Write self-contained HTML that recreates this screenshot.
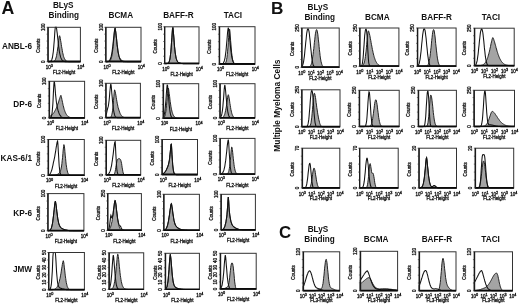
<!DOCTYPE html>
<html><head><meta charset="utf-8"><style>
html,body{margin:0;padding:0;background:#fff;}
body{width:520px;height:305px;overflow:hidden;}
svg{display:block;filter:grayscale(1) blur(0.3px);}
.s{stroke:#111;stroke-width:0.28px;}
svg{font-family:"Liberation Sans",sans-serif;}
</style></head><body>
<svg width="520" height="305" viewBox="0 0 520 305" fill="#111">
<rect width="520" height="305" fill="#fff"/>
<path d="M47.9 61.7 L47.9 61.7 L48.2 61.7 L48.6 61.7 L48.9 61.7 L49.2 61.7 L49.6 61.7 L49.9 61.7 L50.2 61.7 L50.6 61.7 L50.9 61.7 L51.3 61.7 L51.6 61.7 L51.9 61.7 L52.3 61.6 L52.6 61.6 L52.9 61.6 L53.3 61.5 L53.6 61.4 L53.9 61.3 L54.3 61.0 L54.6 60.8 L54.9 60.4 L55.3 59.8 L55.6 59.1 L55.9 58.1 L56.3 56.9 L56.6 55.4 L56.9 53.6 L57.3 51.4 L57.6 49.0 L58.0 46.3 L58.3 43.4 L58.6 40.6 L59.0 38.0 L59.3 36.1 L59.6 35.7 L60.0 36.8 L60.3 38.4 L60.6 40.3 L61.0 42.4 L61.3 44.6 L61.6 46.7 L62.0 48.7 L62.3 50.6 L62.6 52.4 L63.0 53.9 L63.3 55.3 L63.6 56.5 L64.0 57.5 L64.3 58.3 L64.7 59.0 L65.0 59.6 L65.3 60.1 L65.7 60.4 L66.0 60.7 L66.3 61.0 L66.7 61.1 L67.0 61.3 L67.3 61.4 L67.7 61.5 L68.0 61.5 L68.3 61.6 L68.7 61.6 L69.0 61.6 L69.3 61.7 L69.7 61.7 L70.0 61.7 L70.3 61.7 L70.7 61.7 L71.0 61.7 L71.4 61.7 L71.7 61.7 L72.0 61.7 L72.4 61.7 L72.7 61.7 L73.0 61.7 L73.4 61.7 L73.7 61.7 L74.0 61.7 L74.4 61.7 L74.7 61.7 L75.0 61.7 L75.4 61.7 L75.7 61.7 L76.0 61.7 L76.4 61.7 L76.7 61.7 L77.0 61.7 L77.4 61.7 L77.7 61.7 L78.1 61.7 L78.4 61.7 L78.7 61.7 L79.1 61.7 L79.4 61.7 L79.7 61.7 L80.1 61.7 L80.4 61.7 L80.4 61.7 Z" fill="#a4a4a4" stroke="#1a1a1a" stroke-width="0.95"/>
<path d="M47.9 61.7 L47.9 61.7 L48.2 61.7 L48.6 61.7 L48.9 61.7 L49.2 61.6 L49.6 61.6 L49.9 61.5 L50.2 61.4 L50.6 61.2 L50.9 61.0 L51.3 60.6 L51.6 60.0 L51.9 59.2 L52.3 58.0 L52.6 56.5 L52.9 54.4 L53.3 51.8 L53.6 48.6 L53.9 44.7 L54.3 40.3 L54.6 35.6 L54.9 30.9 L55.3 27.3 L55.6 27.3 L55.9 27.3 L56.3 27.3 L56.6 28.5 L56.9 31.1 L57.3 33.9 L57.6 37.0 L58.0 40.3 L58.3 43.4 L58.6 46.3 L59.0 48.8 L59.3 51.1 L59.6 53.0 L60.0 54.6 L60.3 56.0 L60.6 57.2 L61.0 58.1 L61.3 58.8 L61.6 59.5 L62.0 59.9 L62.3 60.3 L62.6 60.6 L63.0 60.9 L63.3 61.1 L63.6 61.2 L64.0 61.3 L64.3 61.4 L64.7 61.5 L65.0 61.6 L65.3 61.6 L65.7 61.6 L66.0 61.6 L66.3 61.7 L66.7 61.7 L67.0 61.7 L67.3 61.7 L67.7 61.7 L68.0 61.7 L68.3 61.7 L68.7 61.7 L69.0 61.7 L69.3 61.7 L69.7 61.7 L70.0 61.7 L70.3 61.7 L70.7 61.7 L71.0 61.7 L71.4 61.7 L71.7 61.7 L72.0 61.7 L72.4 61.7 L72.7 61.7 L73.0 61.7 L73.4 61.7 L73.7 61.7 L74.0 61.7 L74.4 61.7 L74.7 61.7 L75.0 61.7 L75.4 61.7 L75.7 61.7 L76.0 61.7 L76.4 61.7 L76.7 61.7 L77.0 61.7 L77.4 61.7 L77.7 61.7 L78.1 61.7 L78.4 61.7 L78.7 61.7 L79.1 61.7 L79.4 61.7 L79.7 61.7 L80.1 61.7 L80.4 61.7" fill="none" stroke="#111" stroke-width="1.05"/>
<rect x="47.90" y="27.30" width="32.50" height="34.40" fill="none" stroke="#333" stroke-width="1.0"/>
<line x1="47.90" y1="61.40" x2="80.40" y2="61.40" stroke="#0a0a0a" stroke-width="1.6"/>
<line x1="48.10" y1="27.30" x2="48.10" y2="61.70" stroke="#1a1a1a" stroke-width="1.4"/>
<line x1="46.50" y1="61.70" x2="47.90" y2="61.70" stroke="#333" stroke-width="0.6"/>
<line x1="46.50" y1="54.82" x2="47.90" y2="54.82" stroke="#333" stroke-width="0.6"/>
<line x1="46.50" y1="47.94" x2="47.90" y2="47.94" stroke="#333" stroke-width="0.6"/>
<line x1="46.50" y1="41.06" x2="47.90" y2="41.06" stroke="#333" stroke-width="0.6"/>
<line x1="46.50" y1="34.18" x2="47.90" y2="34.18" stroke="#333" stroke-width="0.6"/>
<line x1="46.50" y1="27.30" x2="47.90" y2="27.30" stroke="#333" stroke-width="0.6"/>
<text class="s" transform="translate(44.90 27.30) rotate(-90)" text-anchor="middle" font-size="4.5">100</text>
<text class="s" transform="translate(44.90 61.70) rotate(-90)" text-anchor="middle" font-size="4.5">0</text>
<text class="s" transform="translate(39.90 45.70) rotate(-90)" text-anchor="middle" font-size="4.5">Counts</text>
<text class="s" x="49.20" y="68.70" text-anchor="middle" font-size="4.5">10<tspan font-size="3.8" dy="-1.9">0</tspan></text>
<text class="s" x="80.70" y="68.70" text-anchor="middle" font-size="4.5">10<tspan font-size="3.8" dy="-1.9">4</tspan></text>
<text class="s" x="64.15" y="73.90" text-anchor="middle" font-size="4.5">FL2-Height</text>
<path d="M105.7 61.7 L105.7 61.7 L106.0 61.7 L106.4 61.7 L106.7 61.7 L107.0 61.7 L107.4 61.7 L107.7 61.6 L108.1 61.6 L108.4 61.6 L108.7 61.5 L109.1 61.4 L109.4 61.2 L109.7 61.0 L110.1 60.7 L110.4 60.2 L110.7 59.6 L111.1 58.7 L111.4 57.6 L111.8 56.2 L112.1 54.4 L112.4 52.2 L112.8 49.6 L113.1 46.6 L113.4 43.2 L113.8 39.5 L114.1 35.9 L114.4 32.4 L114.8 29.6 L115.1 28.1 L115.4 29.5 L115.8 32.0 L116.1 35.2 L116.5 38.5 L116.8 41.8 L117.1 44.9 L117.5 47.8 L117.8 50.2 L118.1 52.3 L118.5 54.1 L118.8 55.4 L119.1 56.5 L119.5 57.4 L119.8 58.0 L120.2 58.6 L120.5 59.1 L120.8 59.5 L121.2 59.8 L121.5 60.1 L121.8 60.4 L122.2 60.6 L122.5 60.8 L122.8 60.9 L123.2 61.1 L123.5 61.2 L123.9 61.3 L124.2 61.4 L124.5 61.4 L124.9 61.5 L125.2 61.5 L125.5 61.6 L125.9 61.6 L126.2 61.6 L126.5 61.6 L126.9 61.7 L127.2 61.7 L127.6 61.7 L127.9 61.7 L128.2 61.7 L128.6 61.7 L128.9 61.7 L129.2 61.7 L129.6 61.7 L129.9 61.7 L130.2 61.7 L130.6 61.7 L130.9 61.7 L131.3 61.7 L131.6 61.7 L131.9 61.7 L132.3 61.7 L132.6 61.7 L132.9 61.7 L133.3 61.7 L133.6 61.7 L133.9 61.7 L134.3 61.7 L134.6 61.7 L134.9 61.7 L135.3 61.7 L135.6 61.7 L136.0 61.7 L136.3 61.7 L136.6 61.7 L137.0 61.7 L137.3 61.7 L137.6 61.7 L138.0 61.7 L138.3 61.7 L138.6 61.7 L139.0 61.7 L139.3 61.7 L139.7 61.7 L140.0 61.7 L140.3 61.7 L140.7 61.7 L141.0 61.7 L141.0 61.7 Z" fill="#a4a4a4" stroke="#1a1a1a" stroke-width="0.95"/>
<path d="M105.7 61.7 L105.7 61.7 L106.0 61.7 L106.4 61.7 L106.7 61.6 L107.0 61.6 L107.4 61.6 L107.7 61.5 L108.1 61.4 L108.4 61.3 L108.7 61.1 L109.1 60.9 L109.4 60.6 L109.7 60.1 L110.1 59.6 L110.4 58.8 L110.7 57.9 L111.1 56.7 L111.4 55.3 L111.8 53.5 L112.1 51.5 L112.4 49.1 L112.8 46.4 L113.1 43.4 L113.4 40.2 L113.8 36.9 L114.1 33.8 L114.4 31.0 L114.8 29.0 L115.1 28.5 L115.4 30.1 L115.8 32.5 L116.1 35.3 L116.5 38.3 L116.8 41.4 L117.1 44.4 L117.5 47.1 L117.8 49.6 L118.1 51.8 L118.5 53.7 L118.8 55.4 L119.1 56.7 L119.5 57.8 L119.8 58.7 L120.2 59.4 L120.5 60.0 L120.8 60.4 L121.2 60.8 L121.5 61.0 L121.8 61.2 L122.2 61.4 L122.5 61.5 L122.8 61.5 L123.2 61.6 L123.5 61.6 L123.9 61.6 L124.2 61.7 L124.5 61.7 L124.9 61.7 L125.2 61.7 L125.5 61.7 L125.9 61.7 L126.2 61.7 L126.5 61.7 L126.9 61.7 L127.2 61.7 L127.6 61.7 L127.9 61.7 L128.2 61.7 L128.6 61.7 L128.9 61.7 L129.2 61.7 L129.6 61.7 L129.9 61.7 L130.2 61.7 L130.6 61.7 L130.9 61.7 L131.3 61.7 L131.6 61.7 L131.9 61.7 L132.3 61.7 L132.6 61.7 L132.9 61.7 L133.3 61.7 L133.6 61.7 L133.9 61.7 L134.3 61.7 L134.6 61.7 L134.9 61.7 L135.3 61.7 L135.6 61.7 L136.0 61.7 L136.3 61.7 L136.6 61.7 L137.0 61.7 L137.3 61.7 L137.6 61.7 L138.0 61.7 L138.3 61.7 L138.6 61.7 L139.0 61.7 L139.3 61.7 L139.7 61.7 L140.0 61.7 L140.3 61.7 L140.7 61.7 L141.0 61.7" fill="none" stroke="#111" stroke-width="1.05"/>
<rect x="105.70" y="27.30" width="35.30" height="34.40" fill="none" stroke="#333" stroke-width="1.0"/>
<line x1="105.70" y1="61.40" x2="141.00" y2="61.40" stroke="#0a0a0a" stroke-width="1.6"/>
<line x1="105.90" y1="27.30" x2="105.90" y2="61.70" stroke="#1a1a1a" stroke-width="1.4"/>
<line x1="104.30" y1="61.70" x2="105.70" y2="61.70" stroke="#333" stroke-width="0.6"/>
<line x1="104.30" y1="54.82" x2="105.70" y2="54.82" stroke="#333" stroke-width="0.6"/>
<line x1="104.30" y1="47.94" x2="105.70" y2="47.94" stroke="#333" stroke-width="0.6"/>
<line x1="104.30" y1="41.06" x2="105.70" y2="41.06" stroke="#333" stroke-width="0.6"/>
<line x1="104.30" y1="34.18" x2="105.70" y2="34.18" stroke="#333" stroke-width="0.6"/>
<line x1="104.30" y1="27.30" x2="105.70" y2="27.30" stroke="#333" stroke-width="0.6"/>
<text class="s" transform="translate(102.70 27.30) rotate(-90)" text-anchor="middle" font-size="4.5">100</text>
<text class="s" transform="translate(102.70 61.70) rotate(-90)" text-anchor="middle" font-size="4.5">0</text>
<text class="s" transform="translate(97.70 45.70) rotate(-90)" text-anchor="middle" font-size="4.5">Counts</text>
<text class="s" x="107.00" y="68.70" text-anchor="middle" font-size="4.5">10<tspan font-size="3.8" dy="-1.9">0</tspan></text>
<text class="s" x="141.30" y="68.70" text-anchor="middle" font-size="4.5">10<tspan font-size="3.8" dy="-1.9">4</tspan></text>
<text class="s" x="123.35" y="73.90" text-anchor="middle" font-size="4.5">FL2-Height</text>
<path d="M164.5 63.6 L164.5 63.6 L164.8 63.6 L165.2 63.6 L165.5 63.6 L165.8 63.6 L166.2 63.6 L166.5 63.6 L166.8 63.5 L167.2 63.5 L167.5 63.4 L167.8 63.3 L168.2 63.1 L168.5 62.8 L168.9 62.3 L169.2 61.6 L169.5 60.6 L169.9 59.1 L170.2 57.1 L170.5 54.5 L170.9 51.2 L171.2 47.2 L171.5 42.6 L171.9 37.6 L172.2 32.8 L172.5 28.9 L172.9 27.4 L173.2 29.8 L173.5 33.6 L173.9 37.9 L174.2 42.2 L174.5 46.3 L174.9 49.8 L175.2 52.7 L175.6 55.1 L175.9 56.9 L176.2 58.4 L176.6 59.6 L176.9 60.4 L177.2 61.1 L177.6 61.6 L177.9 62.0 L178.2 62.3 L178.6 62.6 L178.9 62.8 L179.2 62.9 L179.6 63.0 L179.9 63.2 L180.2 63.2 L180.6 63.3 L180.9 63.4 L181.2 63.4 L181.6 63.5 L181.9 63.5 L182.3 63.5 L182.6 63.5 L182.9 63.6 L183.3 63.6 L183.6 63.6 L183.9 63.6 L184.3 63.6 L184.6 63.6 L184.9 63.6 L185.3 63.6 L185.6 63.6 L185.9 63.6 L186.3 63.6 L186.6 63.6 L186.9 63.6 L187.3 63.6 L187.6 63.6 L187.9 63.6 L188.3 63.6 L188.6 63.6 L189.0 63.6 L189.3 63.6 L189.6 63.6 L190.0 63.6 L190.3 63.6 L190.6 63.6 L191.0 63.6 L191.3 63.6 L191.6 63.6 L192.0 63.6 L192.3 63.6 L192.6 63.6 L193.0 63.6 L193.3 63.6 L193.6 63.6 L194.0 63.6 L194.3 63.6 L194.6 63.6 L195.0 63.6 L195.3 63.6 L195.7 63.6 L196.0 63.6 L196.3 63.6 L196.7 63.6 L197.0 63.6 L197.3 63.6 L197.7 63.6 L198.0 63.6 L198.3 63.6 L198.7 63.6 L199.0 63.6 L199.0 63.6 Z" fill="#a4a4a4" stroke="#1a1a1a" stroke-width="0.95"/>
<path d="M164.5 63.6 L164.5 63.6 L164.8 63.6 L165.2 63.6 L165.5 63.6 L165.8 63.6 L166.2 63.6 L166.5 63.6 L166.8 63.5 L167.2 63.5 L167.5 63.4 L167.8 63.3 L168.2 63.1 L168.5 62.8 L168.9 62.3 L169.2 61.6 L169.5 60.6 L169.9 59.1 L170.2 57.1 L170.5 54.5 L170.9 51.2 L171.2 47.2 L171.5 42.6 L171.9 37.6 L172.2 32.8 L172.5 28.9 L172.9 27.4 L173.2 29.8 L173.5 33.6 L173.9 37.9 L174.2 42.2 L174.5 46.3 L174.9 49.8 L175.2 52.7 L175.6 55.1 L175.9 56.9 L176.2 58.4 L176.6 59.6 L176.9 60.4 L177.2 61.1 L177.6 61.6 L177.9 62.0 L178.2 62.3 L178.6 62.6 L178.9 62.8 L179.2 62.9 L179.6 63.0 L179.9 63.2 L180.2 63.2 L180.6 63.3 L180.9 63.4 L181.2 63.4 L181.6 63.5 L181.9 63.5 L182.3 63.5 L182.6 63.5 L182.9 63.6 L183.3 63.6 L183.6 63.6 L183.9 63.6 L184.3 63.6 L184.6 63.6 L184.9 63.6 L185.3 63.6 L185.6 63.6 L185.9 63.6 L186.3 63.6 L186.6 63.6 L186.9 63.6 L187.3 63.6 L187.6 63.6 L187.9 63.6 L188.3 63.6 L188.6 63.6 L189.0 63.6 L189.3 63.6 L189.6 63.6 L190.0 63.6 L190.3 63.6 L190.6 63.6 L191.0 63.6 L191.3 63.6 L191.6 63.6 L192.0 63.6 L192.3 63.6 L192.6 63.6 L193.0 63.6 L193.3 63.6 L193.6 63.6 L194.0 63.6 L194.3 63.6 L194.6 63.6 L195.0 63.6 L195.3 63.6 L195.7 63.6 L196.0 63.6 L196.3 63.6 L196.7 63.6 L197.0 63.6 L197.3 63.6 L197.7 63.6 L198.0 63.6 L198.3 63.6 L198.7 63.6 L199.0 63.6" fill="none" stroke="#111" stroke-width="1.05"/>
<rect x="164.50" y="26.80" width="34.50" height="36.80" fill="none" stroke="#333" stroke-width="1.0"/>
<line x1="164.50" y1="63.30" x2="199.00" y2="63.30" stroke="#0a0a0a" stroke-width="1.6"/>
<line x1="164.70" y1="26.80" x2="164.70" y2="63.60" stroke="#1a1a1a" stroke-width="1.4"/>
<line x1="163.10" y1="63.60" x2="164.50" y2="63.60" stroke="#333" stroke-width="0.6"/>
<line x1="163.10" y1="56.24" x2="164.50" y2="56.24" stroke="#333" stroke-width="0.6"/>
<line x1="163.10" y1="48.88" x2="164.50" y2="48.88" stroke="#333" stroke-width="0.6"/>
<line x1="163.10" y1="41.52" x2="164.50" y2="41.52" stroke="#333" stroke-width="0.6"/>
<line x1="163.10" y1="34.16" x2="164.50" y2="34.16" stroke="#333" stroke-width="0.6"/>
<line x1="163.10" y1="26.80" x2="164.50" y2="26.80" stroke="#333" stroke-width="0.6"/>
<text class="s" transform="translate(161.50 26.80) rotate(-90)" text-anchor="middle" font-size="4.5">100</text>
<text class="s" transform="translate(161.50 63.60) rotate(-90)" text-anchor="middle" font-size="4.5">0</text>
<text class="s" transform="translate(156.50 46.40) rotate(-90)" text-anchor="middle" font-size="4.5">Counts</text>
<text class="s" x="165.80" y="70.60" text-anchor="middle" font-size="4.5">10<tspan font-size="3.8" dy="-1.9">0</tspan></text>
<text class="s" x="199.30" y="70.60" text-anchor="middle" font-size="4.5">10<tspan font-size="3.8" dy="-1.9">4</tspan></text>
<text class="s" x="181.75" y="75.80" text-anchor="middle" font-size="4.5">FL2-Height</text>
<path d="M219.3 64.2 L219.3 64.2 L219.6 64.2 L220.0 64.2 L220.3 64.2 L220.6 64.2 L221.0 64.2 L221.3 64.2 L221.6 64.2 L222.0 64.2 L222.3 64.2 L222.6 64.2 L223.0 64.2 L223.3 64.2 L223.6 64.1 L224.0 64.1 L224.3 64.0 L224.6 63.9 L225.0 63.7 L225.3 63.3 L225.6 62.8 L226.0 62.0 L226.3 60.9 L226.6 59.4 L227.0 57.3 L227.3 54.6 L227.6 51.2 L228.0 47.1 L228.3 42.5 L228.6 37.6 L229.0 33.0 L229.3 29.5 L229.6 29.1 L230.0 32.0 L230.3 36.0 L230.6 40.5 L231.0 44.9 L231.3 49.0 L231.6 52.5 L232.0 55.4 L232.3 57.8 L232.6 59.6 L233.0 61.0 L233.3 62.0 L233.6 62.7 L234.0 63.2 L234.3 63.6 L234.6 63.8 L235.0 64.0 L235.3 64.1 L235.6 64.1 L236.0 64.1 L236.3 64.2 L236.6 64.2 L237.0 64.2 L237.3 64.2 L237.7 64.2 L238.0 64.2 L238.3 64.2 L238.7 64.2 L239.0 64.2 L239.3 64.2 L239.7 64.2 L240.0 64.2 L240.3 64.2 L240.7 64.2 L241.0 64.2 L241.3 64.2 L241.7 64.2 L242.0 64.2 L242.3 64.2 L242.7 64.2 L243.0 64.2 L243.3 64.2 L243.7 64.2 L244.0 64.2 L244.3 64.2 L244.7 64.2 L245.0 64.2 L245.3 64.2 L245.7 64.2 L246.0 64.2 L246.3 64.2 L246.7 64.2 L247.0 64.2 L247.3 64.2 L247.7 64.2 L248.0 64.2 L248.3 64.2 L248.7 64.2 L249.0 64.2 L249.3 64.2 L249.7 64.2 L250.0 64.2 L250.3 64.2 L250.7 64.2 L251.0 64.2 L251.3 64.2 L251.7 64.2 L252.0 64.2 L252.3 64.2 L252.7 64.2 L253.0 64.2 L253.3 64.2 L253.7 64.2 L254.0 64.2 L254.3 64.2 L254.7 64.2 L255.0 64.2 L255.0 64.2 Z" fill="#a4a4a4" stroke="#1a1a1a" stroke-width="0.95"/>
<path d="M219.3 64.2 L219.3 64.2 L219.6 64.2 L220.0 64.2 L220.3 64.2 L220.6 64.2 L221.0 64.1 L221.3 64.1 L221.6 64.0 L222.0 64.0 L222.3 63.8 L222.6 63.6 L223.0 63.4 L223.3 63.0 L223.6 62.5 L224.0 61.8 L224.3 60.9 L224.6 59.6 L225.0 58.1 L225.3 56.1 L225.6 53.7 L226.0 50.8 L226.3 47.5 L226.6 43.8 L227.0 39.8 L227.3 35.8 L227.6 32.1 L228.0 29.0 L228.3 27.5 L228.6 28.8 L229.0 31.4 L229.3 34.6 L229.6 38.1 L230.0 41.7 L230.3 45.1 L230.6 48.3 L231.0 51.1 L231.3 53.7 L231.6 55.8 L232.0 57.6 L232.3 59.1 L232.6 60.3 L233.0 61.3 L233.3 62.0 L233.6 62.6 L234.0 63.0 L234.3 63.4 L234.6 63.6 L235.0 63.8 L235.3 63.9 L235.6 64.0 L236.0 64.1 L236.3 64.1 L236.6 64.1 L237.0 64.2 L237.3 64.2 L237.7 64.2 L238.0 64.2 L238.3 64.2 L238.7 64.2 L239.0 64.2 L239.3 64.2 L239.7 64.2 L240.0 64.2 L240.3 64.2 L240.7 64.2 L241.0 64.2 L241.3 64.2 L241.7 64.2 L242.0 64.2 L242.3 64.2 L242.7 64.2 L243.0 64.2 L243.3 64.2 L243.7 64.2 L244.0 64.2 L244.3 64.2 L244.7 64.2 L245.0 64.2 L245.3 64.2 L245.7 64.2 L246.0 64.2 L246.3 64.2 L246.7 64.2 L247.0 64.2 L247.3 64.2 L247.7 64.2 L248.0 64.2 L248.3 64.2 L248.7 64.2 L249.0 64.2 L249.3 64.2 L249.7 64.2 L250.0 64.2 L250.3 64.2 L250.7 64.2 L251.0 64.2 L251.3 64.2 L251.7 64.2 L252.0 64.2 L252.3 64.2 L252.7 64.2 L253.0 64.2 L253.3 64.2 L253.7 64.2 L254.0 64.2 L254.3 64.2 L254.7 64.2 L255.0 64.2" fill="none" stroke="#111" stroke-width="1.05"/>
<rect x="219.30" y="26.70" width="35.70" height="37.50" fill="none" stroke="#333" stroke-width="1.0"/>
<line x1="219.30" y1="63.90" x2="255.00" y2="63.90" stroke="#0a0a0a" stroke-width="1.6"/>
<line x1="219.50" y1="26.70" x2="219.50" y2="64.20" stroke="#1a1a1a" stroke-width="1.4"/>
<line x1="217.90" y1="64.20" x2="219.30" y2="64.20" stroke="#333" stroke-width="0.6"/>
<line x1="217.90" y1="56.70" x2="219.30" y2="56.70" stroke="#333" stroke-width="0.6"/>
<line x1="217.90" y1="49.20" x2="219.30" y2="49.20" stroke="#333" stroke-width="0.6"/>
<line x1="217.90" y1="41.70" x2="219.30" y2="41.70" stroke="#333" stroke-width="0.6"/>
<line x1="217.90" y1="34.20" x2="219.30" y2="34.20" stroke="#333" stroke-width="0.6"/>
<line x1="217.90" y1="26.70" x2="219.30" y2="26.70" stroke="#333" stroke-width="0.6"/>
<text class="s" transform="translate(216.30 26.70) rotate(-90)" text-anchor="middle" font-size="4.5">100</text>
<text class="s" transform="translate(216.30 64.20) rotate(-90)" text-anchor="middle" font-size="4.5">0</text>
<text class="s" transform="translate(211.30 46.65) rotate(-90)" text-anchor="middle" font-size="4.5">Counts</text>
<text class="s" x="220.60" y="71.20" text-anchor="middle" font-size="4.5">10<tspan font-size="3.8" dy="-1.9">0</tspan></text>
<text class="s" x="255.30" y="71.20" text-anchor="middle" font-size="4.5">10<tspan font-size="3.8" dy="-1.9">4</tspan></text>
<text class="s" x="237.15" y="76.40" text-anchor="middle" font-size="4.5">FL2-Height</text>
<path d="M49.2 118.0 L49.2 116.6 L49.5 116.5 L49.9 116.3 L50.2 116.1 L50.5 115.9 L50.9 115.7 L51.2 115.5 L51.5 115.2 L51.9 114.9 L52.2 114.6 L52.5 114.3 L52.9 113.9 L53.2 113.5 L53.5 113.1 L53.9 112.7 L54.2 112.2 L54.5 111.6 L54.9 111.0 L55.2 110.4 L55.5 109.8 L55.9 109.1 L56.2 108.3 L56.5 107.5 L56.9 106.7 L57.2 105.8 L57.5 104.9 L57.9 104.0 L58.2 103.0 L58.6 101.9 L58.9 100.9 L59.2 99.8 L59.6 98.8 L59.9 97.8 L60.2 96.8 L60.6 95.9 L60.9 95.3 L61.2 96.3 L61.6 97.8 L61.9 99.4 L62.2 101.0 L62.6 102.6 L62.9 104.2 L63.2 105.6 L63.6 107.0 L63.9 108.2 L64.2 109.4 L64.6 110.4 L64.9 111.3 L65.2 112.2 L65.6 112.9 L65.9 113.6 L66.2 114.2 L66.6 114.7 L66.9 115.2 L67.2 115.6 L67.6 115.9 L67.9 116.2 L68.2 116.5 L68.6 116.7 L68.9 116.9 L69.2 117.1 L69.6 117.2 L69.9 117.3 L70.2 117.4 L70.6 117.5 L70.9 117.6 L71.2 117.7 L71.6 117.7 L71.9 117.8 L72.2 117.8 L72.6 117.8 L72.9 117.9 L73.2 117.9 L73.6 117.9 L73.9 117.9 L74.2 117.9 L74.6 117.9 L74.9 118.0 L75.2 118.0 L75.6 118.0 L75.9 118.0 L76.3 118.0 L76.6 118.0 L76.9 118.0 L77.3 118.0 L77.6 118.0 L77.9 118.0 L78.3 118.0 L78.6 118.0 L78.9 118.0 L79.3 118.0 L79.6 118.0 L79.9 118.0 L80.3 118.0 L80.6 118.0 L80.9 118.0 L81.3 118.0 L81.6 118.0 L81.9 118.0 L82.3 118.0 L82.6 118.0 L82.9 118.0 L83.3 118.0 L83.6 118.0 L83.9 118.0 L84.3 118.0 L84.6 118.0 L84.6 118.0 Z" fill="#a4a4a4" stroke="#1a1a1a" stroke-width="0.95"/>
<path d="M49.2 118.0 L49.2 118.0 L49.5 118.0 L49.9 117.9 L50.2 117.8 L50.5 117.6 L50.9 117.3 L51.2 116.7 L51.5 115.8 L51.9 114.2 L52.2 111.7 L52.5 108.2 L52.9 103.4 L53.2 97.4 L53.5 90.6 L53.9 84.3 L54.2 81.3 L54.5 82.3 L54.9 85.8 L55.2 89.9 L55.5 93.9 L55.9 97.5 L56.2 100.5 L56.5 102.9 L56.9 104.9 L57.2 106.8 L57.5 108.4 L57.9 109.8 L58.2 111.0 L58.6 112.0 L58.9 112.9 L59.2 113.7 L59.6 114.3 L59.9 114.9 L60.2 115.4 L60.6 115.9 L60.9 116.3 L61.2 116.6 L61.6 116.9 L61.9 117.1 L62.2 117.3 L62.6 117.4 L62.9 117.6 L63.2 117.7 L63.6 117.7 L63.9 117.8 L64.2 117.9 L64.6 117.9 L64.9 117.9 L65.2 117.9 L65.6 118.0 L65.9 118.0 L66.2 118.0 L66.6 118.0 L66.9 118.0 L67.2 118.0 L67.6 118.0 L67.9 118.0 L68.2 118.0 L68.6 118.0 L68.9 118.0 L69.2 118.0 L69.6 118.0 L69.9 118.0 L70.2 118.0 L70.6 118.0 L70.9 118.0 L71.2 118.0 L71.6 118.0 L71.9 118.0 L72.2 118.0 L72.6 118.0 L72.9 118.0 L73.2 118.0 L73.6 118.0 L73.9 118.0 L74.2 118.0 L74.6 118.0 L74.9 118.0 L75.2 118.0 L75.6 118.0 L75.9 118.0 L76.3 118.0 L76.6 118.0 L76.9 118.0 L77.3 118.0 L77.6 118.0 L77.9 118.0 L78.3 118.0 L78.6 118.0 L78.9 118.0 L79.3 118.0 L79.6 118.0 L79.9 118.0 L80.3 118.0 L80.6 118.0 L80.9 118.0 L81.3 118.0 L81.6 118.0 L81.9 118.0 L82.3 118.0 L82.6 118.0 L82.9 118.0 L83.3 118.0 L83.6 118.0 L83.9 118.0 L84.3 118.0 L84.6 118.0" fill="none" stroke="#111" stroke-width="1.05"/>
<rect x="49.20" y="81.30" width="35.40" height="36.70" fill="none" stroke="#333" stroke-width="1.0"/>
<line x1="49.20" y1="117.70" x2="84.60" y2="117.70" stroke="#0a0a0a" stroke-width="1.6"/>
<line x1="49.40" y1="81.30" x2="49.40" y2="118.00" stroke="#1a1a1a" stroke-width="1.4"/>
<line x1="47.80" y1="118.00" x2="49.20" y2="118.00" stroke="#333" stroke-width="0.6"/>
<line x1="47.80" y1="110.66" x2="49.20" y2="110.66" stroke="#333" stroke-width="0.6"/>
<line x1="47.80" y1="103.32" x2="49.20" y2="103.32" stroke="#333" stroke-width="0.6"/>
<line x1="47.80" y1="95.98" x2="49.20" y2="95.98" stroke="#333" stroke-width="0.6"/>
<line x1="47.80" y1="88.64" x2="49.20" y2="88.64" stroke="#333" stroke-width="0.6"/>
<line x1="47.80" y1="81.30" x2="49.20" y2="81.30" stroke="#333" stroke-width="0.6"/>
<text class="s" transform="translate(46.20 81.30) rotate(-90)" text-anchor="middle" font-size="4.5">100</text>
<text class="s" transform="translate(46.20 118.00) rotate(-90)" text-anchor="middle" font-size="4.5">0</text>
<text class="s" transform="translate(41.20 100.85) rotate(-90)" text-anchor="middle" font-size="4.5">Counts</text>
<text class="s" x="50.50" y="125.00" text-anchor="middle" font-size="4.5">10<tspan font-size="3.8" dy="-1.9">0</tspan></text>
<text class="s" x="84.90" y="125.00" text-anchor="middle" font-size="4.5">10<tspan font-size="3.8" dy="-1.9">4</tspan></text>
<text class="s" x="66.90" y="130.20" text-anchor="middle" font-size="4.5">FL2-Height</text>
<path d="M105.8 117.8 L105.8 117.8 L106.1 117.8 L106.5 117.8 L106.8 117.8 L107.1 117.8 L107.5 117.8 L107.8 117.8 L108.2 117.8 L108.5 117.8 L108.8 117.8 L109.2 117.8 L109.5 117.7 L109.8 117.6 L110.2 117.5 L110.5 117.3 L110.8 117.0 L111.2 116.5 L111.5 115.7 L111.8 114.6 L112.2 113.0 L112.5 110.8 L112.9 108.0 L113.2 104.5 L113.5 100.5 L113.9 96.3 L114.2 92.5 L114.5 89.9 L114.9 90.2 L115.2 91.5 L115.5 93.2 L115.9 95.2 L116.2 97.3 L116.5 99.3 L116.9 101.3 L117.2 103.2 L117.6 104.9 L117.9 106.4 L118.2 107.8 L118.6 109.0 L118.9 110.0 L119.2 111.0 L119.6 112.0 L119.9 112.9 L120.2 113.6 L120.6 114.3 L120.9 114.9 L121.3 115.4 L121.6 115.8 L121.9 116.2 L122.3 116.5 L122.6 116.8 L122.9 117.0 L123.3 117.1 L123.6 117.3 L123.9 117.4 L124.3 117.5 L124.6 117.6 L124.9 117.6 L125.3 117.7 L125.6 117.7 L126.0 117.7 L126.3 117.7 L126.6 117.8 L127.0 117.8 L127.3 117.8 L127.6 117.8 L128.0 117.8 L128.3 117.8 L128.6 117.8 L129.0 117.8 L129.3 117.8 L129.7 117.8 L130.0 117.8 L130.3 117.8 L130.7 117.8 L131.0 117.8 L131.3 117.8 L131.7 117.8 L132.0 117.8 L132.3 117.8 L132.7 117.8 L133.0 117.8 L133.3 117.8 L133.7 117.8 L134.0 117.8 L134.4 117.8 L134.7 117.8 L135.0 117.8 L135.4 117.8 L135.7 117.8 L136.0 117.8 L136.4 117.8 L136.7 117.8 L137.0 117.8 L137.4 117.8 L137.7 117.8 L138.0 117.8 L138.4 117.8 L138.7 117.8 L139.1 117.8 L139.4 117.8 L139.7 117.8 L140.1 117.8 L140.4 117.8 L140.4 117.8 Z" fill="#a4a4a4" stroke="#1a1a1a" stroke-width="0.95"/>
<path d="M105.8 117.8 L105.8 115.7 L106.1 114.8 L106.5 113.6 L106.8 112.2 L107.1 110.6 L107.5 109.0 L107.8 107.9 L108.2 106.7 L108.5 105.0 L108.8 102.7 L109.2 99.8 L109.5 96.2 L109.8 92.3 L110.2 88.5 L110.5 85.3 L110.8 83.9 L111.2 85.9 L111.5 89.2 L111.8 93.1 L112.2 97.1 L112.5 100.9 L112.9 104.4 L113.2 107.4 L113.5 109.9 L113.9 111.9 L114.2 113.5 L114.5 114.7 L114.9 115.7 L115.2 116.3 L115.5 116.8 L115.9 117.1 L116.2 117.4 L116.5 117.5 L116.9 117.6 L117.2 117.7 L117.6 117.7 L117.9 117.8 L118.2 117.8 L118.6 117.8 L118.9 117.8 L119.2 117.8 L119.6 117.8 L119.9 117.8 L120.2 117.8 L120.6 117.8 L120.9 117.8 L121.3 117.8 L121.6 117.8 L121.9 117.8 L122.3 117.8 L122.6 117.8 L122.9 117.8 L123.3 117.8 L123.6 117.8 L123.9 117.8 L124.3 117.8 L124.6 117.8 L124.9 117.8 L125.3 117.8 L125.6 117.8 L126.0 117.8 L126.3 117.8 L126.6 117.8 L127.0 117.8 L127.3 117.8 L127.6 117.8 L128.0 117.8 L128.3 117.8 L128.6 117.8 L129.0 117.8 L129.3 117.8 L129.7 117.8 L130.0 117.8 L130.3 117.8 L130.7 117.8 L131.0 117.8 L131.3 117.8 L131.7 117.8 L132.0 117.8 L132.3 117.8 L132.7 117.8 L133.0 117.8 L133.3 117.8 L133.7 117.8 L134.0 117.8 L134.4 117.8 L134.7 117.8 L135.0 117.8 L135.4 117.8 L135.7 117.8 L136.0 117.8 L136.4 117.8 L136.7 117.8 L137.0 117.8 L137.4 117.8 L137.7 117.8 L138.0 117.8 L138.4 117.8 L138.7 117.8 L139.1 117.8 L139.4 117.8 L139.7 117.8 L140.1 117.8 L140.4 117.8" fill="none" stroke="#111" stroke-width="1.05"/>
<rect x="105.80" y="83.30" width="34.60" height="34.50" fill="none" stroke="#333" stroke-width="1.0"/>
<line x1="105.80" y1="117.50" x2="140.40" y2="117.50" stroke="#0a0a0a" stroke-width="1.6"/>
<line x1="106.00" y1="83.30" x2="106.00" y2="117.80" stroke="#1a1a1a" stroke-width="1.4"/>
<line x1="104.40" y1="117.80" x2="105.80" y2="117.80" stroke="#333" stroke-width="0.6"/>
<line x1="104.40" y1="110.90" x2="105.80" y2="110.90" stroke="#333" stroke-width="0.6"/>
<line x1="104.40" y1="104.00" x2="105.80" y2="104.00" stroke="#333" stroke-width="0.6"/>
<line x1="104.40" y1="97.10" x2="105.80" y2="97.10" stroke="#333" stroke-width="0.6"/>
<line x1="104.40" y1="90.20" x2="105.80" y2="90.20" stroke="#333" stroke-width="0.6"/>
<line x1="104.40" y1="83.30" x2="105.80" y2="83.30" stroke="#333" stroke-width="0.6"/>
<text class="s" transform="translate(102.80 83.30) rotate(-90)" text-anchor="middle" font-size="4.5">100</text>
<text class="s" transform="translate(102.80 117.80) rotate(-90)" text-anchor="middle" font-size="4.5">0</text>
<text class="s" transform="translate(97.80 101.75) rotate(-90)" text-anchor="middle" font-size="4.5">Counts</text>
<text class="s" x="107.10" y="124.80" text-anchor="middle" font-size="4.5">10<tspan font-size="3.8" dy="-1.9">0</tspan></text>
<text class="s" x="140.70" y="124.80" text-anchor="middle" font-size="4.5">10<tspan font-size="3.8" dy="-1.9">4</tspan></text>
<text class="s" x="123.10" y="130.00" text-anchor="middle" font-size="4.5">FL2-Height</text>
<path d="M163.2 118.4 L163.2 118.2 L163.5 118.0 L163.9 117.8 L164.2 117.4 L164.5 116.8 L164.9 116.0 L165.2 114.9 L165.5 113.3 L165.9 111.2 L166.2 108.5 L166.5 105.3 L166.9 101.5 L167.2 97.4 L167.6 93.3 L167.9 89.8 L168.2 88.1 L168.6 89.1 L168.9 91.2 L169.2 93.6 L169.6 96.3 L169.9 99.1 L170.2 101.7 L170.6 104.1 L170.9 106.2 L171.2 108.1 L171.6 109.7 L171.9 111.1 L172.2 112.3 L172.6 113.4 L172.9 114.3 L173.2 115.0 L173.6 115.7 L173.9 116.2 L174.3 116.6 L174.6 117.0 L174.9 117.2 L175.3 117.5 L175.6 117.7 L175.9 117.8 L176.3 117.9 L176.6 118.0 L176.9 118.1 L177.3 118.2 L177.6 118.2 L177.9 118.3 L178.3 118.3 L178.6 118.3 L178.9 118.3 L179.3 118.4 L179.6 118.4 L179.9 118.4 L180.3 118.4 L180.6 118.4 L180.9 118.4 L181.3 118.4 L181.6 118.4 L182.0 118.4 L182.3 118.4 L182.6 118.4 L183.0 118.4 L183.3 118.4 L183.6 118.4 L184.0 118.4 L184.3 118.4 L184.6 118.4 L185.0 118.4 L185.3 118.4 L185.6 118.4 L186.0 118.4 L186.3 118.4 L186.6 118.4 L187.0 118.4 L187.3 118.4 L187.6 118.4 L188.0 118.4 L188.3 118.4 L188.7 118.4 L189.0 118.4 L189.3 118.4 L189.7 118.4 L190.0 118.4 L190.3 118.4 L190.7 118.4 L191.0 118.4 L191.3 118.4 L191.7 118.4 L192.0 118.4 L192.3 118.4 L192.7 118.4 L193.0 118.4 L193.3 118.4 L193.7 118.4 L194.0 118.4 L194.3 118.4 L194.7 118.4 L195.0 118.4 L195.4 118.4 L195.7 118.4 L196.0 118.4 L196.4 118.4 L196.7 118.4 L197.0 118.4 L197.4 118.4 L197.7 118.4 L198.0 118.4 L198.4 118.4 L198.7 118.4 L198.7 118.4 Z" fill="#a4a4a4" stroke="#1a1a1a" stroke-width="0.95"/>
<path d="M163.2 118.4 L163.2 117.4 L163.5 116.9 L163.9 116.1 L164.2 114.9 L164.5 113.3 L164.9 111.1 L165.2 108.3 L165.5 104.8 L165.9 100.7 L166.2 96.2 L166.5 91.5 L166.9 87.4 L167.2 84.6 L167.6 85.6 L167.9 88.9 L168.2 92.9 L168.6 97.2 L168.9 101.4 L169.2 105.1 L169.6 108.3 L169.9 110.9 L170.2 113.0 L170.6 114.6 L170.9 115.8 L171.2 116.6 L171.6 117.2 L171.9 117.6 L172.2 117.9 L172.6 118.1 L172.9 118.2 L173.2 118.3 L173.6 118.3 L173.9 118.4 L174.3 118.4 L174.6 118.4 L174.9 118.4 L175.3 118.4 L175.6 118.4 L175.9 118.4 L176.3 118.4 L176.6 118.4 L176.9 118.4 L177.3 118.4 L177.6 118.4 L177.9 118.4 L178.3 118.4 L178.6 118.4 L178.9 118.4 L179.3 118.4 L179.6 118.4 L179.9 118.4 L180.3 118.4 L180.6 118.4 L180.9 118.4 L181.3 118.4 L181.6 118.4 L182.0 118.4 L182.3 118.4 L182.6 118.4 L183.0 118.4 L183.3 118.4 L183.6 118.4 L184.0 118.4 L184.3 118.4 L184.6 118.4 L185.0 118.4 L185.3 118.4 L185.6 118.4 L186.0 118.4 L186.3 118.4 L186.6 118.4 L187.0 118.4 L187.3 118.4 L187.6 118.4 L188.0 118.4 L188.3 118.4 L188.7 118.4 L189.0 118.4 L189.3 118.4 L189.7 118.4 L190.0 118.4 L190.3 118.4 L190.7 118.4 L191.0 118.4 L191.3 118.4 L191.7 118.4 L192.0 118.4 L192.3 118.4 L192.7 118.4 L193.0 118.4 L193.3 118.4 L193.7 118.4 L194.0 118.4 L194.3 118.4 L194.7 118.4 L195.0 118.4 L195.4 118.4 L195.7 118.4 L196.0 118.4 L196.4 118.4 L196.7 118.4 L197.0 118.4 L197.4 118.4 L197.7 118.4 L198.0 118.4 L198.4 118.4 L198.7 118.4" fill="none" stroke="#111" stroke-width="1.05"/>
<rect x="163.20" y="83.70" width="35.50" height="34.70" fill="none" stroke="#333" stroke-width="1.0"/>
<line x1="163.20" y1="118.10" x2="198.70" y2="118.10" stroke="#0a0a0a" stroke-width="1.6"/>
<line x1="163.40" y1="83.70" x2="163.40" y2="118.40" stroke="#1a1a1a" stroke-width="1.4"/>
<line x1="161.80" y1="118.40" x2="163.20" y2="118.40" stroke="#333" stroke-width="0.6"/>
<line x1="161.80" y1="111.46" x2="163.20" y2="111.46" stroke="#333" stroke-width="0.6"/>
<line x1="161.80" y1="104.52" x2="163.20" y2="104.52" stroke="#333" stroke-width="0.6"/>
<line x1="161.80" y1="97.58" x2="163.20" y2="97.58" stroke="#333" stroke-width="0.6"/>
<line x1="161.80" y1="90.64" x2="163.20" y2="90.64" stroke="#333" stroke-width="0.6"/>
<line x1="161.80" y1="83.70" x2="163.20" y2="83.70" stroke="#333" stroke-width="0.6"/>
<text class="s" transform="translate(160.20 83.70) rotate(-90)" text-anchor="middle" font-size="4.5">100</text>
<text class="s" transform="translate(160.20 118.40) rotate(-90)" text-anchor="middle" font-size="4.5">0</text>
<text class="s" transform="translate(155.20 102.25) rotate(-90)" text-anchor="middle" font-size="4.5">Counts</text>
<text class="s" x="164.50" y="125.40" text-anchor="middle" font-size="4.5">10<tspan font-size="3.8" dy="-1.9">0</tspan></text>
<text class="s" x="199.00" y="125.40" text-anchor="middle" font-size="4.5">10<tspan font-size="3.8" dy="-1.9">4</tspan></text>
<text class="s" x="180.95" y="130.60" text-anchor="middle" font-size="4.5">FL2-Height</text>
<path d="M219.9 118.0 L219.9 118.0 L220.2 118.0 L220.6 118.0 L220.9 117.9 L221.2 117.9 L221.6 117.8 L221.9 117.8 L222.2 117.7 L222.6 117.5 L222.9 117.3 L223.2 117.0 L223.6 116.6 L223.9 116.1 L224.2 115.4 L224.6 114.6 L224.9 113.6 L225.2 112.3 L225.6 110.7 L225.9 108.9 L226.3 106.9 L226.6 104.7 L226.9 102.3 L227.3 99.9 L227.6 97.7 L227.9 95.8 L228.3 94.7 L228.6 95.4 L228.9 96.9 L229.3 98.9 L229.6 101.1 L229.9 103.4 L230.3 105.6 L230.6 107.6 L230.9 109.5 L231.3 111.1 L231.6 112.5 L231.9 113.7 L232.3 114.7 L232.6 115.4 L232.9 116.1 L233.3 116.6 L233.6 116.9 L233.9 117.2 L234.3 117.4 L234.6 117.6 L234.9 117.7 L235.3 117.8 L235.6 117.9 L235.9 117.9 L236.3 117.9 L236.6 118.0 L236.9 118.0 L237.3 118.0 L237.6 118.0 L238.0 118.0 L238.3 118.0 L238.6 118.0 L239.0 118.0 L239.3 118.0 L239.6 118.0 L240.0 118.0 L240.3 118.0 L240.6 118.0 L241.0 118.0 L241.3 118.0 L241.6 118.0 L242.0 118.0 L242.3 118.0 L242.6 118.0 L243.0 118.0 L243.3 118.0 L243.6 118.0 L244.0 118.0 L244.3 118.0 L244.6 118.0 L245.0 118.0 L245.3 118.0 L245.6 118.0 L246.0 118.0 L246.3 118.0 L246.6 118.0 L247.0 118.0 L247.3 118.0 L247.6 118.0 L248.0 118.0 L248.3 118.0 L248.6 118.0 L249.0 118.0 L249.3 118.0 L249.7 118.0 L250.0 118.0 L250.3 118.0 L250.7 118.0 L251.0 118.0 L251.3 118.0 L251.7 118.0 L252.0 118.0 L252.3 118.0 L252.7 118.0 L253.0 118.0 L253.3 118.0 L253.7 118.0 L254.0 118.0 L254.3 118.0 L254.7 118.0 L255.0 118.0 L255.0 118.0 Z" fill="#a4a4a4" stroke="#1a1a1a" stroke-width="0.95"/>
<path d="M219.9 118.0 L219.9 117.7 L220.2 117.5 L220.6 117.2 L220.9 116.8 L221.2 116.1 L221.6 115.1 L221.9 113.7 L222.2 111.8 L222.6 109.3 L222.9 106.2 L223.2 102.4 L223.6 98.1 L223.9 93.6 L224.2 89.2 L224.6 85.8 L224.9 85.0 L225.2 87.3 L225.6 90.7 L225.9 94.5 L226.3 98.4 L226.6 102.1 L226.9 105.4 L227.3 108.3 L227.6 110.6 L227.9 112.5 L228.3 114.0 L228.6 115.2 L228.9 116.0 L229.3 116.6 L229.6 117.1 L229.9 117.4 L230.3 117.6 L230.6 117.7 L230.9 117.8 L231.3 117.9 L231.6 117.9 L231.9 118.0 L232.3 118.0 L232.6 118.0 L232.9 118.0 L233.3 118.0 L233.6 118.0 L233.9 118.0 L234.3 118.0 L234.6 118.0 L234.9 118.0 L235.3 118.0 L235.6 118.0 L235.9 118.0 L236.3 118.0 L236.6 118.0 L236.9 118.0 L237.3 118.0 L237.6 118.0 L238.0 118.0 L238.3 118.0 L238.6 118.0 L239.0 118.0 L239.3 118.0 L239.6 118.0 L240.0 118.0 L240.3 118.0 L240.6 118.0 L241.0 118.0 L241.3 118.0 L241.6 118.0 L242.0 118.0 L242.3 118.0 L242.6 118.0 L243.0 118.0 L243.3 118.0 L243.6 118.0 L244.0 118.0 L244.3 118.0 L244.6 118.0 L245.0 118.0 L245.3 118.0 L245.6 118.0 L246.0 118.0 L246.3 118.0 L246.6 118.0 L247.0 118.0 L247.3 118.0 L247.6 118.0 L248.0 118.0 L248.3 118.0 L248.6 118.0 L249.0 118.0 L249.3 118.0 L249.7 118.0 L250.0 118.0 L250.3 118.0 L250.7 118.0 L251.0 118.0 L251.3 118.0 L251.7 118.0 L252.0 118.0 L252.3 118.0 L252.7 118.0 L253.0 118.0 L253.3 118.0 L253.7 118.0 L254.0 118.0 L254.3 118.0 L254.7 118.0 L255.0 118.0" fill="none" stroke="#111" stroke-width="1.05"/>
<rect x="219.90" y="83.70" width="35.10" height="34.30" fill="none" stroke="#333" stroke-width="1.0"/>
<line x1="219.90" y1="117.70" x2="255.00" y2="117.70" stroke="#0a0a0a" stroke-width="1.6"/>
<line x1="220.10" y1="83.70" x2="220.10" y2="118.00" stroke="#1a1a1a" stroke-width="1.4"/>
<line x1="218.50" y1="118.00" x2="219.90" y2="118.00" stroke="#333" stroke-width="0.6"/>
<line x1="218.50" y1="111.14" x2="219.90" y2="111.14" stroke="#333" stroke-width="0.6"/>
<line x1="218.50" y1="104.28" x2="219.90" y2="104.28" stroke="#333" stroke-width="0.6"/>
<line x1="218.50" y1="97.42" x2="219.90" y2="97.42" stroke="#333" stroke-width="0.6"/>
<line x1="218.50" y1="90.56" x2="219.90" y2="90.56" stroke="#333" stroke-width="0.6"/>
<line x1="218.50" y1="83.70" x2="219.90" y2="83.70" stroke="#333" stroke-width="0.6"/>
<text class="s" transform="translate(216.90 83.70) rotate(-90)" text-anchor="middle" font-size="4.5">100</text>
<text class="s" transform="translate(216.90 118.00) rotate(-90)" text-anchor="middle" font-size="4.5">0</text>
<text class="s" transform="translate(211.90 102.05) rotate(-90)" text-anchor="middle" font-size="4.5">Counts</text>
<text class="s" x="221.20" y="125.00" text-anchor="middle" font-size="4.5">10<tspan font-size="3.8" dy="-1.9">0</tspan></text>
<text class="s" x="255.30" y="125.00" text-anchor="middle" font-size="4.5">10<tspan font-size="3.8" dy="-1.9">4</tspan></text>
<text class="s" x="237.45" y="130.20" text-anchor="middle" font-size="4.5">FL2-Height</text>
<path d="M48.2 175.4 L48.2 175.4 L48.5 175.4 L48.9 175.4 L49.2 175.4 L49.5 175.4 L49.9 175.4 L50.2 175.4 L50.5 175.4 L50.9 175.4 L51.2 175.4 L51.5 175.4 L51.9 175.4 L52.2 175.4 L52.5 175.4 L52.9 175.4 L53.2 175.3 L53.5 175.3 L53.9 175.3 L54.2 175.3 L54.6 175.2 L54.9 175.2 L55.2 175.1 L55.6 175.0 L55.9 175.0 L56.2 174.9 L56.6 174.7 L56.9 174.6 L57.2 174.4 L57.6 174.3 L57.9 174.1 L58.2 173.8 L58.6 173.6 L58.9 173.3 L59.2 172.9 L59.6 172.5 L59.9 171.9 L60.2 171.3 L60.6 170.5 L60.9 169.4 L61.2 168.0 L61.6 166.0 L61.9 163.6 L62.2 160.7 L62.6 157.3 L62.9 153.6 L63.2 150.0 L63.6 146.7 L63.9 144.6 L64.2 145.4 L64.6 148.1 L64.9 151.4 L65.2 155.1 L65.6 158.6 L65.9 161.9 L66.2 164.8 L66.6 167.3 L66.9 169.3 L67.3 170.9 L67.6 172.2 L67.9 173.1 L68.3 173.8 L68.6 174.3 L68.9 174.7 L69.3 174.9 L69.6 175.1 L69.9 175.2 L70.3 175.3 L70.6 175.3 L70.9 175.4 L71.3 175.4 L71.6 175.4 L71.9 175.4 L72.3 175.4 L72.6 175.4 L72.9 175.4 L73.3 175.4 L73.6 175.4 L73.9 175.4 L74.3 175.4 L74.6 175.4 L74.9 175.4 L75.3 175.4 L75.6 175.4 L75.9 175.4 L76.3 175.4 L76.6 175.4 L76.9 175.4 L77.3 175.4 L77.6 175.4 L77.9 175.4 L78.3 175.4 L78.6 175.4 L79.0 175.4 L79.3 175.4 L79.6 175.4 L80.0 175.4 L80.3 175.4 L80.6 175.4 L81.0 175.4 L81.3 175.4 L81.6 175.4 L82.0 175.4 L82.3 175.4 L82.6 175.4 L83.0 175.4 L83.3 175.4 L83.6 175.4 L84.0 175.4 L84.3 175.4 L84.3 175.4 Z" fill="#a4a4a4" stroke="#1a1a1a" stroke-width="0.95"/>
<path d="M48.2 175.4 L48.2 175.1 L48.5 175.0 L48.9 174.8 L49.2 174.6 L49.5 174.4 L49.9 174.0 L50.2 173.6 L50.5 173.1 L50.9 172.4 L51.2 171.6 L51.5 170.7 L51.9 169.6 L52.2 168.3 L52.5 166.9 L52.9 165.3 L53.2 163.7 L53.5 162.1 L53.9 160.6 L54.2 159.1 L54.6 157.5 L54.9 155.7 L55.2 153.7 L55.6 151.7 L55.9 149.5 L56.2 147.3 L56.6 145.2 L56.9 143.3 L57.2 141.8 L57.6 141.0 L57.9 143.8 L58.2 149.5 L58.6 155.7 L58.9 161.4 L59.2 166.0 L59.6 169.4 L59.9 171.8 L60.2 173.3 L60.6 174.2 L60.9 174.8 L61.2 175.1 L61.6 175.2 L61.9 175.3 L62.2 175.4 L62.6 175.4 L62.9 175.4 L63.2 175.4 L63.6 175.4 L63.9 175.4 L64.2 175.4 L64.6 175.4 L64.9 175.4 L65.2 175.4 L65.6 175.4 L65.9 175.4 L66.2 175.4 L66.6 175.4 L66.9 175.4 L67.3 175.4 L67.6 175.4 L67.9 175.4 L68.3 175.4 L68.6 175.4 L68.9 175.4 L69.3 175.4 L69.6 175.4 L69.9 175.4 L70.3 175.4 L70.6 175.4 L70.9 175.4 L71.3 175.4 L71.6 175.4 L71.9 175.4 L72.3 175.4 L72.6 175.4 L72.9 175.4 L73.3 175.4 L73.6 175.4 L73.9 175.4 L74.3 175.4 L74.6 175.4 L74.9 175.4 L75.3 175.4 L75.6 175.4 L75.9 175.4 L76.3 175.4 L76.6 175.4 L76.9 175.4 L77.3 175.4 L77.6 175.4 L77.9 175.4 L78.3 175.4 L78.6 175.4 L79.0 175.4 L79.3 175.4 L79.6 175.4 L80.0 175.4 L80.3 175.4 L80.6 175.4 L81.0 175.4 L81.3 175.4 L81.6 175.4 L82.0 175.4 L82.3 175.4 L82.6 175.4 L83.0 175.4 L83.3 175.4 L83.6 175.4 L84.0 175.4 L84.3 175.4" fill="none" stroke="#111" stroke-width="1.05"/>
<rect x="48.20" y="139.50" width="36.10" height="35.90" fill="none" stroke="#333" stroke-width="1.0"/>
<line x1="48.20" y1="175.10" x2="84.30" y2="175.10" stroke="#0a0a0a" stroke-width="1.6"/>
<line x1="48.40" y1="139.50" x2="48.40" y2="175.40" stroke="#1a1a1a" stroke-width="1.4"/>
<line x1="46.80" y1="175.40" x2="48.20" y2="175.40" stroke="#333" stroke-width="0.6"/>
<line x1="46.80" y1="168.22" x2="48.20" y2="168.22" stroke="#333" stroke-width="0.6"/>
<line x1="46.80" y1="161.04" x2="48.20" y2="161.04" stroke="#333" stroke-width="0.6"/>
<line x1="46.80" y1="153.86" x2="48.20" y2="153.86" stroke="#333" stroke-width="0.6"/>
<line x1="46.80" y1="146.68" x2="48.20" y2="146.68" stroke="#333" stroke-width="0.6"/>
<line x1="46.80" y1="139.50" x2="48.20" y2="139.50" stroke="#333" stroke-width="0.6"/>
<text class="s" transform="translate(45.20 139.50) rotate(-90)" text-anchor="middle" font-size="4.5">100</text>
<text class="s" transform="translate(45.20 175.40) rotate(-90)" text-anchor="middle" font-size="4.5">0</text>
<text class="s" transform="translate(40.20 158.65) rotate(-90)" text-anchor="middle" font-size="4.5">Counts</text>
<text class="s" x="49.50" y="182.40" text-anchor="middle" font-size="4.5">10<tspan font-size="3.8" dy="-1.9">0</tspan></text>
<text class="s" x="84.60" y="182.40" text-anchor="middle" font-size="4.5">10<tspan font-size="3.8" dy="-1.9">4</tspan></text>
<text class="s" x="66.25" y="187.60" text-anchor="middle" font-size="4.5">FL2-Height</text>
<path d="M106.1 175.0 L106.1 175.0 L106.4 175.0 L106.8 175.0 L107.1 175.0 L107.4 175.0 L107.8 175.0 L108.1 175.0 L108.5 175.0 L108.8 175.0 L109.1 175.0 L109.5 175.0 L109.8 175.0 L110.1 175.0 L110.5 175.0 L110.8 175.0 L111.1 175.0 L111.5 175.0 L111.8 175.0 L112.1 175.0 L112.5 175.0 L112.8 175.0 L113.2 175.0 L113.5 174.9 L113.8 174.8 L114.2 174.5 L114.5 173.8 L114.8 172.8 L115.2 171.3 L115.5 169.5 L115.8 167.4 L116.2 165.2 L116.5 163.3 L116.8 161.6 L117.2 160.4 L117.5 159.5 L117.9 159.0 L118.2 158.8 L118.5 158.7 L118.9 158.7 L119.2 158.7 L119.5 158.7 L119.9 158.8 L120.2 159.1 L120.5 159.7 L120.9 160.6 L121.2 161.9 L121.6 163.6 L121.9 165.7 L122.2 167.8 L122.6 169.9 L122.9 171.7 L123.2 173.0 L123.6 174.0 L123.9 174.5 L124.2 174.8 L124.6 174.9 L124.9 175.0 L125.2 175.0 L125.6 175.0 L125.9 175.0 L126.3 175.0 L126.6 175.0 L126.9 175.0 L127.3 175.0 L127.6 175.0 L127.9 175.0 L128.3 175.0 L128.6 175.0 L128.9 175.0 L129.3 175.0 L129.6 175.0 L130.0 175.0 L130.3 175.0 L130.6 175.0 L131.0 175.0 L131.3 175.0 L131.6 175.0 L132.0 175.0 L132.3 175.0 L132.6 175.0 L133.0 175.0 L133.3 175.0 L133.6 175.0 L134.0 175.0 L134.3 175.0 L134.7 175.0 L135.0 175.0 L135.3 175.0 L135.7 175.0 L136.0 175.0 L136.3 175.0 L136.7 175.0 L137.0 175.0 L137.3 175.0 L137.7 175.0 L138.0 175.0 L138.3 175.0 L138.7 175.0 L139.0 175.0 L139.4 175.0 L139.7 175.0 L140.0 175.0 L140.4 175.0 L140.7 175.0 L140.7 175.0 Z" fill="#a4a4a4" stroke="#1a1a1a" stroke-width="0.95"/>
<path d="M106.1 175.0 L106.1 174.9 L106.4 174.8 L106.8 174.7 L107.1 174.7 L107.4 174.5 L107.8 174.4 L108.1 174.2 L108.5 173.9 L108.8 173.6 L109.1 173.1 L109.5 172.6 L109.8 171.9 L110.1 171.1 L110.5 170.1 L110.8 168.8 L111.1 167.4 L111.5 165.8 L111.8 163.9 L112.1 161.8 L112.5 159.4 L112.8 156.8 L113.2 154.1 L113.5 151.4 L113.8 148.6 L114.2 146.0 L114.5 143.7 L114.8 142.0 L115.2 141.7 L115.5 146.6 L115.8 153.4 L116.2 160.0 L116.5 165.3 L116.8 169.1 L117.2 171.7 L117.5 173.2 L117.9 174.1 L118.2 174.6 L118.5 174.8 L118.9 174.9 L119.2 175.0 L119.5 175.0 L119.9 175.0 L120.2 175.0 L120.5 175.0 L120.9 175.0 L121.2 175.0 L121.6 175.0 L121.9 175.0 L122.2 175.0 L122.6 175.0 L122.9 175.0 L123.2 175.0 L123.6 175.0 L123.9 175.0 L124.2 175.0 L124.6 175.0 L124.9 175.0 L125.2 175.0 L125.6 175.0 L125.9 175.0 L126.3 175.0 L126.6 175.0 L126.9 175.0 L127.3 175.0 L127.6 175.0 L127.9 175.0 L128.3 175.0 L128.6 175.0 L128.9 175.0 L129.3 175.0 L129.6 175.0 L130.0 175.0 L130.3 175.0 L130.6 175.0 L131.0 175.0 L131.3 175.0 L131.6 175.0 L132.0 175.0 L132.3 175.0 L132.6 175.0 L133.0 175.0 L133.3 175.0 L133.6 175.0 L134.0 175.0 L134.3 175.0 L134.7 175.0 L135.0 175.0 L135.3 175.0 L135.7 175.0 L136.0 175.0 L136.3 175.0 L136.7 175.0 L137.0 175.0 L137.3 175.0 L137.7 175.0 L138.0 175.0 L138.3 175.0 L138.7 175.0 L139.0 175.0 L139.4 175.0 L139.7 175.0 L140.0 175.0 L140.4 175.0 L140.7 175.0" fill="none" stroke="#111" stroke-width="1.05"/>
<rect x="106.10" y="140.30" width="34.60" height="34.70" fill="none" stroke="#333" stroke-width="1.0"/>
<line x1="106.10" y1="174.70" x2="140.70" y2="174.70" stroke="#0a0a0a" stroke-width="1.6"/>
<line x1="106.30" y1="140.30" x2="106.30" y2="175.00" stroke="#1a1a1a" stroke-width="1.4"/>
<line x1="104.70" y1="175.00" x2="106.10" y2="175.00" stroke="#333" stroke-width="0.6"/>
<line x1="104.70" y1="168.06" x2="106.10" y2="168.06" stroke="#333" stroke-width="0.6"/>
<line x1="104.70" y1="161.12" x2="106.10" y2="161.12" stroke="#333" stroke-width="0.6"/>
<line x1="104.70" y1="154.18" x2="106.10" y2="154.18" stroke="#333" stroke-width="0.6"/>
<line x1="104.70" y1="147.24" x2="106.10" y2="147.24" stroke="#333" stroke-width="0.6"/>
<line x1="104.70" y1="140.30" x2="106.10" y2="140.30" stroke="#333" stroke-width="0.6"/>
<text class="s" transform="translate(103.10 140.30) rotate(-90)" text-anchor="middle" font-size="4.5">100</text>
<text class="s" transform="translate(103.10 175.00) rotate(-90)" text-anchor="middle" font-size="4.5">0</text>
<text class="s" transform="translate(98.10 158.85) rotate(-90)" text-anchor="middle" font-size="4.5">Counts</text>
<text class="s" x="107.40" y="182.00" text-anchor="middle" font-size="4.5">10<tspan font-size="3.8" dy="-1.9">0</tspan></text>
<text class="s" x="141.00" y="182.00" text-anchor="middle" font-size="4.5">10<tspan font-size="3.8" dy="-1.9">4</tspan></text>
<text class="s" x="123.40" y="187.20" text-anchor="middle" font-size="4.5">FL2-Height</text>
<path d="M162.0 174.7 L162.0 174.2 L162.3 174.1 L162.7 173.9 L163.0 173.8 L163.3 173.6 L163.7 173.3 L164.0 173.1 L164.3 172.8 L164.7 172.4 L165.0 172.0 L165.3 171.5 L165.7 171.0 L166.0 170.4 L166.4 169.8 L166.7 169.1 L167.0 168.3 L167.4 167.5 L167.7 166.7 L168.0 165.8 L168.4 164.7 L168.7 163.5 L169.0 162.0 L169.4 160.1 L169.7 157.5 L170.0 154.3 L170.4 150.9 L170.7 147.3 L171.0 144.3 L171.4 144.1 L171.7 148.8 L172.0 154.7 L172.4 160.2 L172.7 164.8 L173.1 168.1 L173.4 170.5 L173.7 172.0 L174.1 173.0 L174.4 173.6 L174.7 174.0 L175.1 174.3 L175.4 174.4 L175.7 174.5 L176.1 174.6 L176.4 174.6 L176.7 174.7 L177.1 174.7 L177.4 174.7 L177.7 174.7 L178.1 174.7 L178.4 174.7 L178.7 174.7 L179.1 174.7 L179.4 174.7 L179.8 174.7 L180.1 174.7 L180.4 174.7 L180.8 174.7 L181.1 174.7 L181.4 174.7 L181.8 174.7 L182.1 174.7 L182.4 174.7 L182.8 174.7 L183.1 174.7 L183.4 174.7 L183.8 174.7 L184.1 174.7 L184.4 174.7 L184.8 174.7 L185.1 174.7 L185.4 174.7 L185.8 174.7 L186.1 174.7 L186.4 174.7 L186.8 174.7 L187.1 174.7 L187.5 174.7 L187.8 174.7 L188.1 174.7 L188.5 174.7 L188.8 174.7 L189.1 174.7 L189.5 174.7 L189.8 174.7 L190.1 174.7 L190.5 174.7 L190.8 174.7 L191.1 174.7 L191.5 174.7 L191.8 174.7 L192.1 174.7 L192.5 174.7 L192.8 174.7 L193.1 174.7 L193.5 174.7 L193.8 174.7 L194.2 174.7 L194.5 174.7 L194.8 174.7 L195.2 174.7 L195.5 174.7 L195.8 174.7 L196.2 174.7 L196.5 174.7 L196.8 174.7 L197.2 174.7 L197.5 174.7 L197.5 174.7 Z" fill="#a4a4a4" stroke="#1a1a1a" stroke-width="0.95"/>
<path d="M162.0 174.7 L162.0 174.2 L162.3 174.1 L162.7 173.9 L163.0 173.8 L163.3 173.6 L163.7 173.3 L164.0 173.1 L164.3 172.8 L164.7 172.4 L165.0 172.0 L165.3 171.5 L165.7 171.0 L166.0 170.4 L166.4 169.8 L166.7 169.1 L167.0 168.3 L167.4 167.5 L167.7 166.7 L168.0 165.8 L168.4 164.7 L168.7 163.5 L169.0 162.0 L169.4 160.1 L169.7 157.5 L170.0 154.3 L170.4 150.9 L170.7 147.3 L171.0 144.3 L171.4 144.1 L171.7 148.8 L172.0 154.7 L172.4 160.2 L172.7 164.8 L173.1 168.1 L173.4 170.5 L173.7 172.0 L174.1 173.0 L174.4 173.6 L174.7 174.0 L175.1 174.3 L175.4 174.4 L175.7 174.5 L176.1 174.6 L176.4 174.6 L176.7 174.7 L177.1 174.7 L177.4 174.7 L177.7 174.7 L178.1 174.7 L178.4 174.7 L178.7 174.7 L179.1 174.7 L179.4 174.7 L179.8 174.7 L180.1 174.7 L180.4 174.7 L180.8 174.7 L181.1 174.7 L181.4 174.7 L181.8 174.7 L182.1 174.7 L182.4 174.7 L182.8 174.7 L183.1 174.7 L183.4 174.7 L183.8 174.7 L184.1 174.7 L184.4 174.7 L184.8 174.7 L185.1 174.7 L185.4 174.7 L185.8 174.7 L186.1 174.7 L186.4 174.7 L186.8 174.7 L187.1 174.7 L187.5 174.7 L187.8 174.7 L188.1 174.7 L188.5 174.7 L188.8 174.7 L189.1 174.7 L189.5 174.7 L189.8 174.7 L190.1 174.7 L190.5 174.7 L190.8 174.7 L191.1 174.7 L191.5 174.7 L191.8 174.7 L192.1 174.7 L192.5 174.7 L192.8 174.7 L193.1 174.7 L193.5 174.7 L193.8 174.7 L194.2 174.7 L194.5 174.7 L194.8 174.7 L195.2 174.7 L195.5 174.7 L195.8 174.7 L196.2 174.7 L196.5 174.7 L196.8 174.7 L197.2 174.7 L197.5 174.7" fill="none" stroke="#111" stroke-width="1.05"/>
<rect x="162.00" y="139.50" width="35.50" height="35.20" fill="none" stroke="#333" stroke-width="1.0"/>
<line x1="162.00" y1="174.40" x2="197.50" y2="174.40" stroke="#0a0a0a" stroke-width="1.6"/>
<line x1="162.20" y1="139.50" x2="162.20" y2="174.70" stroke="#1a1a1a" stroke-width="1.4"/>
<line x1="160.60" y1="174.70" x2="162.00" y2="174.70" stroke="#333" stroke-width="0.6"/>
<line x1="160.60" y1="167.66" x2="162.00" y2="167.66" stroke="#333" stroke-width="0.6"/>
<line x1="160.60" y1="160.62" x2="162.00" y2="160.62" stroke="#333" stroke-width="0.6"/>
<line x1="160.60" y1="153.58" x2="162.00" y2="153.58" stroke="#333" stroke-width="0.6"/>
<line x1="160.60" y1="146.54" x2="162.00" y2="146.54" stroke="#333" stroke-width="0.6"/>
<line x1="160.60" y1="139.50" x2="162.00" y2="139.50" stroke="#333" stroke-width="0.6"/>
<text class="s" transform="translate(159.00 139.50) rotate(-90)" text-anchor="middle" font-size="4.5">100</text>
<text class="s" transform="translate(159.00 174.70) rotate(-90)" text-anchor="middle" font-size="4.5">0</text>
<text class="s" transform="translate(154.00 158.30) rotate(-90)" text-anchor="middle" font-size="4.5">Counts</text>
<text class="s" x="163.30" y="181.70" text-anchor="middle" font-size="4.5">10<tspan font-size="3.8" dy="-1.9">0</tspan></text>
<text class="s" x="197.80" y="181.70" text-anchor="middle" font-size="4.5">10<tspan font-size="3.8" dy="-1.9">4</tspan></text>
<text class="s" x="179.75" y="186.90" text-anchor="middle" font-size="4.5">FL2-Height</text>
<path d="M220.0 174.3 L220.0 174.3 L220.3 174.3 L220.7 174.3 L221.0 174.3 L221.3 174.3 L221.7 174.3 L222.0 174.3 L222.3 174.3 L222.7 174.3 L223.0 174.3 L223.3 174.3 L223.7 174.3 L224.0 174.3 L224.3 174.3 L224.7 174.3 L225.0 174.3 L225.3 174.3 L225.7 174.3 L226.0 174.2 L226.3 174.2 L226.7 174.1 L227.0 174.0 L227.3 173.8 L227.7 173.6 L228.0 173.1 L228.3 172.5 L228.7 171.6 L229.0 170.3 L229.3 168.6 L229.7 166.4 L230.0 163.7 L230.3 160.4 L230.7 156.8 L231.0 153.0 L231.3 149.5 L231.7 147.1 L232.0 147.3 L232.3 149.5 L232.7 152.4 L233.0 155.6 L233.3 158.8 L233.7 161.8 L234.0 164.4 L234.3 166.7 L234.7 168.6 L235.0 170.1 L235.3 171.2 L235.7 172.1 L236.0 172.8 L236.3 173.3 L236.7 173.6 L237.0 173.8 L237.3 174.0 L237.7 174.1 L238.0 174.2 L238.3 174.2 L238.7 174.3 L239.0 174.3 L239.3 174.3 L239.7 174.3 L240.0 174.3 L240.3 174.3 L240.7 174.3 L241.0 174.3 L241.3 174.3 L241.7 174.3 L242.0 174.3 L242.3 174.3 L242.7 174.3 L243.0 174.3 L243.3 174.3 L243.7 174.3 L244.0 174.3 L244.3 174.3 L244.7 174.3 L245.0 174.3 L245.3 174.3 L245.7 174.3 L246.0 174.3 L246.3 174.3 L246.7 174.3 L247.0 174.3 L247.3 174.3 L247.7 174.3 L248.0 174.3 L248.3 174.3 L248.7 174.3 L249.0 174.3 L249.3 174.3 L249.7 174.3 L250.0 174.3 L250.3 174.3 L250.7 174.3 L251.0 174.3 L251.3 174.3 L251.7 174.3 L252.0 174.3 L252.3 174.3 L252.7 174.3 L253.0 174.3 L253.3 174.3 L253.7 174.3 L254.0 174.3 L254.3 174.3 L254.7 174.3 L255.0 174.3 L255.0 174.3 Z" fill="#a4a4a4" stroke="#1a1a1a" stroke-width="0.95"/>
<path d="M220.0 174.3 L220.0 174.2 L220.3 174.1 L220.7 174.1 L221.0 174.0 L221.3 173.9 L221.7 173.7 L222.0 173.4 L222.3 173.1 L222.7 172.7 L223.0 172.2 L223.3 171.5 L223.7 170.7 L224.0 169.7 L224.3 168.4 L224.7 166.8 L225.0 165.0 L225.3 162.8 L225.7 160.4 L226.0 157.7 L226.3 154.7 L226.7 151.6 L227.0 148.4 L227.3 145.4 L227.7 142.6 L228.0 140.5 L228.3 139.6 L228.7 142.8 L229.0 148.0 L229.3 153.7 L229.7 159.0 L230.0 163.5 L230.3 167.0 L230.7 169.5 L231.0 171.3 L231.3 172.5 L231.7 173.2 L232.0 173.7 L232.3 174.0 L232.7 174.1 L233.0 174.2 L233.3 174.3 L233.7 174.3 L234.0 174.3 L234.3 174.3 L234.7 174.3 L235.0 174.3 L235.3 174.3 L235.7 174.3 L236.0 174.3 L236.3 174.3 L236.7 174.3 L237.0 174.3 L237.3 174.3 L237.7 174.3 L238.0 174.3 L238.3 174.3 L238.7 174.3 L239.0 174.3 L239.3 174.3 L239.7 174.3 L240.0 174.3 L240.3 174.3 L240.7 174.3 L241.0 174.3 L241.3 174.3 L241.7 174.3 L242.0 174.3 L242.3 174.3 L242.7 174.3 L243.0 174.3 L243.3 174.3 L243.7 174.3 L244.0 174.3 L244.3 174.3 L244.7 174.3 L245.0 174.3 L245.3 174.3 L245.7 174.3 L246.0 174.3 L246.3 174.3 L246.7 174.3 L247.0 174.3 L247.3 174.3 L247.7 174.3 L248.0 174.3 L248.3 174.3 L248.7 174.3 L249.0 174.3 L249.3 174.3 L249.7 174.3 L250.0 174.3 L250.3 174.3 L250.7 174.3 L251.0 174.3 L251.3 174.3 L251.7 174.3 L252.0 174.3 L252.3 174.3 L252.7 174.3 L253.0 174.3 L253.3 174.3 L253.7 174.3 L254.0 174.3 L254.3 174.3 L254.7 174.3 L255.0 174.3" fill="none" stroke="#111" stroke-width="1.05"/>
<rect x="220.00" y="138.40" width="35.00" height="35.90" fill="none" stroke="#333" stroke-width="1.0"/>
<line x1="220.00" y1="174.00" x2="255.00" y2="174.00" stroke="#0a0a0a" stroke-width="1.6"/>
<line x1="220.20" y1="138.40" x2="220.20" y2="174.30" stroke="#1a1a1a" stroke-width="1.4"/>
<line x1="218.60" y1="174.30" x2="220.00" y2="174.30" stroke="#333" stroke-width="0.6"/>
<line x1="218.60" y1="167.12" x2="220.00" y2="167.12" stroke="#333" stroke-width="0.6"/>
<line x1="218.60" y1="159.94" x2="220.00" y2="159.94" stroke="#333" stroke-width="0.6"/>
<line x1="218.60" y1="152.76" x2="220.00" y2="152.76" stroke="#333" stroke-width="0.6"/>
<line x1="218.60" y1="145.58" x2="220.00" y2="145.58" stroke="#333" stroke-width="0.6"/>
<line x1="218.60" y1="138.40" x2="220.00" y2="138.40" stroke="#333" stroke-width="0.6"/>
<text class="s" transform="translate(217.00 138.40) rotate(-90)" text-anchor="middle" font-size="4.5">100</text>
<text class="s" transform="translate(217.00 174.30) rotate(-90)" text-anchor="middle" font-size="4.5">0</text>
<text class="s" transform="translate(212.00 157.55) rotate(-90)" text-anchor="middle" font-size="4.5">Counts</text>
<text class="s" x="221.30" y="181.30" text-anchor="middle" font-size="4.5">10<tspan font-size="3.8" dy="-1.9">0</tspan></text>
<text class="s" x="255.30" y="181.30" text-anchor="middle" font-size="4.5">10<tspan font-size="3.8" dy="-1.9">4</tspan></text>
<text class="s" x="237.50" y="186.50" text-anchor="middle" font-size="4.5">FL2-Height</text>
<path d="M47.8 230.8 L47.8 230.8 L48.1 230.7 L48.5 230.7 L48.8 230.6 L49.1 230.5 L49.5 230.4 L49.8 230.2 L50.1 230.0 L50.5 229.6 L50.8 229.1 L51.1 228.5 L51.5 227.6 L51.8 226.5 L52.1 225.1 L52.5 223.3 L52.8 221.2 L53.1 218.7 L53.5 215.8 L53.8 212.7 L54.2 209.5 L54.5 206.3 L54.8 203.5 L55.2 201.5 L55.5 201.5 L55.8 203.3 L56.2 205.7 L56.5 208.5 L56.8 211.3 L57.2 214.0 L57.5 216.6 L57.8 218.8 L58.2 220.7 L58.5 222.3 L58.8 223.6 L59.2 224.7 L59.5 225.5 L59.8 226.2 L60.2 226.7 L60.5 227.2 L60.8 227.6 L61.2 227.9 L61.5 228.1 L61.8 228.4 L62.2 228.6 L62.5 228.7 L62.8 228.9 L63.2 229.1 L63.5 229.2 L63.8 229.3 L64.2 229.4 L64.5 229.6 L64.8 229.7 L65.2 229.8 L65.5 229.9 L65.8 230.0 L66.2 230.0 L66.5 230.1 L66.9 230.2 L67.2 230.3 L67.5 230.3 L67.9 230.4 L68.2 230.4 L68.5 230.5 L68.9 230.5 L69.2 230.6 L69.5 230.6 L69.9 230.6 L70.2 230.6 L70.5 230.7 L70.9 230.7 L71.2 230.7 L71.5 230.7 L71.9 230.7 L72.2 230.7 L72.5 230.7 L72.9 230.8 L73.2 230.8 L73.5 230.8 L73.9 230.8 L74.2 230.8 L74.5 230.8 L74.9 230.8 L75.2 230.8 L75.5 230.8 L75.9 230.8 L76.2 230.8 L76.5 230.8 L76.9 230.8 L77.2 230.8 L77.5 230.8 L77.9 230.8 L78.2 230.8 L78.6 230.8 L78.9 230.8 L79.2 230.8 L79.6 230.8 L79.9 230.8 L80.2 230.8 L80.6 230.8 L80.9 230.8 L81.2 230.8 L81.6 230.8 L81.9 230.8 L82.2 230.8 L82.6 230.8 L82.9 230.8 L83.2 230.8 L83.6 230.8 L83.9 230.8 L83.9 230.8 Z" fill="#a4a4a4" stroke="#1a1a1a" stroke-width="0.95"/>
<path d="M47.8 230.8 L47.8 230.8 L48.1 230.7 L48.5 230.7 L48.8 230.6 L49.1 230.5 L49.5 230.4 L49.8 230.2 L50.1 230.0 L50.5 229.6 L50.8 229.1 L51.1 228.5 L51.5 227.6 L51.8 226.5 L52.1 225.1 L52.5 223.3 L52.8 221.2 L53.1 218.7 L53.5 215.8 L53.8 212.7 L54.2 209.5 L54.5 206.3 L54.8 203.5 L55.2 201.5 L55.5 201.5 L55.8 203.3 L56.2 205.7 L56.5 208.5 L56.8 211.3 L57.2 214.0 L57.5 216.6 L57.8 218.8 L58.2 220.7 L58.5 222.3 L58.8 223.6 L59.2 224.7 L59.5 225.5 L59.8 226.2 L60.2 226.7 L60.5 227.2 L60.8 227.6 L61.2 227.9 L61.5 228.1 L61.8 228.4 L62.2 228.6 L62.5 228.7 L62.8 228.9 L63.2 229.1 L63.5 229.2 L63.8 229.3 L64.2 229.4 L64.5 229.6 L64.8 229.7 L65.2 229.8 L65.5 229.9 L65.8 230.0 L66.2 230.0 L66.5 230.1 L66.9 230.2 L67.2 230.3 L67.5 230.3 L67.9 230.4 L68.2 230.4 L68.5 230.5 L68.9 230.5 L69.2 230.6 L69.5 230.6 L69.9 230.6 L70.2 230.6 L70.5 230.7 L70.9 230.7 L71.2 230.7 L71.5 230.7 L71.9 230.7 L72.2 230.7 L72.5 230.7 L72.9 230.8 L73.2 230.8 L73.5 230.8 L73.9 230.8 L74.2 230.8 L74.5 230.8 L74.9 230.8 L75.2 230.8 L75.5 230.8 L75.9 230.8 L76.2 230.8 L76.5 230.8 L76.9 230.8 L77.2 230.8 L77.5 230.8 L77.9 230.8 L78.2 230.8 L78.6 230.8 L78.9 230.8 L79.2 230.8 L79.6 230.8 L79.9 230.8 L80.2 230.8 L80.6 230.8 L80.9 230.8 L81.2 230.8 L81.6 230.8 L81.9 230.8 L82.2 230.8 L82.6 230.8 L82.9 230.8 L83.2 230.8 L83.6 230.8 L83.9 230.8" fill="none" stroke="#111" stroke-width="1.05"/>
<rect x="47.80" y="193.60" width="36.10" height="37.20" fill="none" stroke="#333" stroke-width="1.0"/>
<line x1="47.80" y1="230.50" x2="83.90" y2="230.50" stroke="#0a0a0a" stroke-width="1.6"/>
<line x1="48.00" y1="193.60" x2="48.00" y2="230.80" stroke="#1a1a1a" stroke-width="1.4"/>
<line x1="46.40" y1="230.80" x2="47.80" y2="230.80" stroke="#333" stroke-width="0.6"/>
<line x1="46.40" y1="223.36" x2="47.80" y2="223.36" stroke="#333" stroke-width="0.6"/>
<line x1="46.40" y1="215.92" x2="47.80" y2="215.92" stroke="#333" stroke-width="0.6"/>
<line x1="46.40" y1="208.48" x2="47.80" y2="208.48" stroke="#333" stroke-width="0.6"/>
<line x1="46.40" y1="201.04" x2="47.80" y2="201.04" stroke="#333" stroke-width="0.6"/>
<line x1="46.40" y1="193.60" x2="47.80" y2="193.60" stroke="#333" stroke-width="0.6"/>
<text class="s" transform="translate(44.80 193.60) rotate(-90)" text-anchor="middle" font-size="4.5">100</text>
<text class="s" transform="translate(44.80 230.80) rotate(-90)" text-anchor="middle" font-size="4.5">0</text>
<text class="s" transform="translate(39.80 213.40) rotate(-90)" text-anchor="middle" font-size="4.5">Counts</text>
<text class="s" x="49.10" y="237.80" text-anchor="middle" font-size="4.5">10<tspan font-size="3.8" dy="-1.9">0</tspan></text>
<text class="s" x="84.20" y="237.80" text-anchor="middle" font-size="4.5">10<tspan font-size="3.8" dy="-1.9">4</tspan></text>
<text class="s" x="65.85" y="243.00" text-anchor="middle" font-size="4.5">FL2-Height</text>
<path d="M107.6 230.4 L107.6 230.2 L107.9 230.1 L108.3 230.0 L108.6 229.8 L108.9 229.6 L109.3 229.3 L109.6 228.9 L109.9 228.4 L110.3 227.7 L110.6 226.9 L110.9 225.9 L111.3 224.7 L111.6 223.2 L112.0 221.5 L112.3 219.5 L112.6 217.3 L113.0 214.8 L113.3 212.2 L113.6 209.4 L114.0 206.7 L114.3 204.1 L114.6 201.9 L115.0 200.5 L115.3 200.7 L115.6 202.5 L116.0 204.9 L116.3 207.7 L116.6 210.7 L117.0 213.5 L117.3 216.3 L117.6 218.7 L118.0 220.9 L118.3 222.8 L118.6 224.4 L119.0 225.8 L119.3 226.8 L119.6 227.7 L120.0 228.4 L120.3 228.9 L120.7 229.3 L121.0 229.6 L121.3 229.8 L121.7 230.0 L122.0 230.1 L122.3 230.2 L122.7 230.3 L123.0 230.3 L123.3 230.3 L123.7 230.4 L124.0 230.4 L124.3 230.4 L124.7 230.4 L125.0 230.4 L125.3 230.4 L125.7 230.4 L126.0 230.4 L126.3 230.4 L126.7 230.4 L127.0 230.4 L127.3 230.4 L127.7 230.4 L128.0 230.4 L128.3 230.4 L128.7 230.4 L129.0 230.4 L129.4 230.4 L129.7 230.4 L130.0 230.4 L130.4 230.4 L130.7 230.4 L131.0 230.4 L131.4 230.4 L131.7 230.4 L132.0 230.4 L132.4 230.4 L132.7 230.4 L133.0 230.4 L133.4 230.4 L133.7 230.4 L134.0 230.4 L134.4 230.4 L134.7 230.4 L135.0 230.4 L135.4 230.4 L135.7 230.4 L136.0 230.4 L136.4 230.4 L136.7 230.4 L137.0 230.4 L137.4 230.4 L137.7 230.4 L138.1 230.4 L138.4 230.4 L138.7 230.4 L139.1 230.4 L139.4 230.4 L139.7 230.4 L140.1 230.4 L140.4 230.4 L140.7 230.4 L141.1 230.4 L141.4 230.4 L141.4 230.4 Z" fill="#a4a4a4" stroke="#1a1a1a" stroke-width="0.95"/>
<path d="M107.6 230.4 L107.6 230.1 L107.9 230.0 L108.3 229.7 L108.6 229.3 L108.9 228.5 L109.3 227.3 L109.6 225.4 L109.9 222.8 L110.3 219.6 L110.6 216.5 L110.9 215.3 L111.3 216.3 L111.6 217.4 L112.0 217.9 L112.3 217.5 L112.6 216.2 L113.0 214.3 L113.3 211.9 L113.6 209.3 L114.0 206.7 L114.3 204.1 L114.6 201.9 L115.0 200.5 L115.3 200.7 L115.6 202.5 L116.0 204.9 L116.3 207.7 L116.6 210.6 L117.0 213.5 L117.3 216.1 L117.6 218.5 L118.0 220.5 L118.3 222.2 L118.6 223.5 L119.0 224.4 L119.3 225.0 L119.6 225.4 L120.0 225.7 L120.3 226.0 L120.7 226.6 L121.0 227.4 L121.3 228.1 L121.7 228.7 L122.0 229.2 L122.3 229.6 L122.7 229.9 L123.0 230.1 L123.3 230.2 L123.7 230.3 L124.0 230.3 L124.3 230.4 L124.7 230.4 L125.0 230.4 L125.3 230.4 L125.7 230.4 L126.0 230.4 L126.3 230.4 L126.7 230.4 L127.0 230.4 L127.3 230.4 L127.7 230.4 L128.0 230.4 L128.3 230.4 L128.7 230.4 L129.0 230.4 L129.4 230.4 L129.7 230.4 L130.0 230.4 L130.4 230.4 L130.7 230.4 L131.0 230.4 L131.4 230.4 L131.7 230.4 L132.0 230.4 L132.4 230.4 L132.7 230.4 L133.0 230.4 L133.4 230.4 L133.7 230.4 L134.0 230.4 L134.4 230.4 L134.7 230.4 L135.0 230.4 L135.4 230.4 L135.7 230.4 L136.0 230.4 L136.4 230.4 L136.7 230.4 L137.0 230.4 L137.4 230.4 L137.7 230.4 L138.1 230.4 L138.4 230.4 L138.7 230.4 L139.1 230.4 L139.4 230.4 L139.7 230.4 L140.1 230.4 L140.4 230.4 L140.7 230.4 L141.1 230.4 L141.4 230.4" fill="none" stroke="#111" stroke-width="1.05"/>
<rect x="107.60" y="193.60" width="33.80" height="36.80" fill="none" stroke="#333" stroke-width="1.0"/>
<line x1="107.60" y1="230.10" x2="141.40" y2="230.10" stroke="#0a0a0a" stroke-width="1.6"/>
<line x1="107.80" y1="193.60" x2="107.80" y2="230.40" stroke="#1a1a1a" stroke-width="1.4"/>
<line x1="106.20" y1="230.40" x2="107.60" y2="230.40" stroke="#333" stroke-width="0.6"/>
<line x1="106.20" y1="223.04" x2="107.60" y2="223.04" stroke="#333" stroke-width="0.6"/>
<line x1="106.20" y1="215.68" x2="107.60" y2="215.68" stroke="#333" stroke-width="0.6"/>
<line x1="106.20" y1="208.32" x2="107.60" y2="208.32" stroke="#333" stroke-width="0.6"/>
<line x1="106.20" y1="200.96" x2="107.60" y2="200.96" stroke="#333" stroke-width="0.6"/>
<line x1="106.20" y1="193.60" x2="107.60" y2="193.60" stroke="#333" stroke-width="0.6"/>
<text class="s" transform="translate(104.60 193.60) rotate(-90)" text-anchor="middle" font-size="4.5">250</text>
<text class="s" transform="translate(104.60 230.40) rotate(-90)" text-anchor="middle" font-size="4.5">0</text>
<text class="s" transform="translate(99.60 213.20) rotate(-90)" text-anchor="middle" font-size="4.5">Counts</text>
<text class="s" x="108.90" y="237.40" text-anchor="middle" font-size="4.5">10<tspan font-size="3.8" dy="-1.9">0</tspan></text>
<text class="s" x="141.70" y="237.40" text-anchor="middle" font-size="4.5">10<tspan font-size="3.8" dy="-1.9">4</tspan></text>
<text class="s" x="124.50" y="242.60" text-anchor="middle" font-size="4.5">FL2-Height</text>
<path d="M163.7 230.4 L163.7 230.2 L164.0 230.1 L164.4 230.0 L164.7 229.9 L165.0 229.7 L165.4 229.5 L165.7 229.2 L166.0 228.8 L166.4 228.2 L166.7 227.6 L167.0 226.8 L167.4 225.8 L167.7 224.6 L168.0 223.2 L168.4 221.5 L168.7 219.6 L169.0 217.5 L169.4 215.3 L169.7 212.9 L170.0 210.4 L170.4 208.1 L170.7 206.0 L171.0 204.3 L171.4 203.7 L171.7 204.9 L172.0 206.9 L172.4 209.3 L172.7 211.8 L173.0 214.2 L173.4 216.5 L173.7 218.6 L174.0 220.4 L174.4 221.9 L174.7 223.1 L175.0 224.1 L175.4 224.9 L175.7 225.5 L176.0 226.0 L176.4 226.5 L176.7 226.9 L177.0 227.2 L177.4 227.5 L177.7 227.8 L178.0 228.0 L178.4 228.2 L178.7 228.4 L179.0 228.6 L179.4 228.8 L179.7 229.0 L180.0 229.1 L180.4 229.2 L180.7 229.4 L181.0 229.5 L181.4 229.6 L181.7 229.7 L182.1 229.8 L182.4 229.9 L182.7 229.9 L183.1 230.0 L183.4 230.1 L183.7 230.1 L184.1 230.1 L184.4 230.2 L184.7 230.2 L185.1 230.2 L185.4 230.3 L185.7 230.3 L186.1 230.3 L186.4 230.3 L186.7 230.3 L187.1 230.3 L187.4 230.4 L187.7 230.4 L188.1 230.4 L188.4 230.4 L188.7 230.4 L189.1 230.4 L189.4 230.4 L189.7 230.4 L190.1 230.4 L190.4 230.4 L190.7 230.4 L191.1 230.4 L191.4 230.4 L191.7 230.4 L192.1 230.4 L192.4 230.4 L192.7 230.4 L193.1 230.4 L193.4 230.4 L193.7 230.4 L194.1 230.4 L194.4 230.4 L194.7 230.4 L195.1 230.4 L195.4 230.4 L195.7 230.4 L196.1 230.4 L196.4 230.4 L196.7 230.4 L197.1 230.4 L197.4 230.4 L197.7 230.4 L198.1 230.4 L198.4 230.4 L198.7 230.4 L199.1 230.4 L199.4 230.4 L199.4 230.4 Z" fill="#a4a4a4" stroke="#1a1a1a" stroke-width="0.95"/>
<path d="M163.7 230.4 L163.7 230.2 L164.0 230.1 L164.4 230.0 L164.7 229.9 L165.0 229.7 L165.4 229.5 L165.7 229.2 L166.0 228.8 L166.4 228.2 L166.7 227.6 L167.0 226.8 L167.4 225.8 L167.7 224.6 L168.0 223.2 L168.4 221.5 L168.7 219.6 L169.0 217.5 L169.4 215.3 L169.7 212.9 L170.0 210.4 L170.4 208.1 L170.7 206.0 L171.0 204.3 L171.4 203.7 L171.7 204.9 L172.0 206.9 L172.4 209.3 L172.7 211.8 L173.0 214.2 L173.4 216.5 L173.7 218.6 L174.0 220.4 L174.4 221.9 L174.7 223.1 L175.0 224.1 L175.4 224.9 L175.7 225.5 L176.0 226.0 L176.4 226.5 L176.7 226.9 L177.0 227.2 L177.4 227.5 L177.7 227.8 L178.0 228.0 L178.4 228.2 L178.7 228.4 L179.0 228.6 L179.4 228.8 L179.7 229.0 L180.0 229.1 L180.4 229.2 L180.7 229.4 L181.0 229.5 L181.4 229.6 L181.7 229.7 L182.1 229.8 L182.4 229.9 L182.7 229.9 L183.1 230.0 L183.4 230.1 L183.7 230.1 L184.1 230.1 L184.4 230.2 L184.7 230.2 L185.1 230.2 L185.4 230.3 L185.7 230.3 L186.1 230.3 L186.4 230.3 L186.7 230.3 L187.1 230.3 L187.4 230.4 L187.7 230.4 L188.1 230.4 L188.4 230.4 L188.7 230.4 L189.1 230.4 L189.4 230.4 L189.7 230.4 L190.1 230.4 L190.4 230.4 L190.7 230.4 L191.1 230.4 L191.4 230.4 L191.7 230.4 L192.1 230.4 L192.4 230.4 L192.7 230.4 L193.1 230.4 L193.4 230.4 L193.7 230.4 L194.1 230.4 L194.4 230.4 L194.7 230.4 L195.1 230.4 L195.4 230.4 L195.7 230.4 L196.1 230.4 L196.4 230.4 L196.7 230.4 L197.1 230.4 L197.4 230.4 L197.7 230.4 L198.1 230.4 L198.4 230.4 L198.7 230.4 L199.1 230.4 L199.4 230.4" fill="none" stroke="#111" stroke-width="1.05"/>
<rect x="163.70" y="194.30" width="35.70" height="36.10" fill="none" stroke="#333" stroke-width="1.0"/>
<line x1="163.70" y1="230.10" x2="199.40" y2="230.10" stroke="#0a0a0a" stroke-width="1.6"/>
<line x1="163.90" y1="194.30" x2="163.90" y2="230.40" stroke="#1a1a1a" stroke-width="1.4"/>
<line x1="162.30" y1="230.40" x2="163.70" y2="230.40" stroke="#333" stroke-width="0.6"/>
<line x1="162.30" y1="223.18" x2="163.70" y2="223.18" stroke="#333" stroke-width="0.6"/>
<line x1="162.30" y1="215.96" x2="163.70" y2="215.96" stroke="#333" stroke-width="0.6"/>
<line x1="162.30" y1="208.74" x2="163.70" y2="208.74" stroke="#333" stroke-width="0.6"/>
<line x1="162.30" y1="201.52" x2="163.70" y2="201.52" stroke="#333" stroke-width="0.6"/>
<line x1="162.30" y1="194.30" x2="163.70" y2="194.30" stroke="#333" stroke-width="0.6"/>
<text class="s" transform="translate(160.70 194.30) rotate(-90)" text-anchor="middle" font-size="4.5">100</text>
<text class="s" transform="translate(160.70 230.40) rotate(-90)" text-anchor="middle" font-size="4.5">0</text>
<text class="s" transform="translate(155.70 213.55) rotate(-90)" text-anchor="middle" font-size="4.5">Counts</text>
<text class="s" x="165.00" y="237.40" text-anchor="middle" font-size="4.5">10<tspan font-size="3.8" dy="-1.9">0</tspan></text>
<text class="s" x="199.70" y="237.40" text-anchor="middle" font-size="4.5">10<tspan font-size="3.8" dy="-1.9">4</tspan></text>
<text class="s" x="181.55" y="242.60" text-anchor="middle" font-size="4.5">FL2-Height</text>
<path d="M221.0 230.0 L221.0 229.9 L221.3 229.9 L221.7 229.8 L222.0 229.7 L222.3 229.6 L222.7 229.5 L223.0 229.2 L223.3 229.0 L223.7 228.6 L224.0 228.1 L224.3 227.5 L224.7 226.7 L225.0 225.7 L225.3 224.5 L225.7 223.1 L226.0 221.5 L226.3 219.5 L226.7 217.2 L227.0 214.3 L227.3 210.4 L227.7 205.4 L228.0 199.9 L228.3 197.0 L228.7 201.1 L229.0 206.5 L229.3 210.9 L229.7 214.2 L230.0 216.7 L230.4 218.7 L230.7 220.3 L231.0 221.7 L231.4 222.8 L231.7 223.8 L232.0 224.5 L232.4 225.1 L232.7 225.6 L233.0 226.0 L233.4 226.4 L233.7 226.7 L234.0 227.0 L234.4 227.2 L234.7 227.5 L235.0 227.7 L235.4 227.9 L235.7 228.1 L236.0 228.2 L236.4 228.4 L236.7 228.6 L237.0 228.7 L237.4 228.8 L237.7 229.0 L238.0 229.1 L238.4 229.2 L238.7 229.3 L239.0 229.4 L239.4 229.5 L239.7 229.5 L240.0 229.6 L240.4 229.7 L240.7 229.7 L241.0 229.7 L241.4 229.8 L241.7 229.8 L242.0 229.8 L242.4 229.9 L242.7 229.9 L243.0 229.9 L243.4 229.9 L243.7 229.9 L244.0 229.9 L244.4 230.0 L244.7 230.0 L245.0 230.0 L245.4 230.0 L245.7 230.0 L246.0 230.0 L246.4 230.0 L246.7 230.0 L247.1 230.0 L247.4 230.0 L247.7 230.0 L248.1 230.0 L248.4 230.0 L248.7 230.0 L249.1 230.0 L249.4 230.0 L249.7 230.0 L250.1 230.0 L250.4 230.0 L250.7 230.0 L251.1 230.0 L251.4 230.0 L251.7 230.0 L252.1 230.0 L252.4 230.0 L252.7 230.0 L253.1 230.0 L253.4 230.0 L253.7 230.0 L254.1 230.0 L254.4 230.0 L254.7 230.0 L255.1 230.0 L255.4 230.0 L255.4 230.0 Z" fill="#a4a4a4" stroke="#1a1a1a" stroke-width="0.95"/>
<path d="M221.0 230.0 L221.0 229.9 L221.3 229.9 L221.7 229.8 L222.0 229.7 L222.3 229.6 L222.7 229.5 L223.0 229.2 L223.3 229.0 L223.7 228.6 L224.0 228.1 L224.3 227.5 L224.7 226.7 L225.0 225.7 L225.3 224.5 L225.7 223.1 L226.0 221.5 L226.3 219.5 L226.7 217.2 L227.0 214.3 L227.3 210.4 L227.7 205.4 L228.0 199.9 L228.3 197.0 L228.7 201.1 L229.0 206.5 L229.3 210.9 L229.7 214.2 L230.0 216.7 L230.4 218.7 L230.7 220.3 L231.0 221.7 L231.4 222.8 L231.7 223.8 L232.0 224.5 L232.4 225.1 L232.7 225.6 L233.0 226.0 L233.4 226.4 L233.7 226.7 L234.0 227.0 L234.4 227.2 L234.7 227.5 L235.0 227.7 L235.4 227.9 L235.7 228.1 L236.0 228.2 L236.4 228.4 L236.7 228.6 L237.0 228.7 L237.4 228.8 L237.7 229.0 L238.0 229.1 L238.4 229.2 L238.7 229.3 L239.0 229.4 L239.4 229.5 L239.7 229.5 L240.0 229.6 L240.4 229.7 L240.7 229.7 L241.0 229.7 L241.4 229.8 L241.7 229.8 L242.0 229.8 L242.4 229.9 L242.7 229.9 L243.0 229.9 L243.4 229.9 L243.7 229.9 L244.0 229.9 L244.4 230.0 L244.7 230.0 L245.0 230.0 L245.4 230.0 L245.7 230.0 L246.0 230.0 L246.4 230.0 L246.7 230.0 L247.1 230.0 L247.4 230.0 L247.7 230.0 L248.1 230.0 L248.4 230.0 L248.7 230.0 L249.1 230.0 L249.4 230.0 L249.7 230.0 L250.1 230.0 L250.4 230.0 L250.7 230.0 L251.1 230.0 L251.4 230.0 L251.7 230.0 L252.1 230.0 L252.4 230.0 L252.7 230.0 L253.1 230.0 L253.4 230.0 L253.7 230.0 L254.1 230.0 L254.4 230.0 L254.7 230.0 L255.1 230.0 L255.4 230.0" fill="none" stroke="#111" stroke-width="1.05"/>
<rect x="221.00" y="194.30" width="34.40" height="35.70" fill="none" stroke="#333" stroke-width="1.0"/>
<line x1="221.00" y1="229.70" x2="255.40" y2="229.70" stroke="#0a0a0a" stroke-width="1.6"/>
<line x1="221.20" y1="194.30" x2="221.20" y2="230.00" stroke="#1a1a1a" stroke-width="1.4"/>
<line x1="219.60" y1="230.00" x2="221.00" y2="230.00" stroke="#333" stroke-width="0.6"/>
<line x1="219.60" y1="222.86" x2="221.00" y2="222.86" stroke="#333" stroke-width="0.6"/>
<line x1="219.60" y1="215.72" x2="221.00" y2="215.72" stroke="#333" stroke-width="0.6"/>
<line x1="219.60" y1="208.58" x2="221.00" y2="208.58" stroke="#333" stroke-width="0.6"/>
<line x1="219.60" y1="201.44" x2="221.00" y2="201.44" stroke="#333" stroke-width="0.6"/>
<line x1="219.60" y1="194.30" x2="221.00" y2="194.30" stroke="#333" stroke-width="0.6"/>
<text class="s" transform="translate(218.00 194.30) rotate(-90)" text-anchor="middle" font-size="4.5">100</text>
<text class="s" transform="translate(218.00 230.00) rotate(-90)" text-anchor="middle" font-size="4.5">0</text>
<text class="s" transform="translate(213.00 213.35) rotate(-90)" text-anchor="middle" font-size="4.5">Counts</text>
<text class="s" x="222.30" y="237.00" text-anchor="middle" font-size="4.5">10<tspan font-size="3.8" dy="-1.9">0</tspan></text>
<text class="s" x="255.70" y="237.00" text-anchor="middle" font-size="4.5">10<tspan font-size="3.8" dy="-1.9">4</tspan></text>
<text class="s" x="238.20" y="242.20" text-anchor="middle" font-size="4.5">FL2-Height</text>
<path d="M48.6 289.8 L48.6 289.8 L48.9 289.8 L49.3 289.8 L49.6 289.8 L49.9 289.8 L50.3 289.8 L50.6 289.8 L50.9 289.8 L51.3 289.8 L51.6 289.8 L51.9 289.7 L52.3 289.7 L52.6 289.7 L52.9 289.7 L53.3 289.6 L53.6 289.5 L54.0 289.5 L54.3 289.4 L54.6 289.3 L55.0 289.1 L55.3 288.9 L55.6 288.7 L56.0 288.4 L56.3 288.1 L56.6 287.7 L57.0 287.2 L57.3 286.7 L57.6 286.1 L58.0 285.3 L58.3 284.5 L58.6 283.5 L59.0 282.4 L59.3 281.3 L59.6 280.0 L60.0 278.6 L60.3 277.0 L60.6 275.2 L61.0 273.2 L61.3 271.1 L61.6 268.9 L62.0 266.7 L62.3 264.6 L62.7 262.7 L63.0 261.3 L63.3 260.7 L63.7 262.0 L64.0 264.3 L64.3 267.1 L64.7 270.1 L65.0 273.1 L65.3 275.9 L65.7 278.4 L66.0 280.7 L66.3 282.6 L66.7 284.2 L67.0 285.5 L67.3 286.6 L67.7 287.4 L68.0 288.1 L68.3 288.5 L68.7 288.9 L69.0 289.2 L69.3 289.4 L69.7 289.5 L70.0 289.6 L70.3 289.7 L70.7 289.7 L71.0 289.7 L71.4 289.8 L71.7 289.8 L72.0 289.8 L72.4 289.8 L72.7 289.8 L73.0 289.8 L73.4 289.8 L73.7 289.8 L74.0 289.8 L74.4 289.8 L74.7 289.8 L75.0 289.8 L75.4 289.8 L75.7 289.8 L76.0 289.8 L76.4 289.8 L76.7 289.8 L77.0 289.8 L77.4 289.8 L77.7 289.8 L78.0 289.8 L78.4 289.8 L78.7 289.8 L79.0 289.8 L79.4 289.8 L79.7 289.8 L80.1 289.8 L80.4 289.8 L80.7 289.8 L81.1 289.8 L81.4 289.8 L81.7 289.8 L82.1 289.8 L82.4 289.8 L82.7 289.8 L83.1 289.8 L83.4 289.8 L83.7 289.8 L84.1 289.8 L84.4 289.8 L84.4 289.8 Z" fill="#a4a4a4" stroke="#1a1a1a" stroke-width="0.95"/>
<path d="M48.6 289.8 L48.6 289.7 L48.9 289.7 L49.3 289.6 L49.6 289.5 L49.9 289.2 L50.3 288.8 L50.6 288.0 L50.9 286.7 L51.3 284.7 L51.6 281.6 L51.9 277.2 L52.3 271.4 L52.6 264.3 L52.9 256.5 L53.3 252.5 L53.6 252.5 L54.0 252.5 L54.3 252.5 L54.6 252.5 L55.0 252.5 L55.3 252.5 L55.6 255.3 L56.0 261.4 L56.3 267.3 L56.6 272.4 L57.0 276.7 L57.3 280.0 L57.6 282.6 L58.0 284.4 L58.3 285.6 L58.6 286.5 L59.0 287.0 L59.3 287.4 L59.6 287.7 L60.0 287.9 L60.3 288.1 L60.6 288.2 L61.0 288.3 L61.3 288.4 L61.6 288.6 L62.0 288.7 L62.3 288.8 L62.7 288.9 L63.0 289.0 L63.3 289.0 L63.7 289.1 L64.0 289.2 L64.3 289.3 L64.7 289.3 L65.0 289.4 L65.3 289.4 L65.7 289.5 L66.0 289.5 L66.3 289.6 L66.7 289.6 L67.0 289.6 L67.3 289.7 L67.7 289.7 L68.0 289.7 L68.3 289.7 L68.7 289.7 L69.0 289.7 L69.3 289.8 L69.7 289.8 L70.0 289.8 L70.3 289.8 L70.7 289.8 L71.0 289.8 L71.4 289.8 L71.7 289.8 L72.0 289.8 L72.4 289.8 L72.7 289.8 L73.0 289.8 L73.4 289.8 L73.7 289.8 L74.0 289.8 L74.4 289.8 L74.7 289.8 L75.0 289.8 L75.4 289.8 L75.7 289.8 L76.0 289.8 L76.4 289.8 L76.7 289.8 L77.0 289.8 L77.4 289.8 L77.7 289.8 L78.0 289.8 L78.4 289.8 L78.7 289.8 L79.0 289.8 L79.4 289.8 L79.7 289.8 L80.1 289.8 L80.4 289.8 L80.7 289.8 L81.1 289.8 L81.4 289.8 L81.7 289.8 L82.1 289.8 L82.4 289.8 L82.7 289.8 L83.1 289.8 L83.4 289.8 L83.7 289.8 L84.1 289.8 L84.4 289.8" fill="none" stroke="#111" stroke-width="1.05"/>
<rect x="48.60" y="252.50" width="35.80" height="37.30" fill="none" stroke="#333" stroke-width="1.0"/>
<line x1="48.60" y1="289.50" x2="84.40" y2="289.50" stroke="#0a0a0a" stroke-width="1.6"/>
<line x1="48.80" y1="252.50" x2="48.80" y2="289.80" stroke="#1a1a1a" stroke-width="1.4"/>
<line x1="47.20" y1="289.80" x2="48.60" y2="289.80" stroke="#333" stroke-width="0.6"/>
<line x1="47.20" y1="282.34" x2="48.60" y2="282.34" stroke="#333" stroke-width="0.6"/>
<line x1="47.20" y1="274.88" x2="48.60" y2="274.88" stroke="#333" stroke-width="0.6"/>
<line x1="47.20" y1="267.42" x2="48.60" y2="267.42" stroke="#333" stroke-width="0.6"/>
<line x1="47.20" y1="259.96" x2="48.60" y2="259.96" stroke="#333" stroke-width="0.6"/>
<line x1="47.20" y1="252.50" x2="48.60" y2="252.50" stroke="#333" stroke-width="0.6"/>
<text class="s" transform="translate(45.60 289.80) rotate(-90)" text-anchor="middle" font-size="4.5">0</text>
<text class="s" transform="translate(45.60 282.34) rotate(-90)" text-anchor="middle" font-size="4.5">10</text>
<text class="s" transform="translate(45.60 274.88) rotate(-90)" text-anchor="middle" font-size="4.5">20</text>
<text class="s" transform="translate(45.60 267.42) rotate(-90)" text-anchor="middle" font-size="4.5">30</text>
<text class="s" transform="translate(45.60 259.96) rotate(-90)" text-anchor="middle" font-size="4.5">40</text>
<text class="s" transform="translate(45.60 252.50) rotate(-90)" text-anchor="middle" font-size="4.5">50</text>
<text class="s" transform="translate(40.10 272.35) rotate(-90)" text-anchor="middle" font-size="4.5">Counts</text>
<text class="s" x="49.90" y="296.80" text-anchor="middle" font-size="4.5">10<tspan font-size="3.8" dy="-1.9">0</tspan></text>
<text class="s" x="84.70" y="296.80" text-anchor="middle" font-size="4.5">10<tspan font-size="3.8" dy="-1.9">4</tspan></text>
<text class="s" x="66.50" y="302.00" text-anchor="middle" font-size="4.5">FL2-Height</text>
<path d="M109.0 289.5 L109.0 289.5 L109.3 289.5 L109.7 289.5 L110.0 289.4 L110.3 289.4 L110.7 289.4 L111.0 289.3 L111.3 289.2 L111.7 289.0 L112.0 288.8 L112.3 288.5 L112.7 288.1 L113.0 287.6 L113.3 286.8 L113.7 285.9 L114.0 284.7 L114.3 283.2 L114.7 281.3 L115.0 279.1 L115.3 276.5 L115.7 273.5 L116.0 270.1 L116.3 266.5 L116.7 262.9 L117.0 259.4 L117.3 256.3 L117.7 254.2 L118.0 254.4 L118.3 256.6 L118.7 259.5 L119.0 262.8 L119.3 266.2 L119.7 269.5 L120.0 272.6 L120.3 275.3 L120.7 277.7 L121.0 279.7 L121.3 281.5 L121.7 283.1 L122.0 284.3 L122.3 285.4 L122.7 286.2 L123.0 286.9 L123.3 287.4 L123.7 287.9 L124.0 288.2 L124.3 288.5 L124.7 288.7 L125.0 288.9 L125.3 289.0 L125.7 289.1 L126.0 289.2 L126.3 289.3 L126.7 289.3 L127.0 289.4 L127.4 289.4 L127.7 289.4 L128.0 289.4 L128.4 289.5 L128.7 289.5 L129.0 289.5 L129.4 289.5 L129.7 289.5 L130.0 289.5 L130.4 289.5 L130.7 289.5 L131.0 289.5 L131.4 289.5 L131.7 289.5 L132.0 289.5 L132.4 289.5 L132.7 289.5 L133.0 289.5 L133.4 289.5 L133.7 289.5 L134.0 289.5 L134.4 289.5 L134.7 289.5 L135.0 289.5 L135.4 289.5 L135.7 289.5 L136.0 289.5 L136.4 289.5 L136.7 289.5 L137.0 289.5 L137.4 289.5 L137.7 289.5 L138.0 289.5 L138.4 289.5 L138.7 289.5 L139.0 289.5 L139.4 289.5 L139.7 289.5 L140.0 289.5 L140.4 289.5 L140.7 289.5 L141.0 289.5 L141.4 289.5 L141.7 289.5 L142.0 289.5 L142.4 289.5 L142.7 289.5 L143.0 289.5 L143.4 289.5 L143.7 289.5 L143.7 289.5 Z" fill="#a4a4a4" stroke="#1a1a1a" stroke-width="0.95"/>
<path d="M109.0 289.5 L109.0 288.8 L109.3 288.3 L109.7 287.7 L110.0 286.7 L110.3 285.4 L110.7 283.5 L111.0 281.1 L111.3 278.0 L111.7 274.3 L112.0 269.9 L112.3 265.2 L112.7 260.6 L113.0 256.8 L113.3 255.1 L113.7 257.2 L114.0 260.9 L114.3 265.2 L114.7 269.5 L115.0 273.6 L115.3 277.2 L115.7 280.2 L116.0 282.6 L116.3 284.6 L116.7 286.0 L117.0 287.1 L117.3 287.9 L117.7 288.4 L118.0 288.8 L118.3 289.1 L118.7 289.2 L119.0 289.3 L119.3 289.4 L119.7 289.4 L120.0 289.5 L120.3 289.5 L120.7 289.5 L121.0 289.5 L121.3 289.5 L121.7 289.5 L122.0 289.5 L122.3 289.5 L122.7 289.5 L123.0 289.5 L123.3 289.5 L123.7 289.5 L124.0 289.5 L124.3 289.5 L124.7 289.5 L125.0 289.5 L125.3 289.5 L125.7 289.5 L126.0 289.5 L126.3 289.5 L126.7 289.5 L127.0 289.5 L127.4 289.5 L127.7 289.5 L128.0 289.5 L128.4 289.5 L128.7 289.5 L129.0 289.5 L129.4 289.5 L129.7 289.5 L130.0 289.5 L130.4 289.5 L130.7 289.5 L131.0 289.5 L131.4 289.5 L131.7 289.5 L132.0 289.5 L132.4 289.5 L132.7 289.5 L133.0 289.5 L133.4 289.5 L133.7 289.5 L134.0 289.5 L134.4 289.5 L134.7 289.5 L135.0 289.5 L135.4 289.5 L135.7 289.5 L136.0 289.5 L136.4 289.5 L136.7 289.5 L137.0 289.5 L137.4 289.5 L137.7 289.5 L138.0 289.5 L138.4 289.5 L138.7 289.5 L139.0 289.5 L139.4 289.5 L139.7 289.5 L140.0 289.5 L140.4 289.5 L140.7 289.5 L141.0 289.5 L141.4 289.5 L141.7 289.5 L142.0 289.5 L142.4 289.5 L142.7 289.5 L143.0 289.5 L143.4 289.5 L143.7 289.5" fill="none" stroke="#111" stroke-width="1.05"/>
<rect x="109.00" y="252.80" width="34.70" height="36.70" fill="none" stroke="#333" stroke-width="1.0"/>
<line x1="109.00" y1="289.20" x2="143.70" y2="289.20" stroke="#0a0a0a" stroke-width="1.6"/>
<line x1="109.20" y1="252.80" x2="109.20" y2="289.50" stroke="#1a1a1a" stroke-width="1.4"/>
<line x1="107.60" y1="289.50" x2="109.00" y2="289.50" stroke="#333" stroke-width="0.6"/>
<line x1="107.60" y1="282.16" x2="109.00" y2="282.16" stroke="#333" stroke-width="0.6"/>
<line x1="107.60" y1="274.82" x2="109.00" y2="274.82" stroke="#333" stroke-width="0.6"/>
<line x1="107.60" y1="267.48" x2="109.00" y2="267.48" stroke="#333" stroke-width="0.6"/>
<line x1="107.60" y1="260.14" x2="109.00" y2="260.14" stroke="#333" stroke-width="0.6"/>
<line x1="107.60" y1="252.80" x2="109.00" y2="252.80" stroke="#333" stroke-width="0.6"/>
<text class="s" transform="translate(106.00 289.50) rotate(-90)" text-anchor="middle" font-size="4.5">0</text>
<text class="s" transform="translate(106.00 282.16) rotate(-90)" text-anchor="middle" font-size="4.5">10</text>
<text class="s" transform="translate(106.00 274.82) rotate(-90)" text-anchor="middle" font-size="4.5">20</text>
<text class="s" transform="translate(106.00 267.48) rotate(-90)" text-anchor="middle" font-size="4.5">30</text>
<text class="s" transform="translate(106.00 260.14) rotate(-90)" text-anchor="middle" font-size="4.5">40</text>
<text class="s" transform="translate(106.00 252.80) rotate(-90)" text-anchor="middle" font-size="4.5">50</text>
<text class="s" transform="translate(100.50 272.35) rotate(-90)" text-anchor="middle" font-size="4.5">Counts</text>
<text class="s" x="110.30" y="296.50" text-anchor="middle" font-size="4.5">10<tspan font-size="3.8" dy="-1.9">0</tspan></text>
<text class="s" x="144.00" y="296.50" text-anchor="middle" font-size="4.5">10<tspan font-size="3.8" dy="-1.9">4</tspan></text>
<text class="s" x="126.35" y="301.70" text-anchor="middle" font-size="4.5">FL2-Height</text>
<path d="M165.3 289.5 L165.3 289.2 L165.6 289.0 L166.0 288.7 L166.3 288.3 L166.6 287.6 L167.0 286.7 L167.3 285.3 L167.6 283.5 L168.0 281.1 L168.3 278.0 L168.6 274.2 L169.0 269.9 L169.3 265.1 L169.6 260.4 L170.0 256.4 L170.3 254.3 L170.6 256.2 L171.0 259.6 L171.3 263.7 L171.7 267.9 L172.0 271.9 L172.3 275.3 L172.7 278.3 L173.0 280.6 L173.3 282.5 L173.7 283.9 L174.0 284.9 L174.3 285.7 L174.7 286.3 L175.0 286.8 L175.3 287.2 L175.7 287.4 L176.0 287.7 L176.3 287.8 L176.7 288.0 L177.0 288.1 L177.3 288.3 L177.7 288.4 L178.0 288.5 L178.3 288.6 L178.7 288.7 L179.0 288.8 L179.3 288.9 L179.7 289.0 L180.0 289.0 L180.3 289.1 L180.7 289.1 L181.0 289.2 L181.3 289.2 L181.7 289.3 L182.0 289.3 L182.4 289.3 L182.7 289.4 L183.0 289.4 L183.4 289.4 L183.7 289.4 L184.0 289.4 L184.4 289.4 L184.7 289.5 L185.0 289.5 L185.4 289.5 L185.7 289.5 L186.0 289.5 L186.4 289.5 L186.7 289.5 L187.0 289.5 L187.4 289.5 L187.7 289.5 L188.0 289.5 L188.4 289.5 L188.7 289.5 L189.0 289.5 L189.4 289.5 L189.7 289.5 L190.0 289.5 L190.4 289.5 L190.7 289.5 L191.0 289.5 L191.4 289.5 L191.7 289.5 L192.0 289.5 L192.4 289.5 L192.7 289.5 L193.0 289.5 L193.4 289.5 L193.7 289.5 L194.1 289.5 L194.4 289.5 L194.7 289.5 L195.1 289.5 L195.4 289.5 L195.7 289.5 L196.1 289.5 L196.4 289.5 L196.7 289.5 L197.1 289.5 L197.4 289.5 L197.7 289.5 L198.1 289.5 L198.4 289.5 L198.7 289.5 L199.1 289.5 L199.4 289.5 L199.4 289.5 Z" fill="#a4a4a4" stroke="#1a1a1a" stroke-width="0.95"/>
<path d="M165.3 289.5 L165.3 289.2 L165.6 289.0 L166.0 288.7 L166.3 288.3 L166.6 287.6 L167.0 286.7 L167.3 285.3 L167.6 283.5 L168.0 281.1 L168.3 278.0 L168.6 274.2 L169.0 269.9 L169.3 265.1 L169.6 260.4 L170.0 256.4 L170.3 254.3 L170.6 256.2 L171.0 259.6 L171.3 263.7 L171.7 267.9 L172.0 271.9 L172.3 275.3 L172.7 278.3 L173.0 280.6 L173.3 282.5 L173.7 283.9 L174.0 284.9 L174.3 285.7 L174.7 286.3 L175.0 286.8 L175.3 287.2 L175.7 287.4 L176.0 287.7 L176.3 287.8 L176.7 288.0 L177.0 288.1 L177.3 288.3 L177.7 288.4 L178.0 288.5 L178.3 288.6 L178.7 288.7 L179.0 288.8 L179.3 288.9 L179.7 289.0 L180.0 289.0 L180.3 289.1 L180.7 289.1 L181.0 289.2 L181.3 289.2 L181.7 289.3 L182.0 289.3 L182.4 289.3 L182.7 289.4 L183.0 289.4 L183.4 289.4 L183.7 289.4 L184.0 289.4 L184.4 289.4 L184.7 289.5 L185.0 289.5 L185.4 289.5 L185.7 289.5 L186.0 289.5 L186.4 289.5 L186.7 289.5 L187.0 289.5 L187.4 289.5 L187.7 289.5 L188.0 289.5 L188.4 289.5 L188.7 289.5 L189.0 289.5 L189.4 289.5 L189.7 289.5 L190.0 289.5 L190.4 289.5 L190.7 289.5 L191.0 289.5 L191.4 289.5 L191.7 289.5 L192.0 289.5 L192.4 289.5 L192.7 289.5 L193.0 289.5 L193.4 289.5 L193.7 289.5 L194.1 289.5 L194.4 289.5 L194.7 289.5 L195.1 289.5 L195.4 289.5 L195.7 289.5 L196.1 289.5 L196.4 289.5 L196.7 289.5 L197.1 289.5 L197.4 289.5 L197.7 289.5 L198.1 289.5 L198.4 289.5 L198.7 289.5 L199.1 289.5 L199.4 289.5" fill="none" stroke="#111" stroke-width="1.05"/>
<rect x="165.30" y="253.30" width="34.10" height="36.20" fill="none" stroke="#333" stroke-width="1.0"/>
<line x1="165.30" y1="289.20" x2="199.40" y2="289.20" stroke="#0a0a0a" stroke-width="1.6"/>
<line x1="165.50" y1="253.30" x2="165.50" y2="289.50" stroke="#1a1a1a" stroke-width="1.4"/>
<line x1="163.90" y1="289.50" x2="165.30" y2="289.50" stroke="#333" stroke-width="0.6"/>
<line x1="163.90" y1="282.26" x2="165.30" y2="282.26" stroke="#333" stroke-width="0.6"/>
<line x1="163.90" y1="275.02" x2="165.30" y2="275.02" stroke="#333" stroke-width="0.6"/>
<line x1="163.90" y1="267.78" x2="165.30" y2="267.78" stroke="#333" stroke-width="0.6"/>
<line x1="163.90" y1="260.54" x2="165.30" y2="260.54" stroke="#333" stroke-width="0.6"/>
<line x1="163.90" y1="253.30" x2="165.30" y2="253.30" stroke="#333" stroke-width="0.6"/>
<text class="s" transform="translate(162.30 289.50) rotate(-90)" text-anchor="middle" font-size="4.5">0</text>
<text class="s" transform="translate(162.30 282.26) rotate(-90)" text-anchor="middle" font-size="4.5">10</text>
<text class="s" transform="translate(162.30 275.02) rotate(-90)" text-anchor="middle" font-size="4.5">20</text>
<text class="s" transform="translate(162.30 267.78) rotate(-90)" text-anchor="middle" font-size="4.5">30</text>
<text class="s" transform="translate(162.30 260.54) rotate(-90)" text-anchor="middle" font-size="4.5">40</text>
<text class="s" transform="translate(162.30 253.30) rotate(-90)" text-anchor="middle" font-size="4.5">50</text>
<text class="s" transform="translate(156.80 272.60) rotate(-90)" text-anchor="middle" font-size="4.5">Counts</text>
<text class="s" x="166.60" y="296.50" text-anchor="middle" font-size="4.5">10<tspan font-size="3.8" dy="-1.9">0</tspan></text>
<text class="s" x="199.70" y="296.50" text-anchor="middle" font-size="4.5">10<tspan font-size="3.8" dy="-1.9">4</tspan></text>
<text class="s" x="182.35" y="301.70" text-anchor="middle" font-size="4.5">FL2-Height</text>
<path d="M220.3 289.1 L220.3 289.1 L220.6 289.1 L221.0 289.0 L221.3 289.0 L221.6 289.0 L222.0 289.0 L222.3 288.9 L222.6 288.9 L223.0 288.9 L223.3 288.8 L223.7 288.7 L224.0 288.6 L224.3 288.5 L224.7 288.4 L225.0 288.3 L225.3 288.1 L225.7 288.0 L226.0 287.8 L226.3 287.6 L226.7 287.4 L227.0 287.2 L227.3 286.9 L227.7 286.6 L228.0 286.1 L228.4 285.3 L228.7 284.2 L229.0 282.4 L229.4 280.1 L229.7 277.2 L230.0 273.9 L230.4 270.7 L230.7 267.7 L231.0 265.4 L231.4 263.8 L231.7 263.0 L232.0 262.9 L232.4 263.1 L232.7 263.9 L233.0 265.6 L233.4 268.1 L233.7 271.4 L234.1 275.1 L234.4 278.7 L234.7 281.9 L235.1 284.5 L235.4 286.4 L235.7 287.6 L236.1 288.4 L236.4 288.8 L236.7 289.0 L237.1 289.0 L237.4 289.1 L237.7 289.1 L238.1 289.1 L238.4 289.1 L238.8 289.1 L239.1 289.1 L239.4 289.1 L239.8 289.1 L240.1 289.1 L240.4 289.1 L240.8 289.1 L241.1 289.1 L241.4 289.1 L241.8 289.1 L242.1 289.1 L242.4 289.1 L242.8 289.1 L243.1 289.1 L243.5 289.1 L243.8 289.1 L244.1 289.1 L244.5 289.1 L244.8 289.1 L245.1 289.1 L245.5 289.1 L245.8 289.1 L246.1 289.1 L246.5 289.1 L246.8 289.1 L247.1 289.1 L247.5 289.1 L247.8 289.1 L248.1 289.1 L248.5 289.1 L248.8 289.1 L249.2 289.1 L249.5 289.1 L249.8 289.1 L250.2 289.1 L250.5 289.1 L250.8 289.1 L251.2 289.1 L251.5 289.1 L251.8 289.1 L252.2 289.1 L252.5 289.1 L252.8 289.1 L253.2 289.1 L253.5 289.1 L253.9 289.1 L254.2 289.1 L254.5 289.1 L254.9 289.1 L255.2 289.1 L255.5 289.1 L255.9 289.1 L256.2 289.1 L256.2 289.1 Z" fill="#a4a4a4" stroke="#1a1a1a" stroke-width="0.95"/>
<path d="M220.3 289.1 L220.3 288.6 L220.6 288.4 L221.0 288.0 L221.3 287.4 L221.6 286.6 L222.0 285.5 L222.3 284.0 L222.6 282.0 L223.0 279.4 L223.3 276.3 L223.7 272.7 L224.0 268.6 L224.3 264.3 L224.7 260.1 L225.0 256.7 L225.3 255.1 L225.7 257.3 L226.0 260.9 L226.3 265.1 L226.7 269.4 L227.0 273.4 L227.3 277.0 L227.7 280.0 L228.0 282.4 L228.4 284.3 L228.7 285.7 L229.0 286.8 L229.4 287.6 L229.7 288.1 L230.0 288.4 L230.4 288.7 L230.7 288.8 L231.0 288.9 L231.4 289.0 L231.7 289.0 L232.0 289.1 L232.4 289.1 L232.7 289.1 L233.0 289.1 L233.4 289.1 L233.7 289.1 L234.1 289.1 L234.4 289.1 L234.7 289.1 L235.1 289.1 L235.4 289.1 L235.7 289.1 L236.1 289.1 L236.4 289.1 L236.7 289.1 L237.1 289.1 L237.4 289.1 L237.7 289.1 L238.1 289.1 L238.4 289.1 L238.8 289.1 L239.1 289.1 L239.4 289.1 L239.8 289.1 L240.1 289.1 L240.4 289.1 L240.8 289.1 L241.1 289.1 L241.4 289.1 L241.8 289.1 L242.1 289.1 L242.4 289.1 L242.8 289.1 L243.1 289.1 L243.5 289.1 L243.8 289.1 L244.1 289.1 L244.5 289.1 L244.8 289.1 L245.1 289.1 L245.5 289.1 L245.8 289.1 L246.1 289.1 L246.5 289.1 L246.8 289.1 L247.1 289.1 L247.5 289.1 L247.8 289.1 L248.1 289.1 L248.5 289.1 L248.8 289.1 L249.2 289.1 L249.5 289.1 L249.8 289.1 L250.2 289.1 L250.5 289.1 L250.8 289.1 L251.2 289.1 L251.5 289.1 L251.8 289.1 L252.2 289.1 L252.5 289.1 L252.8 289.1 L253.2 289.1 L253.5 289.1 L253.9 289.1 L254.2 289.1 L254.5 289.1 L254.9 289.1 L255.2 289.1 L255.5 289.1 L255.9 289.1 L256.2 289.1" fill="none" stroke="#111" stroke-width="1.05"/>
<rect x="220.30" y="253.30" width="35.90" height="35.80" fill="none" stroke="#333" stroke-width="1.0"/>
<line x1="220.30" y1="288.80" x2="256.20" y2="288.80" stroke="#0a0a0a" stroke-width="1.6"/>
<line x1="220.50" y1="253.30" x2="220.50" y2="289.10" stroke="#1a1a1a" stroke-width="1.4"/>
<line x1="218.90" y1="289.10" x2="220.30" y2="289.10" stroke="#333" stroke-width="0.6"/>
<line x1="218.90" y1="281.94" x2="220.30" y2="281.94" stroke="#333" stroke-width="0.6"/>
<line x1="218.90" y1="274.78" x2="220.30" y2="274.78" stroke="#333" stroke-width="0.6"/>
<line x1="218.90" y1="267.62" x2="220.30" y2="267.62" stroke="#333" stroke-width="0.6"/>
<line x1="218.90" y1="260.46" x2="220.30" y2="260.46" stroke="#333" stroke-width="0.6"/>
<line x1="218.90" y1="253.30" x2="220.30" y2="253.30" stroke="#333" stroke-width="0.6"/>
<text class="s" transform="translate(217.30 289.10) rotate(-90)" text-anchor="middle" font-size="4.5">0</text>
<text class="s" transform="translate(217.30 281.94) rotate(-90)" text-anchor="middle" font-size="4.5">10</text>
<text class="s" transform="translate(217.30 274.78) rotate(-90)" text-anchor="middle" font-size="4.5">20</text>
<text class="s" transform="translate(217.30 267.62) rotate(-90)" text-anchor="middle" font-size="4.5">30</text>
<text class="s" transform="translate(217.30 260.46) rotate(-90)" text-anchor="middle" font-size="4.5">40</text>
<text class="s" transform="translate(217.30 253.30) rotate(-90)" text-anchor="middle" font-size="4.5">50</text>
<text class="s" transform="translate(211.80 272.40) rotate(-90)" text-anchor="middle" font-size="4.5">Counts</text>
<text class="s" x="221.60" y="296.10" text-anchor="middle" font-size="4.5">10<tspan font-size="3.8" dy="-1.9">0</tspan></text>
<text class="s" x="256.50" y="296.10" text-anchor="middle" font-size="4.5">10<tspan font-size="3.8" dy="-1.9">4</tspan></text>
<text class="s" x="238.25" y="301.30" text-anchor="middle" font-size="4.5">FL2-Height</text>
<path d="M301.7 67.3 L301.7 67.3 L302.0 67.3 L302.4 67.3 L302.7 67.3 L303.0 67.3 L303.4 67.3 L303.7 67.3 L304.0 67.3 L304.4 67.3 L304.7 67.3 L305.0 67.3 L305.4 67.3 L305.7 67.3 L306.1 67.3 L306.4 67.3 L306.7 67.3 L307.1 67.3 L307.4 67.3 L307.7 67.3 L308.1 67.2 L308.4 67.2 L308.7 67.1 L309.1 67.0 L309.4 66.9 L309.7 66.7 L310.1 66.4 L310.4 66.0 L310.7 65.4 L311.1 64.6 L311.4 63.7 L311.7 62.4 L312.1 60.9 L312.4 59.1 L312.7 56.9 L313.1 54.4 L313.4 51.6 L313.8 48.6 L314.1 45.5 L314.4 42.3 L314.8 39.2 L315.1 36.3 L315.4 33.8 L315.8 31.8 L316.1 30.4 L316.4 29.7 L316.8 29.7 L317.1 30.5 L317.4 32.0 L317.8 34.2 L318.1 36.9 L318.4 39.9 L318.8 43.2 L319.1 46.5 L319.4 49.7 L319.8 52.8 L320.1 55.6 L320.4 58.0 L320.8 60.1 L321.1 61.8 L321.5 63.2 L321.8 64.3 L322.1 65.2 L322.5 65.8 L322.8 66.3 L323.1 66.6 L323.5 66.9 L323.8 67.0 L324.1 67.1 L324.5 67.2 L324.8 67.2 L325.1 67.3 L325.5 67.3 L325.8 67.3 L326.1 67.3 L326.5 67.3 L326.8 67.3 L327.1 67.3 L327.5 67.3 L327.8 67.3 L328.2 67.3 L328.5 67.3 L328.8 67.3 L329.2 67.3 L329.5 67.3 L329.8 67.3 L330.2 67.3 L330.5 67.3 L330.8 67.3 L331.2 67.3 L331.5 67.3 L331.8 67.3 L332.2 67.3 L332.5 67.3 L332.8 67.3 L333.2 67.3 L333.5 67.3 L333.8 67.3 L334.2 67.3 L334.5 67.3 L334.8 67.3 L335.2 67.3 L335.5 67.3 L335.9 67.3 L336.2 67.3 L336.5 67.3 L336.9 67.3 L337.2 67.3 L337.5 67.3 L337.9 67.3 L338.2 67.3 L338.5 67.3 L338.9 67.3 L339.2 67.3 L339.2 67.3 Z" fill="#a4a4a4" stroke="#1a1a1a" stroke-width="0.95"/>
<path d="M301.7 67.3 L301.7 66.7 L302.0 66.4 L302.4 65.8 L302.7 65.1 L303.0 64.0 L303.4 62.7 L303.7 60.9 L304.0 58.7 L304.4 56.1 L304.7 53.1 L305.0 49.8 L305.4 46.3 L305.7 42.7 L306.1 39.2 L306.4 36.0 L306.7 33.3 L307.1 31.2 L307.4 29.7 L307.7 28.9 L308.1 28.8 L308.4 29.2 L308.7 30.2 L309.1 31.9 L309.4 34.2 L309.7 37.2 L310.1 40.5 L310.4 44.0 L310.7 47.6 L311.1 51.0 L311.4 54.3 L311.7 57.1 L312.1 59.6 L312.4 61.6 L312.7 63.2 L313.1 64.5 L313.4 65.4 L313.8 66.0 L314.1 66.5 L314.4 66.8 L314.8 67.0 L315.1 67.1 L315.4 67.2 L315.8 67.2 L316.1 67.3 L316.4 67.3 L316.8 67.3 L317.1 67.3 L317.4 67.3 L317.8 67.3 L318.1 67.3 L318.4 67.3 L318.8 67.3 L319.1 67.3 L319.4 67.3 L319.8 67.3 L320.1 67.3 L320.4 67.3 L320.8 67.3 L321.1 67.3 L321.5 67.3 L321.8 67.3 L322.1 67.3 L322.5 67.3 L322.8 67.3 L323.1 67.3 L323.5 67.3 L323.8 67.3 L324.1 67.3 L324.5 67.3 L324.8 67.3 L325.1 67.3 L325.5 67.3 L325.8 67.3 L326.1 67.3 L326.5 67.3 L326.8 67.3 L327.1 67.3 L327.5 67.3 L327.8 67.3 L328.2 67.3 L328.5 67.3 L328.8 67.3 L329.2 67.3 L329.5 67.3 L329.8 67.3 L330.2 67.3 L330.5 67.3 L330.8 67.3 L331.2 67.3 L331.5 67.3 L331.8 67.3 L332.2 67.3 L332.5 67.3 L332.8 67.3 L333.2 67.3 L333.5 67.3 L333.8 67.3 L334.2 67.3 L334.5 67.3 L334.8 67.3 L335.2 67.3 L335.5 67.3 L335.9 67.3 L336.2 67.3 L336.5 67.3 L336.9 67.3 L337.2 67.3 L337.5 67.3 L337.9 67.3 L338.2 67.3 L338.5 67.3 L338.9 67.3 L339.2 67.3" fill="none" stroke="#111" stroke-width="1.05"/>
<rect x="301.70" y="28.00" width="37.50" height="39.30" fill="none" stroke="#333" stroke-width="1.0"/>
<line x1="301.70" y1="67.00" x2="339.20" y2="67.00" stroke="#0a0a0a" stroke-width="1.6"/>
<line x1="301.90" y1="28.00" x2="301.90" y2="67.30" stroke="#1a1a1a" stroke-width="1.4"/>
<line x1="300.30" y1="67.30" x2="301.70" y2="67.30" stroke="#333" stroke-width="0.6"/>
<line x1="300.30" y1="59.44" x2="301.70" y2="59.44" stroke="#333" stroke-width="0.6"/>
<line x1="300.30" y1="51.58" x2="301.70" y2="51.58" stroke="#333" stroke-width="0.6"/>
<line x1="300.30" y1="43.72" x2="301.70" y2="43.72" stroke="#333" stroke-width="0.6"/>
<line x1="300.30" y1="35.86" x2="301.70" y2="35.86" stroke="#333" stroke-width="0.6"/>
<line x1="300.30" y1="28.00" x2="301.70" y2="28.00" stroke="#333" stroke-width="0.6"/>
<text class="s" transform="translate(298.70 28.00) rotate(-90)" text-anchor="middle" font-size="4.5">250</text>
<text class="s" transform="translate(298.70 67.30) rotate(-90)" text-anchor="middle" font-size="4.5">0</text>
<text class="s" transform="translate(293.70 48.85) rotate(-90)" text-anchor="middle" font-size="4.5">Counts</text>
<text class="s" x="301.90" y="74.80" text-anchor="middle" font-size="4.5">10<tspan font-size="3.8" dy="-1.9">0</tspan></text>
<text class="s" x="311.27" y="74.80" text-anchor="middle" font-size="4.5">10<tspan font-size="3.8" dy="-1.9">1</tspan></text>
<text class="s" x="320.65" y="74.80" text-anchor="middle" font-size="4.5">10<tspan font-size="3.8" dy="-1.9">2</tspan></text>
<text class="s" x="330.02" y="74.80" text-anchor="middle" font-size="4.5">10<tspan font-size="3.8" dy="-1.9">3</tspan></text>
<text class="s" x="339.40" y="74.80" text-anchor="middle" font-size="4.5">10<tspan font-size="3.8" dy="-1.9">4</tspan></text>
<text class="s" x="320.45" y="79.60" text-anchor="middle" font-size="4.5">FL2-Height</text>
<path d="M359.7 66.3 L359.7 66.3 L360.0 66.3 L360.4 66.2 L360.7 66.2 L361.0 66.2 L361.4 66.1 L361.7 66.0 L362.0 65.9 L362.4 65.7 L362.7 65.4 L363.1 65.0 L363.4 64.5 L363.7 63.9 L364.1 63.0 L364.4 61.9 L364.7 60.5 L365.1 58.7 L365.4 56.6 L365.7 54.0 L366.1 51.1 L366.4 47.8 L366.7 44.3 L367.1 40.6 L367.4 37.1 L367.7 33.8 L368.1 31.4 L368.4 30.8 L368.7 31.4 L369.1 32.5 L369.4 33.8 L369.8 35.4 L370.1 37.0 L370.4 38.8 L370.8 40.6 L371.1 42.5 L371.4 44.3 L371.8 46.1 L372.1 47.8 L372.4 49.5 L372.8 51.1 L373.1 52.6 L373.4 54.0 L373.8 55.4 L374.1 56.6 L374.4 57.7 L374.8 58.7 L375.1 59.6 L375.4 60.5 L375.8 61.2 L376.1 61.9 L376.5 62.5 L376.8 63.0 L377.1 63.5 L377.5 63.9 L377.8 64.2 L378.1 64.5 L378.5 64.8 L378.8 65.0 L379.1 65.2 L379.5 65.4 L379.8 65.6 L380.1 65.7 L380.5 65.8 L380.8 65.9 L381.1 65.9 L381.5 66.0 L381.8 66.1 L382.1 66.1 L382.5 66.1 L382.8 66.2 L383.2 66.2 L383.5 66.2 L383.8 66.2 L384.2 66.2 L384.5 66.3 L384.8 66.3 L385.2 66.3 L385.5 66.3 L385.8 66.3 L386.2 66.3 L386.5 66.3 L386.8 66.3 L387.2 66.3 L387.5 66.3 L387.8 66.3 L388.2 66.3 L388.5 66.3 L388.8 66.3 L389.2 66.3 L389.5 66.3 L389.9 66.3 L390.2 66.3 L390.5 66.3 L390.9 66.3 L391.2 66.3 L391.5 66.3 L391.9 66.3 L392.2 66.3 L392.5 66.3 L392.9 66.3 L393.2 66.3 L393.5 66.3 L393.9 66.3 L394.2 66.3 L394.5 66.3 L394.9 66.3 L395.2 66.3 L395.5 66.3 L395.9 66.3 L396.2 66.3 L396.6 66.3 L396.9 66.3 L397.2 66.3 L397.6 66.3 L397.9 66.3 L398.2 66.3 L398.6 66.3 L398.9 66.3 L398.9 66.3 Z" fill="#a4a4a4" stroke="#1a1a1a" stroke-width="0.95"/>
<path d="M359.7 66.3 L359.7 66.3 L360.0 66.3 L360.4 66.3 L360.7 66.2 L361.0 66.1 L361.4 65.9 L361.7 65.5 L362.0 64.7 L362.4 63.3 L362.7 61.1 L363.1 58.0 L363.4 54.1 L363.7 49.4 L364.1 44.4 L364.4 39.6 L364.7 35.4 L365.1 32.2 L365.4 30.2 L365.7 29.3 L366.1 29.2 L366.4 29.8 L366.7 32.2 L367.1 36.3 L367.4 42.0 L367.7 48.3 L368.1 54.3 L368.4 59.1 L368.7 62.5 L369.1 64.5 L369.4 65.6 L369.8 66.0 L370.1 66.2 L370.4 66.3 L370.8 66.3 L371.1 66.3 L371.4 66.3 L371.8 66.3 L372.1 66.3 L372.4 66.3 L372.8 66.3 L373.1 66.3 L373.4 66.3 L373.8 66.3 L374.1 66.3 L374.4 66.3 L374.8 66.3 L375.1 66.3 L375.4 66.3 L375.8 66.3 L376.1 66.3 L376.5 66.3 L376.8 66.3 L377.1 66.3 L377.5 66.3 L377.8 66.3 L378.1 66.3 L378.5 66.3 L378.8 66.3 L379.1 66.3 L379.5 66.3 L379.8 66.3 L380.1 66.3 L380.5 66.3 L380.8 66.3 L381.1 66.3 L381.5 66.3 L381.8 66.3 L382.1 66.3 L382.5 66.3 L382.8 66.3 L383.2 66.3 L383.5 66.3 L383.8 66.3 L384.2 66.3 L384.5 66.3 L384.8 66.3 L385.2 66.3 L385.5 66.3 L385.8 66.3 L386.2 66.3 L386.5 66.3 L386.8 66.3 L387.2 66.3 L387.5 66.3 L387.8 66.3 L388.2 66.3 L388.5 66.3 L388.8 66.3 L389.2 66.3 L389.5 66.3 L389.9 66.3 L390.2 66.3 L390.5 66.3 L390.9 66.3 L391.2 66.3 L391.5 66.3 L391.9 66.3 L392.2 66.3 L392.5 66.3 L392.9 66.3 L393.2 66.3 L393.5 66.3 L393.9 66.3 L394.2 66.3 L394.5 66.3 L394.9 66.3 L395.2 66.3 L395.5 66.3 L395.9 66.3 L396.2 66.3 L396.6 66.3 L396.9 66.3 L397.2 66.3 L397.6 66.3 L397.9 66.3 L398.2 66.3 L398.6 66.3 L398.9 66.3" fill="none" stroke="#111" stroke-width="1.05"/>
<rect x="359.70" y="28.00" width="39.20" height="38.30" fill="none" stroke="#333" stroke-width="1.0"/>
<line x1="359.70" y1="66.00" x2="398.90" y2="66.00" stroke="#0a0a0a" stroke-width="1.6"/>
<line x1="359.90" y1="28.00" x2="359.90" y2="66.30" stroke="#1a1a1a" stroke-width="1.4"/>
<line x1="358.30" y1="66.30" x2="359.70" y2="66.30" stroke="#333" stroke-width="0.6"/>
<line x1="358.30" y1="58.64" x2="359.70" y2="58.64" stroke="#333" stroke-width="0.6"/>
<line x1="358.30" y1="50.98" x2="359.70" y2="50.98" stroke="#333" stroke-width="0.6"/>
<line x1="358.30" y1="43.32" x2="359.70" y2="43.32" stroke="#333" stroke-width="0.6"/>
<line x1="358.30" y1="35.66" x2="359.70" y2="35.66" stroke="#333" stroke-width="0.6"/>
<line x1="358.30" y1="28.00" x2="359.70" y2="28.00" stroke="#333" stroke-width="0.6"/>
<text class="s" transform="translate(356.70 28.00) rotate(-90)" text-anchor="middle" font-size="4.5">250</text>
<text class="s" transform="translate(356.70 66.30) rotate(-90)" text-anchor="middle" font-size="4.5">0</text>
<text class="s" transform="translate(351.70 48.35) rotate(-90)" text-anchor="middle" font-size="4.5">Counts</text>
<text class="s" x="359.90" y="73.80" text-anchor="middle" font-size="4.5">10<tspan font-size="3.8" dy="-1.9">0</tspan></text>
<text class="s" x="369.70" y="73.80" text-anchor="middle" font-size="4.5">10<tspan font-size="3.8" dy="-1.9">1</tspan></text>
<text class="s" x="379.50" y="73.80" text-anchor="middle" font-size="4.5">10<tspan font-size="3.8" dy="-1.9">2</tspan></text>
<text class="s" x="389.30" y="73.80" text-anchor="middle" font-size="4.5">10<tspan font-size="3.8" dy="-1.9">3</tspan></text>
<text class="s" x="399.10" y="73.80" text-anchor="middle" font-size="4.5">10<tspan font-size="3.8" dy="-1.9">4</tspan></text>
<text class="s" x="379.30" y="78.60" text-anchor="middle" font-size="4.5">FL2-Height</text>
<path d="M417.4 66.3 L417.4 66.3 L417.7 66.3 L418.1 66.3 L418.4 66.3 L418.7 66.3 L419.1 66.3 L419.4 66.3 L419.7 66.3 L420.1 66.3 L420.4 66.3 L420.7 66.3 L421.1 66.3 L421.4 66.3 L421.7 66.3 L422.1 66.3 L422.4 66.3 L422.7 66.3 L423.1 66.3 L423.4 66.3 L423.7 66.3 L424.1 66.3 L424.4 66.3 L424.7 66.3 L425.1 66.3 L425.4 66.3 L425.7 66.2 L426.1 66.2 L426.4 66.1 L426.7 66.0 L427.1 65.8 L427.4 65.6 L427.7 65.2 L428.1 64.7 L428.4 64.0 L428.7 63.1 L429.1 61.9 L429.4 60.3 L429.7 58.4 L430.1 56.1 L430.4 53.4 L430.7 50.5 L431.1 47.2 L431.4 43.9 L431.7 40.5 L432.1 37.3 L432.4 34.5 L432.7 32.2 L433.1 30.5 L433.4 29.7 L433.7 29.6 L434.1 30.4 L434.4 32.0 L434.7 34.2 L435.1 37.0 L435.4 40.1 L435.7 43.5 L436.1 46.9 L436.4 50.1 L436.8 53.1 L437.1 55.8 L437.4 58.1 L437.8 60.1 L438.1 61.7 L438.4 63.0 L438.8 63.9 L439.1 64.7 L439.4 65.2 L439.8 65.6 L440.1 65.8 L440.4 66.0 L440.8 66.1 L441.1 66.2 L441.4 66.2 L441.8 66.3 L442.1 66.3 L442.4 66.3 L442.8 66.3 L443.1 66.3 L443.4 66.3 L443.8 66.3 L444.1 66.3 L444.4 66.3 L444.8 66.3 L445.1 66.3 L445.4 66.3 L445.8 66.3 L446.1 66.3 L446.4 66.3 L446.8 66.3 L447.1 66.3 L447.4 66.3 L447.8 66.3 L448.1 66.3 L448.4 66.3 L448.8 66.3 L449.1 66.3 L449.4 66.3 L449.8 66.3 L450.1 66.3 L450.4 66.3 L450.8 66.3 L451.1 66.3 L451.4 66.3 L451.8 66.3 L452.1 66.3 L452.4 66.3 L452.8 66.3 L453.1 66.3 L453.4 66.3 L453.8 66.3 L454.1 66.3 L454.4 66.3 L454.8 66.3 L455.1 66.3 L455.4 66.3 L455.8 66.3 L456.1 66.3 L456.1 66.3 Z" fill="#a4a4a4" stroke="#1a1a1a" stroke-width="0.95"/>
<path d="M417.4 66.3 L417.4 66.0 L417.7 65.9 L418.1 65.6 L418.4 65.1 L418.7 64.5 L419.1 63.7 L419.4 62.5 L419.7 61.0 L420.1 59.1 L420.4 56.8 L420.7 54.1 L421.1 51.0 L421.4 47.7 L421.7 44.2 L422.1 40.7 L422.4 37.5 L422.7 34.6 L423.1 32.2 L423.4 30.4 L423.7 29.3 L424.1 28.8 L424.4 28.9 L424.7 29.5 L425.1 30.7 L425.4 32.7 L425.7 35.2 L426.1 38.2 L426.4 41.5 L426.7 45.0 L427.1 48.5 L427.4 51.7 L427.7 54.7 L428.1 57.4 L428.4 59.6 L428.7 61.4 L429.1 62.8 L429.4 63.9 L429.7 64.7 L430.1 65.3 L430.4 65.6 L430.7 65.9 L431.1 66.1 L431.4 66.2 L431.7 66.2 L432.1 66.3 L432.4 66.3 L432.7 66.3 L433.1 66.3 L433.4 66.3 L433.7 66.3 L434.1 66.3 L434.4 66.3 L434.7 66.3 L435.1 66.3 L435.4 66.3 L435.7 66.3 L436.1 66.3 L436.4 66.3 L436.8 66.3 L437.1 66.3 L437.4 66.3 L437.8 66.3 L438.1 66.3 L438.4 66.3 L438.8 66.3 L439.1 66.3 L439.4 66.3 L439.8 66.3 L440.1 66.3 L440.4 66.3 L440.8 66.3 L441.1 66.3 L441.4 66.3 L441.8 66.3 L442.1 66.3 L442.4 66.3 L442.8 66.3 L443.1 66.3 L443.4 66.3 L443.8 66.3 L444.1 66.3 L444.4 66.3 L444.8 66.3 L445.1 66.3 L445.4 66.3 L445.8 66.3 L446.1 66.3 L446.4 66.3 L446.8 66.3 L447.1 66.3 L447.4 66.3 L447.8 66.3 L448.1 66.3 L448.4 66.3 L448.8 66.3 L449.1 66.3 L449.4 66.3 L449.8 66.3 L450.1 66.3 L450.4 66.3 L450.8 66.3 L451.1 66.3 L451.4 66.3 L451.8 66.3 L452.1 66.3 L452.4 66.3 L452.8 66.3 L453.1 66.3 L453.4 66.3 L453.8 66.3 L454.1 66.3 L454.4 66.3 L454.8 66.3 L455.1 66.3 L455.4 66.3 L455.8 66.3 L456.1 66.3" fill="none" stroke="#111" stroke-width="1.05"/>
<rect x="417.40" y="28.00" width="38.70" height="38.30" fill="none" stroke="#333" stroke-width="1.0"/>
<line x1="417.40" y1="66.00" x2="456.10" y2="66.00" stroke="#0a0a0a" stroke-width="1.6"/>
<line x1="417.60" y1="28.00" x2="417.60" y2="66.30" stroke="#1a1a1a" stroke-width="1.4"/>
<line x1="416.00" y1="66.30" x2="417.40" y2="66.30" stroke="#333" stroke-width="0.6"/>
<line x1="416.00" y1="58.64" x2="417.40" y2="58.64" stroke="#333" stroke-width="0.6"/>
<line x1="416.00" y1="50.98" x2="417.40" y2="50.98" stroke="#333" stroke-width="0.6"/>
<line x1="416.00" y1="43.32" x2="417.40" y2="43.32" stroke="#333" stroke-width="0.6"/>
<line x1="416.00" y1="35.66" x2="417.40" y2="35.66" stroke="#333" stroke-width="0.6"/>
<line x1="416.00" y1="28.00" x2="417.40" y2="28.00" stroke="#333" stroke-width="0.6"/>
<text class="s" transform="translate(414.40 28.00) rotate(-90)" text-anchor="middle" font-size="4.5">250</text>
<text class="s" transform="translate(414.40 66.30) rotate(-90)" text-anchor="middle" font-size="4.5">0</text>
<text class="s" transform="translate(409.40 48.35) rotate(-90)" text-anchor="middle" font-size="4.5">Counts</text>
<text class="s" x="417.60" y="73.80" text-anchor="middle" font-size="4.5">10<tspan font-size="3.8" dy="-1.9">0</tspan></text>
<text class="s" x="427.27" y="73.80" text-anchor="middle" font-size="4.5">10<tspan font-size="3.8" dy="-1.9">1</tspan></text>
<text class="s" x="436.95" y="73.80" text-anchor="middle" font-size="4.5">10<tspan font-size="3.8" dy="-1.9">2</tspan></text>
<text class="s" x="446.62" y="73.80" text-anchor="middle" font-size="4.5">10<tspan font-size="3.8" dy="-1.9">3</tspan></text>
<text class="s" x="456.30" y="73.80" text-anchor="middle" font-size="4.5">10<tspan font-size="3.8" dy="-1.9">4</tspan></text>
<text class="s" x="436.75" y="78.60" text-anchor="middle" font-size="4.5">FL2-Height</text>
<path d="M474.4 65.8 L474.4 65.8 L474.7 65.8 L475.1 65.8 L475.4 65.8 L475.7 65.8 L476.1 65.8 L476.4 65.8 L476.7 65.8 L477.1 65.8 L477.4 65.8 L477.7 65.7 L478.1 65.7 L478.4 65.7 L478.7 65.7 L479.1 65.7 L479.4 65.6 L479.8 65.6 L480.1 65.6 L480.4 65.5 L480.8 65.5 L481.1 65.4 L481.4 65.3 L481.8 65.2 L482.1 65.1 L482.4 65.0 L482.8 64.9 L483.1 64.7 L483.4 64.5 L483.8 64.2 L484.1 64.0 L484.4 63.7 L484.8 63.3 L485.1 62.9 L485.4 62.5 L485.8 61.9 L486.1 61.4 L486.4 60.7 L486.8 60.0 L487.1 59.2 L487.4 58.3 L487.8 57.3 L488.1 56.3 L488.4 55.1 L488.8 53.9 L489.1 52.5 L489.5 51.1 L489.8 49.7 L490.1 48.1 L490.5 46.6 L490.8 45.0 L491.1 43.4 L491.5 41.9 L491.8 40.5 L492.1 39.2 L492.5 38.2 L492.8 37.6 L493.1 38.0 L493.5 38.7 L493.8 39.6 L494.1 40.6 L494.5 41.7 L494.8 42.9 L495.1 44.1 L495.5 45.3 L495.8 46.5 L496.1 47.8 L496.5 49.0 L496.8 50.1 L497.1 51.3 L497.5 52.4 L497.8 53.4 L498.1 54.4 L498.5 55.3 L498.8 56.2 L499.1 57.1 L499.5 57.8 L499.8 58.6 L500.2 59.2 L500.5 59.9 L500.8 60.5 L501.2 61.0 L501.5 61.5 L501.8 61.9 L502.2 62.3 L502.5 62.7 L502.8 63.0 L503.2 63.3 L503.5 63.6 L503.8 63.9 L504.2 64.1 L504.5 64.3 L504.8 64.5 L505.2 64.6 L505.5 64.8 L505.8 64.9 L506.2 65.0 L506.5 65.1 L506.8 65.2 L507.2 65.3 L507.5 65.3 L507.8 65.4 L508.2 65.5 L508.5 65.5 L508.8 65.5 L509.2 65.6 L509.5 65.6 L509.9 65.6 L510.2 65.7 L510.5 65.7 L510.9 65.7 L511.2 65.7 L511.5 65.7 L511.9 65.7 L512.2 65.7 L512.5 65.8 L512.9 65.8 L513.2 65.8 L513.5 65.8 L513.9 65.8 L514.2 65.8 L514.2 65.8 Z" fill="#a4a4a4" stroke="#1a1a1a" stroke-width="0.95"/>
<path d="M474.4 65.8 L474.4 65.7 L474.7 65.6 L475.1 65.4 L475.4 65.1 L475.7 64.8 L476.1 64.2 L476.4 63.4 L476.7 62.3 L477.1 60.9 L477.4 59.1 L477.7 56.9 L478.1 54.3 L478.4 51.3 L478.7 48.1 L479.1 44.7 L479.4 41.2 L479.8 38.0 L480.1 35.1 L480.4 32.6 L480.8 30.8 L481.1 29.6 L481.4 29.0 L481.8 29.0 L482.1 29.5 L482.4 30.7 L482.8 32.5 L483.1 34.9 L483.4 37.8 L483.8 41.1 L484.1 44.5 L484.4 47.9 L484.8 51.1 L485.1 54.1 L485.4 56.7 L485.8 59.0 L486.1 60.8 L486.4 62.3 L486.8 63.3 L487.1 64.2 L487.4 64.7 L487.8 65.1 L488.1 65.4 L488.4 65.6 L488.8 65.7 L489.1 65.7 L489.5 65.8 L489.8 65.8 L490.1 65.8 L490.5 65.8 L490.8 65.8 L491.1 65.8 L491.5 65.8 L491.8 65.8 L492.1 65.8 L492.5 65.8 L492.8 65.8 L493.1 65.8 L493.5 65.8 L493.8 65.8 L494.1 65.8 L494.5 65.8 L494.8 65.8 L495.1 65.8 L495.5 65.8 L495.8 65.8 L496.1 65.8 L496.5 65.8 L496.8 65.8 L497.1 65.8 L497.5 65.8 L497.8 65.8 L498.1 65.8 L498.5 65.8 L498.8 65.8 L499.1 65.8 L499.5 65.8 L499.8 65.8 L500.2 65.8 L500.5 65.8 L500.8 65.8 L501.2 65.8 L501.5 65.8 L501.8 65.8 L502.2 65.8 L502.5 65.8 L502.8 65.8 L503.2 65.8 L503.5 65.8 L503.8 65.8 L504.2 65.8 L504.5 65.8 L504.8 65.8 L505.2 65.8 L505.5 65.8 L505.8 65.8 L506.2 65.8 L506.5 65.8 L506.8 65.8 L507.2 65.8 L507.5 65.8 L507.8 65.8 L508.2 65.8 L508.5 65.8 L508.8 65.8 L509.2 65.8 L509.5 65.8 L509.9 65.8 L510.2 65.8 L510.5 65.8 L510.9 65.8 L511.2 65.8 L511.5 65.8 L511.9 65.8 L512.2 65.8 L512.5 65.8 L512.9 65.8 L513.2 65.8 L513.5 65.8 L513.9 65.8 L514.2 65.8" fill="none" stroke="#111" stroke-width="1.05"/>
<rect x="474.40" y="28.20" width="39.80" height="37.60" fill="none" stroke="#333" stroke-width="1.0"/>
<line x1="474.40" y1="65.50" x2="514.20" y2="65.50" stroke="#0a0a0a" stroke-width="1.6"/>
<line x1="474.60" y1="28.20" x2="474.60" y2="65.80" stroke="#1a1a1a" stroke-width="1.4"/>
<line x1="473.00" y1="65.80" x2="474.40" y2="65.80" stroke="#333" stroke-width="0.6"/>
<line x1="473.00" y1="58.28" x2="474.40" y2="58.28" stroke="#333" stroke-width="0.6"/>
<line x1="473.00" y1="50.76" x2="474.40" y2="50.76" stroke="#333" stroke-width="0.6"/>
<line x1="473.00" y1="43.24" x2="474.40" y2="43.24" stroke="#333" stroke-width="0.6"/>
<line x1="473.00" y1="35.72" x2="474.40" y2="35.72" stroke="#333" stroke-width="0.6"/>
<line x1="473.00" y1="28.20" x2="474.40" y2="28.20" stroke="#333" stroke-width="0.6"/>
<text class="s" transform="translate(471.40 28.20) rotate(-90)" text-anchor="middle" font-size="4.5">250</text>
<text class="s" transform="translate(471.40 65.80) rotate(-90)" text-anchor="middle" font-size="4.5">0</text>
<text class="s" transform="translate(466.40 48.20) rotate(-90)" text-anchor="middle" font-size="4.5">Counts</text>
<text class="s" x="474.60" y="73.30" text-anchor="middle" font-size="4.5">10<tspan font-size="3.8" dy="-1.9">0</tspan></text>
<text class="s" x="484.55" y="73.30" text-anchor="middle" font-size="4.5">10<tspan font-size="3.8" dy="-1.9">1</tspan></text>
<text class="s" x="494.50" y="73.30" text-anchor="middle" font-size="4.5">10<tspan font-size="3.8" dy="-1.9">2</tspan></text>
<text class="s" x="504.45" y="73.30" text-anchor="middle" font-size="4.5">10<tspan font-size="3.8" dy="-1.9">3</tspan></text>
<text class="s" x="514.40" y="73.30" text-anchor="middle" font-size="4.5">10<tspan font-size="3.8" dy="-1.9">4</tspan></text>
<text class="s" x="494.30" y="78.10" text-anchor="middle" font-size="4.5">FL2-Height</text>
<path d="M301.7 126.8 L301.7 126.8 L302.0 126.8 L302.4 126.8 L302.7 126.8 L303.0 126.8 L303.4 126.8 L303.7 126.8 L304.1 126.8 L304.4 126.8 L304.7 126.8 L305.1 126.8 L305.4 126.8 L305.7 126.8 L306.1 126.8 L306.4 126.8 L306.7 126.8 L307.1 126.8 L307.4 126.8 L307.7 126.8 L308.1 126.8 L308.4 126.8 L308.8 126.7 L309.1 126.6 L309.4 126.5 L309.8 126.2 L310.1 125.7 L310.4 125.0 L310.8 123.9 L311.1 122.3 L311.4 120.0 L311.8 117.2 L312.1 113.7 L312.5 109.7 L312.8 105.5 L313.1 101.4 L313.5 97.7 L313.8 95.0 L314.1 93.5 L314.5 93.3 L314.8 94.0 L315.1 95.4 L315.5 97.4 L315.8 99.9 L316.1 102.5 L316.5 105.1 L316.8 107.7 L317.2 110.0 L317.5 112.2 L317.8 114.2 L318.2 116.1 L318.5 117.9 L318.8 119.5 L319.2 121.0 L319.5 122.3 L319.8 123.5 L320.2 124.4 L320.5 125.2 L320.9 125.7 L321.2 126.1 L321.5 126.4 L321.9 126.6 L322.2 126.7 L322.5 126.7 L322.9 126.8 L323.2 126.8 L323.5 126.8 L323.9 126.8 L324.2 126.8 L324.5 126.8 L324.9 126.8 L325.2 126.8 L325.6 126.8 L325.9 126.8 L326.2 126.8 L326.6 126.8 L326.9 126.8 L327.2 126.8 L327.6 126.8 L327.9 126.8 L328.2 126.8 L328.6 126.8 L328.9 126.8 L329.2 126.8 L329.6 126.8 L329.9 126.8 L330.3 126.8 L330.6 126.8 L330.9 126.8 L331.3 126.8 L331.6 126.8 L331.9 126.8 L332.3 126.8 L332.6 126.8 L332.9 126.8 L333.3 126.8 L333.6 126.8 L334.0 126.8 L334.3 126.8 L334.6 126.8 L335.0 126.8 L335.3 126.8 L335.6 126.8 L336.0 126.8 L336.3 126.8 L336.6 126.8 L337.0 126.8 L337.3 126.8 L337.6 126.8 L338.0 126.8 L338.3 126.8 L338.7 126.8 L339.0 126.8 L339.3 126.8 L339.7 126.8 L340.0 126.8 L340.0 126.8 Z" fill="#a4a4a4" stroke="#1a1a1a" stroke-width="0.95"/>
<path d="M301.7 126.8 L301.7 126.8 L302.0 126.8 L302.4 126.8 L302.7 126.8 L303.0 126.8 L303.4 126.8 L303.7 126.8 L304.1 126.8 L304.4 126.8 L304.7 126.8 L305.1 126.8 L305.4 126.8 L305.7 126.8 L306.1 126.7 L306.4 126.7 L306.7 126.5 L307.1 126.2 L307.4 125.8 L307.7 125.0 L308.1 123.7 L308.4 121.9 L308.8 119.4 L309.1 116.2 L309.4 112.3 L309.8 108.0 L310.1 103.5 L310.4 99.2 L310.8 95.5 L311.1 92.7 L311.4 91.1 L311.8 90.5 L312.1 91.0 L312.5 92.7 L312.8 95.6 L313.1 99.6 L313.5 104.2 L313.8 109.0 L314.1 113.5 L314.5 117.4 L314.8 120.5 L315.1 122.8 L315.5 124.4 L315.8 125.5 L316.1 126.1 L316.5 126.5 L316.8 126.6 L317.2 126.7 L317.5 126.8 L317.8 126.8 L318.2 126.8 L318.5 126.8 L318.8 126.8 L319.2 126.8 L319.5 126.8 L319.8 126.8 L320.2 126.8 L320.5 126.8 L320.9 126.8 L321.2 126.8 L321.5 126.8 L321.9 126.8 L322.2 126.8 L322.5 126.8 L322.9 126.8 L323.2 126.8 L323.5 126.8 L323.9 126.8 L324.2 126.8 L324.5 126.8 L324.9 126.8 L325.2 126.8 L325.6 126.8 L325.9 126.8 L326.2 126.8 L326.6 126.8 L326.9 126.8 L327.2 126.8 L327.6 126.8 L327.9 126.8 L328.2 126.8 L328.6 126.8 L328.9 126.8 L329.2 126.8 L329.6 126.8 L329.9 126.8 L330.3 126.8 L330.6 126.8 L330.9 126.8 L331.3 126.8 L331.6 126.8 L331.9 126.8 L332.3 126.8 L332.6 126.8 L332.9 126.8 L333.3 126.8 L333.6 126.8 L334.0 126.8 L334.3 126.8 L334.6 126.8 L335.0 126.8 L335.3 126.8 L335.6 126.8 L336.0 126.8 L336.3 126.8 L336.6 126.8 L337.0 126.8 L337.3 126.8 L337.6 126.8 L338.0 126.8 L338.3 126.8 L338.7 126.8 L339.0 126.8 L339.3 126.8 L339.7 126.8 L340.0 126.8" fill="none" stroke="#111" stroke-width="1.05"/>
<rect x="301.70" y="89.80" width="38.30" height="37.00" fill="none" stroke="#333" stroke-width="1.0"/>
<line x1="301.70" y1="126.50" x2="340.00" y2="126.50" stroke="#0a0a0a" stroke-width="1.6"/>
<line x1="301.90" y1="89.80" x2="301.90" y2="126.80" stroke="#1a1a1a" stroke-width="1.4"/>
<line x1="300.30" y1="126.80" x2="301.70" y2="126.80" stroke="#333" stroke-width="0.6"/>
<line x1="300.30" y1="119.40" x2="301.70" y2="119.40" stroke="#333" stroke-width="0.6"/>
<line x1="300.30" y1="112.00" x2="301.70" y2="112.00" stroke="#333" stroke-width="0.6"/>
<line x1="300.30" y1="104.60" x2="301.70" y2="104.60" stroke="#333" stroke-width="0.6"/>
<line x1="300.30" y1="97.20" x2="301.70" y2="97.20" stroke="#333" stroke-width="0.6"/>
<line x1="300.30" y1="89.80" x2="301.70" y2="89.80" stroke="#333" stroke-width="0.6"/>
<text class="s" transform="translate(298.70 89.80) rotate(-90)" text-anchor="middle" font-size="4.5">250</text>
<text class="s" transform="translate(298.70 126.80) rotate(-90)" text-anchor="middle" font-size="4.5">0</text>
<text class="s" transform="translate(293.70 109.50) rotate(-90)" text-anchor="middle" font-size="4.5">Counts</text>
<text class="s" x="301.90" y="134.30" text-anchor="middle" font-size="4.5">10<tspan font-size="3.8" dy="-1.9">0</tspan></text>
<text class="s" x="311.47" y="134.30" text-anchor="middle" font-size="4.5">10<tspan font-size="3.8" dy="-1.9">1</tspan></text>
<text class="s" x="321.05" y="134.30" text-anchor="middle" font-size="4.5">10<tspan font-size="3.8" dy="-1.9">2</tspan></text>
<text class="s" x="330.62" y="134.30" text-anchor="middle" font-size="4.5">10<tspan font-size="3.8" dy="-1.9">3</tspan></text>
<text class="s" x="340.20" y="134.30" text-anchor="middle" font-size="4.5">10<tspan font-size="3.8" dy="-1.9">4</tspan></text>
<text class="s" x="320.85" y="139.10" text-anchor="middle" font-size="4.5">FL2-Height</text>
<path d="M359.3 126.6 L359.3 126.6 L359.6 126.6 L360.0 126.6 L360.3 126.6 L360.6 126.6 L361.0 126.6 L361.3 126.6 L361.6 126.6 L362.0 126.6 L362.3 126.6 L362.7 126.6 L363.0 126.6 L363.3 126.6 L363.7 126.6 L364.0 126.6 L364.3 126.6 L364.7 126.6 L365.0 126.6 L365.3 126.6 L365.7 126.6 L366.0 126.6 L366.3 126.6 L366.7 126.6 L367.0 126.6 L367.3 126.6 L367.7 126.6 L368.0 126.6 L368.4 126.6 L368.7 126.6 L369.0 126.5 L369.4 126.4 L369.7 126.3 L370.0 126.2 L370.4 125.9 L370.7 125.6 L371.0 125.0 L371.4 124.3 L371.7 123.3 L372.0 122.0 L372.4 120.4 L372.7 118.4 L373.0 116.2 L373.4 113.7 L373.7 111.0 L374.1 108.3 L374.4 105.7 L374.7 103.4 L375.1 101.5 L375.4 100.3 L375.7 99.8 L376.1 100.0 L376.4 100.9 L376.7 102.5 L377.1 104.6 L377.4 107.1 L377.7 109.8 L378.1 112.5 L378.4 115.1 L378.7 117.5 L379.1 119.6 L379.4 121.4 L379.8 122.8 L380.1 123.9 L380.4 124.7 L380.8 125.4 L381.1 125.8 L381.4 126.1 L381.8 126.3 L382.1 126.4 L382.4 126.5 L382.8 126.5 L383.1 126.6 L383.4 126.6 L383.8 126.6 L384.1 126.6 L384.4 126.6 L384.8 126.6 L385.1 126.6 L385.5 126.6 L385.8 126.6 L386.1 126.6 L386.5 126.6 L386.8 126.6 L387.1 126.6 L387.5 126.6 L387.8 126.6 L388.1 126.6 L388.5 126.6 L388.8 126.6 L389.1 126.6 L389.5 126.6 L389.8 126.6 L390.1 126.6 L390.5 126.6 L390.8 126.6 L391.2 126.6 L391.5 126.6 L391.8 126.6 L392.2 126.6 L392.5 126.6 L392.8 126.6 L393.2 126.6 L393.5 126.6 L393.8 126.6 L394.2 126.6 L394.5 126.6 L394.8 126.6 L395.2 126.6 L395.5 126.6 L395.8 126.6 L396.2 126.6 L396.5 126.6 L396.9 126.6 L397.2 126.6 L397.5 126.6 L397.9 126.6 L398.2 126.6 L398.5 126.6 L398.9 126.6 L399.2 126.6 L399.2 126.6 Z" fill="#a4a4a4" stroke="#1a1a1a" stroke-width="0.95"/>
<path d="M359.3 126.6 L359.3 126.6 L359.6 126.6 L360.0 126.6 L360.3 126.6 L360.6 126.6 L361.0 126.6 L361.3 126.6 L361.6 126.6 L362.0 126.6 L362.3 126.6 L362.7 126.6 L363.0 126.6 L363.3 126.6 L363.7 126.6 L364.0 126.6 L364.3 126.6 L364.7 126.5 L365.0 126.4 L365.3 126.1 L365.7 125.5 L366.0 124.5 L366.3 122.9 L366.7 120.5 L367.0 117.0 L367.3 112.6 L367.7 107.4 L368.0 102.0 L368.4 97.1 L368.7 93.5 L369.0 91.8 L369.4 92.4 L369.7 95.2 L370.0 99.6 L370.4 104.9 L370.7 110.3 L371.0 115.1 L371.4 119.0 L371.7 121.9 L372.0 123.9 L372.4 125.1 L372.7 125.9 L373.0 126.3 L373.4 126.4 L373.7 126.5 L374.1 126.6 L374.4 126.6 L374.7 126.6 L375.1 126.6 L375.4 126.6 L375.7 126.6 L376.1 126.6 L376.4 126.6 L376.7 126.6 L377.1 126.6 L377.4 126.6 L377.7 126.6 L378.1 126.6 L378.4 126.6 L378.7 126.6 L379.1 126.6 L379.4 126.6 L379.8 126.6 L380.1 126.6 L380.4 126.6 L380.8 126.6 L381.1 126.6 L381.4 126.6 L381.8 126.6 L382.1 126.6 L382.4 126.6 L382.8 126.6 L383.1 126.6 L383.4 126.6 L383.8 126.6 L384.1 126.6 L384.4 126.6 L384.8 126.6 L385.1 126.6 L385.5 126.6 L385.8 126.6 L386.1 126.6 L386.5 126.6 L386.8 126.6 L387.1 126.6 L387.5 126.6 L387.8 126.6 L388.1 126.6 L388.5 126.6 L388.8 126.6 L389.1 126.6 L389.5 126.6 L389.8 126.6 L390.1 126.6 L390.5 126.6 L390.8 126.6 L391.2 126.6 L391.5 126.6 L391.8 126.6 L392.2 126.6 L392.5 126.6 L392.8 126.6 L393.2 126.6 L393.5 126.6 L393.8 126.6 L394.2 126.6 L394.5 126.6 L394.8 126.6 L395.2 126.6 L395.5 126.6 L395.8 126.6 L396.2 126.6 L396.5 126.6 L396.9 126.6 L397.2 126.6 L397.5 126.6 L397.9 126.6 L398.2 126.6 L398.5 126.6 L398.9 126.6 L399.2 126.6" fill="none" stroke="#111" stroke-width="1.05"/>
<rect x="359.30" y="90.30" width="39.90" height="36.30" fill="none" stroke="#333" stroke-width="1.0"/>
<line x1="359.30" y1="126.30" x2="399.20" y2="126.30" stroke="#0a0a0a" stroke-width="1.6"/>
<line x1="359.50" y1="90.30" x2="359.50" y2="126.60" stroke="#1a1a1a" stroke-width="1.4"/>
<line x1="357.90" y1="126.60" x2="359.30" y2="126.60" stroke="#333" stroke-width="0.6"/>
<line x1="357.90" y1="119.34" x2="359.30" y2="119.34" stroke="#333" stroke-width="0.6"/>
<line x1="357.90" y1="112.08" x2="359.30" y2="112.08" stroke="#333" stroke-width="0.6"/>
<line x1="357.90" y1="104.82" x2="359.30" y2="104.82" stroke="#333" stroke-width="0.6"/>
<line x1="357.90" y1="97.56" x2="359.30" y2="97.56" stroke="#333" stroke-width="0.6"/>
<line x1="357.90" y1="90.30" x2="359.30" y2="90.30" stroke="#333" stroke-width="0.6"/>
<text class="s" transform="translate(356.30 90.30) rotate(-90)" text-anchor="middle" font-size="4.5">250</text>
<text class="s" transform="translate(356.30 126.60) rotate(-90)" text-anchor="middle" font-size="4.5">0</text>
<text class="s" transform="translate(351.30 109.65) rotate(-90)" text-anchor="middle" font-size="4.5">Counts</text>
<text class="s" x="359.50" y="134.10" text-anchor="middle" font-size="4.5">10<tspan font-size="3.8" dy="-1.9">0</tspan></text>
<text class="s" x="369.47" y="134.10" text-anchor="middle" font-size="4.5">10<tspan font-size="3.8" dy="-1.9">1</tspan></text>
<text class="s" x="379.45" y="134.10" text-anchor="middle" font-size="4.5">10<tspan font-size="3.8" dy="-1.9">2</tspan></text>
<text class="s" x="389.43" y="134.10" text-anchor="middle" font-size="4.5">10<tspan font-size="3.8" dy="-1.9">3</tspan></text>
<text class="s" x="399.40" y="134.10" text-anchor="middle" font-size="4.5">10<tspan font-size="3.8" dy="-1.9">4</tspan></text>
<text class="s" x="379.25" y="138.90" text-anchor="middle" font-size="4.5">FL2-Height</text>
<path d="M418.3 126.6 L418.3 126.6 L418.6 126.6 L419.0 126.6 L419.3 126.6 L419.6 126.6 L420.0 126.6 L420.3 126.6 L420.6 126.6 L421.0 126.6 L421.3 126.6 L421.6 126.6 L422.0 126.6 L422.3 126.6 L422.6 126.6 L423.0 126.6 L423.3 126.6 L423.6 126.6 L424.0 126.6 L424.3 126.6 L424.7 126.6 L425.0 126.6 L425.3 126.6 L425.7 126.6 L426.0 126.5 L426.3 126.4 L426.7 126.2 L427.0 125.8 L427.3 125.2 L427.7 124.1 L428.0 122.4 L428.3 120.0 L428.7 116.8 L429.0 112.8 L429.3 108.4 L429.7 103.9 L430.0 99.8 L430.3 96.7 L430.7 95.2 L431.0 95.2 L431.3 96.1 L431.7 97.9 L432.0 100.2 L432.3 103.1 L432.7 106.2 L433.0 109.4 L433.3 112.5 L433.7 115.4 L434.0 117.9 L434.3 120.0 L434.7 121.8 L435.0 123.2 L435.3 124.2 L435.7 125.0 L436.0 125.5 L436.3 125.9 L436.7 126.2 L437.0 126.3 L437.4 126.5 L437.7 126.5 L438.0 126.6 L438.4 126.6 L438.7 126.6 L439.0 126.6 L439.4 126.6 L439.7 126.6 L440.0 126.6 L440.4 126.6 L440.7 126.6 L441.0 126.6 L441.4 126.6 L441.7 126.6 L442.0 126.6 L442.4 126.6 L442.7 126.6 L443.0 126.6 L443.4 126.6 L443.7 126.6 L444.0 126.6 L444.4 126.6 L444.7 126.6 L445.0 126.6 L445.4 126.6 L445.7 126.6 L446.0 126.6 L446.4 126.6 L446.7 126.6 L447.0 126.6 L447.4 126.6 L447.7 126.6 L448.0 126.6 L448.4 126.6 L448.7 126.6 L449.0 126.6 L449.4 126.6 L449.7 126.6 L450.0 126.6 L450.4 126.6 L450.7 126.6 L451.1 126.6 L451.4 126.6 L451.7 126.6 L452.1 126.6 L452.4 126.6 L452.7 126.6 L453.1 126.6 L453.4 126.6 L453.7 126.6 L454.1 126.6 L454.4 126.6 L454.7 126.6 L455.1 126.6 L455.4 126.6 L455.7 126.6 L456.1 126.6 L456.4 126.6 L456.4 126.6 Z" fill="#a4a4a4" stroke="#1a1a1a" stroke-width="0.95"/>
<path d="M418.3 126.6 L418.3 126.6 L418.6 126.6 L419.0 126.6 L419.3 126.6 L419.6 126.6 L420.0 126.6 L420.3 126.6 L420.6 126.6 L421.0 126.6 L421.3 126.6 L421.6 126.6 L422.0 126.6 L422.3 126.6 L422.6 126.6 L423.0 126.6 L423.3 126.5 L423.6 126.4 L424.0 126.2 L424.3 125.7 L424.7 124.8 L425.0 123.1 L425.3 120.5 L425.7 116.7 L426.0 111.9 L426.3 106.4 L426.7 100.8 L427.0 96.0 L427.3 92.6 L427.7 91.1 L428.0 91.3 L428.3 93.8 L428.7 98.6 L429.0 104.9 L429.3 111.4 L429.7 117.1 L430.0 121.2 L430.3 123.9 L430.7 125.4 L431.0 126.1 L431.3 126.4 L431.7 126.5 L432.0 126.6 L432.3 126.6 L432.7 126.6 L433.0 126.6 L433.3 126.6 L433.7 126.6 L434.0 126.6 L434.3 126.6 L434.7 126.6 L435.0 126.6 L435.3 126.6 L435.7 126.6 L436.0 126.6 L436.3 126.6 L436.7 126.6 L437.0 126.6 L437.4 126.6 L437.7 126.6 L438.0 126.6 L438.4 126.6 L438.7 126.6 L439.0 126.6 L439.4 126.6 L439.7 126.6 L440.0 126.6 L440.4 126.6 L440.7 126.6 L441.0 126.6 L441.4 126.6 L441.7 126.6 L442.0 126.6 L442.4 126.6 L442.7 126.6 L443.0 126.6 L443.4 126.6 L443.7 126.6 L444.0 126.6 L444.4 126.6 L444.7 126.6 L445.0 126.6 L445.4 126.6 L445.7 126.6 L446.0 126.6 L446.4 126.6 L446.7 126.6 L447.0 126.6 L447.4 126.6 L447.7 126.6 L448.0 126.6 L448.4 126.6 L448.7 126.6 L449.0 126.6 L449.4 126.6 L449.7 126.6 L450.0 126.6 L450.4 126.6 L450.7 126.6 L451.1 126.6 L451.4 126.6 L451.7 126.6 L452.1 126.6 L452.4 126.6 L452.7 126.6 L453.1 126.6 L453.4 126.6 L453.7 126.6 L454.1 126.6 L454.4 126.6 L454.7 126.6 L455.1 126.6 L455.4 126.6 L455.7 126.6 L456.1 126.6 L456.4 126.6" fill="none" stroke="#111" stroke-width="1.05"/>
<rect x="418.30" y="90.30" width="38.10" height="36.30" fill="none" stroke="#333" stroke-width="1.0"/>
<line x1="418.30" y1="126.30" x2="456.40" y2="126.30" stroke="#0a0a0a" stroke-width="1.6"/>
<line x1="418.50" y1="90.30" x2="418.50" y2="126.60" stroke="#1a1a1a" stroke-width="1.4"/>
<line x1="416.90" y1="126.60" x2="418.30" y2="126.60" stroke="#333" stroke-width="0.6"/>
<line x1="416.90" y1="119.34" x2="418.30" y2="119.34" stroke="#333" stroke-width="0.6"/>
<line x1="416.90" y1="112.08" x2="418.30" y2="112.08" stroke="#333" stroke-width="0.6"/>
<line x1="416.90" y1="104.82" x2="418.30" y2="104.82" stroke="#333" stroke-width="0.6"/>
<line x1="416.90" y1="97.56" x2="418.30" y2="97.56" stroke="#333" stroke-width="0.6"/>
<line x1="416.90" y1="90.30" x2="418.30" y2="90.30" stroke="#333" stroke-width="0.6"/>
<text class="s" transform="translate(415.30 90.30) rotate(-90)" text-anchor="middle" font-size="4.5">250</text>
<text class="s" transform="translate(415.30 126.60) rotate(-90)" text-anchor="middle" font-size="4.5">0</text>
<text class="s" transform="translate(410.30 109.65) rotate(-90)" text-anchor="middle" font-size="4.5">Counts</text>
<text class="s" x="418.50" y="134.10" text-anchor="middle" font-size="4.5">10<tspan font-size="3.8" dy="-1.9">0</tspan></text>
<text class="s" x="428.02" y="134.10" text-anchor="middle" font-size="4.5">10<tspan font-size="3.8" dy="-1.9">1</tspan></text>
<text class="s" x="437.55" y="134.10" text-anchor="middle" font-size="4.5">10<tspan font-size="3.8" dy="-1.9">2</tspan></text>
<text class="s" x="447.07" y="134.10" text-anchor="middle" font-size="4.5">10<tspan font-size="3.8" dy="-1.9">3</tspan></text>
<text class="s" x="456.60" y="134.10" text-anchor="middle" font-size="4.5">10<tspan font-size="3.8" dy="-1.9">4</tspan></text>
<text class="s" x="437.35" y="138.90" text-anchor="middle" font-size="4.5">FL2-Height</text>
<path d="M474.0 126.6 L474.0 126.6 L474.3 126.6 L474.7 126.6 L475.0 126.6 L475.3 126.6 L475.7 126.6 L476.0 126.6 L476.3 126.6 L476.7 126.6 L477.0 126.6 L477.3 126.6 L477.7 126.6 L478.0 126.6 L478.4 126.6 L478.7 126.6 L479.0 126.6 L479.4 126.6 L479.7 126.6 L480.0 126.6 L480.4 126.6 L480.7 126.6 L481.0 126.6 L481.4 126.5 L481.7 126.5 L482.0 126.5 L482.4 126.5 L482.7 126.4 L483.0 126.4 L483.4 126.3 L483.7 126.2 L484.0 126.1 L484.4 126.0 L484.7 125.9 L485.0 125.7 L485.4 125.4 L485.7 125.2 L486.0 124.8 L486.4 124.5 L486.7 124.0 L487.1 123.5 L487.4 122.9 L487.7 122.3 L488.1 121.5 L488.4 120.7 L488.7 119.9 L489.1 118.9 L489.4 118.0 L489.7 117.0 L490.1 115.9 L490.4 114.9 L490.7 114.0 L491.1 113.1 L491.4 112.3 L491.7 111.8 L492.1 111.4 L492.4 111.4 L492.7 111.5 L493.1 111.7 L493.4 112.0 L493.7 112.3 L494.1 112.7 L494.4 113.0 L494.8 113.5 L495.1 113.9 L495.4 114.4 L495.8 114.9 L496.1 115.4 L496.4 115.9 L496.8 116.4 L497.1 116.9 L497.4 117.4 L497.8 117.9 L498.1 118.4 L498.4 118.9 L498.8 119.4 L499.1 119.8 L499.4 120.3 L499.8 120.7 L500.1 121.1 L500.4 121.5 L500.8 121.9 L501.1 122.2 L501.4 122.6 L501.8 122.9 L502.1 123.2 L502.5 123.5 L502.8 123.7 L503.1 124.0 L503.5 124.2 L503.8 124.4 L504.1 124.6 L504.5 124.8 L504.8 125.0 L505.1 125.1 L505.5 125.3 L505.8 125.4 L506.1 125.5 L506.5 125.7 L506.8 125.8 L507.1 125.8 L507.5 125.9 L507.8 126.0 L508.1 126.1 L508.5 126.1 L508.8 126.2 L509.1 126.2 L509.5 126.3 L509.8 126.3 L510.1 126.3 L510.5 126.4 L510.8 126.4 L511.2 126.4 L511.5 126.5 L511.8 126.5 L512.2 126.5 L512.5 126.5 L512.8 126.5 L513.2 126.5 L513.5 126.5 L513.8 126.5 L514.2 126.6 L514.5 126.6 L514.5 126.6 Z" fill="#a4a4a4" stroke="#1a1a1a" stroke-width="0.95"/>
<path d="M474.0 126.6 L474.0 126.6 L474.3 126.6 L474.7 126.6 L475.0 126.6 L475.3 126.6 L475.7 126.6 L476.0 126.6 L476.3 126.6 L476.7 126.6 L477.0 126.6 L477.3 126.6 L477.7 126.6 L478.0 126.6 L478.4 126.6 L478.7 126.6 L479.0 126.6 L479.4 126.6 L479.7 126.6 L480.0 126.5 L480.4 126.4 L480.7 126.2 L481.0 125.8 L481.4 125.1 L481.7 124.0 L482.0 122.2 L482.4 119.6 L482.7 116.1 L483.0 111.8 L483.4 106.8 L483.7 101.7 L484.0 96.9 L484.4 93.1 L484.7 91.0 L485.0 90.8 L485.4 92.8 L485.7 96.7 L486.0 101.8 L486.4 107.2 L486.7 112.2 L487.1 116.5 L487.4 119.7 L487.7 121.9 L488.1 123.3 L488.4 124.1 L488.7 124.5 L489.1 124.7 L489.4 124.7 L489.7 124.8 L490.1 124.8 L490.4 124.8 L490.7 124.8 L491.1 124.8 L491.4 124.9 L491.7 124.9 L492.1 125.0 L492.4 125.1 L492.7 125.2 L493.1 125.3 L493.4 125.3 L493.7 125.4 L494.1 125.5 L494.4 125.6 L494.8 125.7 L495.1 125.8 L495.4 125.9 L495.8 126.0 L496.1 126.0 L496.4 126.1 L496.8 126.2 L497.1 126.2 L497.4 126.3 L497.8 126.3 L498.1 126.4 L498.4 126.4 L498.8 126.4 L499.1 126.5 L499.4 126.5 L499.8 126.5 L500.1 126.5 L500.4 126.5 L500.8 126.6 L501.1 126.6 L501.4 126.6 L501.8 126.6 L502.1 126.6 L502.5 126.6 L502.8 126.6 L503.1 126.6 L503.5 126.6 L503.8 126.6 L504.1 126.6 L504.5 126.6 L504.8 126.6 L505.1 126.6 L505.5 126.6 L505.8 126.6 L506.1 126.6 L506.5 126.6 L506.8 126.6 L507.1 126.6 L507.5 126.6 L507.8 126.6 L508.1 126.6 L508.5 126.6 L508.8 126.6 L509.1 126.6 L509.5 126.6 L509.8 126.6 L510.1 126.6 L510.5 126.6 L510.8 126.6 L511.2 126.6 L511.5 126.6 L511.8 126.6 L512.2 126.6 L512.5 126.6 L512.8 126.6 L513.2 126.6 L513.5 126.6 L513.8 126.6 L514.2 126.6 L514.5 126.6" fill="none" stroke="#111" stroke-width="1.05"/>
<rect x="474.00" y="90.30" width="40.50" height="36.30" fill="none" stroke="#333" stroke-width="1.0"/>
<line x1="474.00" y1="126.30" x2="514.50" y2="126.30" stroke="#0a0a0a" stroke-width="1.6"/>
<line x1="474.20" y1="90.30" x2="474.20" y2="126.60" stroke="#1a1a1a" stroke-width="1.4"/>
<line x1="472.60" y1="126.60" x2="474.00" y2="126.60" stroke="#333" stroke-width="0.6"/>
<line x1="472.60" y1="119.34" x2="474.00" y2="119.34" stroke="#333" stroke-width="0.6"/>
<line x1="472.60" y1="112.08" x2="474.00" y2="112.08" stroke="#333" stroke-width="0.6"/>
<line x1="472.60" y1="104.82" x2="474.00" y2="104.82" stroke="#333" stroke-width="0.6"/>
<line x1="472.60" y1="97.56" x2="474.00" y2="97.56" stroke="#333" stroke-width="0.6"/>
<line x1="472.60" y1="90.30" x2="474.00" y2="90.30" stroke="#333" stroke-width="0.6"/>
<text class="s" transform="translate(471.00 90.30) rotate(-90)" text-anchor="middle" font-size="4.5">250</text>
<text class="s" transform="translate(471.00 126.60) rotate(-90)" text-anchor="middle" font-size="4.5">0</text>
<text class="s" transform="translate(466.00 109.65) rotate(-90)" text-anchor="middle" font-size="4.5">Counts</text>
<text class="s" x="474.20" y="134.10" text-anchor="middle" font-size="4.5">10<tspan font-size="3.8" dy="-1.9">0</tspan></text>
<text class="s" x="484.32" y="134.10" text-anchor="middle" font-size="4.5">10<tspan font-size="3.8" dy="-1.9">1</tspan></text>
<text class="s" x="494.45" y="134.10" text-anchor="middle" font-size="4.5">10<tspan font-size="3.8" dy="-1.9">2</tspan></text>
<text class="s" x="504.57" y="134.10" text-anchor="middle" font-size="4.5">10<tspan font-size="3.8" dy="-1.9">3</tspan></text>
<text class="s" x="514.70" y="134.10" text-anchor="middle" font-size="4.5">10<tspan font-size="3.8" dy="-1.9">4</tspan></text>
<text class="s" x="494.25" y="138.90" text-anchor="middle" font-size="4.5">FL2-Height</text>
<path d="M302.2 188.0 L302.2 188.0 L302.5 188.0 L302.9 188.0 L303.2 188.0 L303.5 188.0 L303.9 188.0 L304.2 188.0 L304.6 188.0 L304.9 188.0 L305.2 188.0 L305.6 188.0 L305.9 188.0 L306.2 188.0 L306.6 188.0 L306.9 188.0 L307.2 188.0 L307.6 188.0 L307.9 188.0 L308.2 188.0 L308.6 187.9 L308.9 187.9 L309.2 187.8 L309.6 187.6 L309.9 187.2 L310.3 186.7 L310.6 185.9 L310.9 184.8 L311.3 183.4 L311.6 181.5 L311.9 179.3 L312.3 176.9 L312.6 174.4 L312.9 172.0 L313.3 170.0 L313.6 168.7 L313.9 168.1 L314.3 168.3 L314.6 169.3 L315.0 170.7 L315.3 172.6 L315.6 174.8 L316.0 177.0 L316.3 179.2 L316.6 181.2 L317.0 182.9 L317.3 184.3 L317.6 185.4 L318.0 186.3 L318.3 186.9 L318.6 187.3 L319.0 187.6 L319.3 187.7 L319.7 187.9 L320.0 187.9 L320.3 188.0 L320.7 188.0 L321.0 188.0 L321.3 188.0 L321.7 188.0 L322.0 188.0 L322.3 188.0 L322.7 188.0 L323.0 188.0 L323.4 188.0 L323.7 188.0 L324.0 188.0 L324.4 188.0 L324.7 188.0 L325.0 188.0 L325.4 188.0 L325.7 188.0 L326.0 188.0 L326.4 188.0 L326.7 188.0 L327.0 188.0 L327.4 188.0 L327.7 188.0 L328.1 188.0 L328.4 188.0 L328.7 188.0 L329.1 188.0 L329.4 188.0 L329.7 188.0 L330.1 188.0 L330.4 188.0 L330.7 188.0 L331.1 188.0 L331.4 188.0 L331.7 188.0 L332.1 188.0 L332.4 188.0 L332.8 188.0 L333.1 188.0 L333.4 188.0 L333.8 188.0 L334.1 188.0 L334.4 188.0 L334.8 188.0 L335.1 188.0 L335.4 188.0 L335.8 188.0 L336.1 188.0 L336.4 188.0 L336.8 188.0 L337.1 188.0 L337.4 188.0 L337.8 188.0 L338.1 188.0 L338.5 188.0 L338.8 188.0 L339.1 188.0 L339.5 188.0 L339.8 188.0 L339.8 188.0 Z" fill="#a4a4a4" stroke="#1a1a1a" stroke-width="0.95"/>
<path d="M302.2 188.0 L302.2 188.0 L302.5 188.0 L302.9 188.0 L303.2 188.0 L303.5 188.0 L303.9 188.0 L304.2 187.9 L304.6 187.9 L304.9 187.8 L305.2 187.6 L305.6 187.3 L305.9 186.7 L306.2 186.0 L306.6 184.8 L306.9 183.2 L307.2 181.2 L307.6 178.6 L307.9 175.7 L308.2 172.6 L308.6 169.6 L308.9 166.8 L309.2 164.7 L309.6 163.5 L309.9 163.4 L310.3 164.8 L310.6 167.5 L310.9 171.1 L311.3 174.9 L311.6 178.5 L311.9 181.6 L312.3 183.9 L312.6 185.6 L312.9 186.7 L313.3 187.3 L313.6 187.7 L313.9 187.8 L314.3 187.9 L314.6 188.0 L315.0 188.0 L315.3 188.0 L315.6 188.0 L316.0 188.0 L316.3 188.0 L316.6 188.0 L317.0 188.0 L317.3 188.0 L317.6 188.0 L318.0 188.0 L318.3 188.0 L318.6 188.0 L319.0 188.0 L319.3 188.0 L319.7 188.0 L320.0 188.0 L320.3 188.0 L320.7 188.0 L321.0 188.0 L321.3 188.0 L321.7 188.0 L322.0 188.0 L322.3 188.0 L322.7 188.0 L323.0 188.0 L323.4 188.0 L323.7 188.0 L324.0 188.0 L324.4 188.0 L324.7 188.0 L325.0 188.0 L325.4 188.0 L325.7 188.0 L326.0 188.0 L326.4 188.0 L326.7 188.0 L327.0 188.0 L327.4 188.0 L327.7 188.0 L328.1 188.0 L328.4 188.0 L328.7 188.0 L329.1 188.0 L329.4 188.0 L329.7 188.0 L330.1 188.0 L330.4 188.0 L330.7 188.0 L331.1 188.0 L331.4 188.0 L331.7 188.0 L332.1 188.0 L332.4 188.0 L332.8 188.0 L333.1 188.0 L333.4 188.0 L333.8 188.0 L334.1 188.0 L334.4 188.0 L334.8 188.0 L335.1 188.0 L335.4 188.0 L335.8 188.0 L336.1 188.0 L336.4 188.0 L336.8 188.0 L337.1 188.0 L337.4 188.0 L337.8 188.0 L338.1 188.0 L338.5 188.0 L338.8 188.0 L339.1 188.0 L339.5 188.0 L339.8 188.0" fill="none" stroke="#111" stroke-width="1.05"/>
<rect x="302.20" y="148.20" width="37.60" height="39.80" fill="none" stroke="#333" stroke-width="1.0"/>
<line x1="302.20" y1="187.70" x2="339.80" y2="187.70" stroke="#0a0a0a" stroke-width="1.6"/>
<line x1="302.40" y1="148.20" x2="302.40" y2="188.00" stroke="#1a1a1a" stroke-width="1.4"/>
<line x1="300.80" y1="188.00" x2="302.20" y2="188.00" stroke="#333" stroke-width="0.6"/>
<line x1="300.80" y1="180.04" x2="302.20" y2="180.04" stroke="#333" stroke-width="0.6"/>
<line x1="300.80" y1="172.08" x2="302.20" y2="172.08" stroke="#333" stroke-width="0.6"/>
<line x1="300.80" y1="164.12" x2="302.20" y2="164.12" stroke="#333" stroke-width="0.6"/>
<line x1="300.80" y1="156.16" x2="302.20" y2="156.16" stroke="#333" stroke-width="0.6"/>
<line x1="300.80" y1="148.20" x2="302.20" y2="148.20" stroke="#333" stroke-width="0.6"/>
<text class="s" transform="translate(299.20 148.20) rotate(-90)" text-anchor="middle" font-size="4.5">70</text>
<text class="s" transform="translate(299.20 188.00) rotate(-90)" text-anchor="middle" font-size="4.5">0</text>
<text class="s" transform="translate(294.20 169.30) rotate(-90)" text-anchor="middle" font-size="4.5">Counts</text>
<text class="s" x="302.40" y="195.50" text-anchor="middle" font-size="4.5">10<tspan font-size="3.8" dy="-1.9">0</tspan></text>
<text class="s" x="311.80" y="195.50" text-anchor="middle" font-size="4.5">10<tspan font-size="3.8" dy="-1.9">1</tspan></text>
<text class="s" x="321.20" y="195.50" text-anchor="middle" font-size="4.5">10<tspan font-size="3.8" dy="-1.9">2</tspan></text>
<text class="s" x="330.60" y="195.50" text-anchor="middle" font-size="4.5">10<tspan font-size="3.8" dy="-1.9">3</tspan></text>
<text class="s" x="340.00" y="195.50" text-anchor="middle" font-size="4.5">10<tspan font-size="3.8" dy="-1.9">4</tspan></text>
<text class="s" x="321.00" y="200.30" text-anchor="middle" font-size="4.5">FL2-Height</text>
<path d="M359.5 188.0 L359.5 188.0 L359.8 188.0 L360.2 188.0 L360.5 188.0 L360.8 188.0 L361.2 188.0 L361.5 188.0 L361.8 188.0 L362.2 188.0 L362.5 188.0 L362.8 188.0 L363.2 188.0 L363.5 188.0 L363.8 188.0 L364.2 188.0 L364.5 188.0 L364.8 188.0 L365.2 188.0 L365.5 188.0 L365.8 187.9 L366.2 187.7 L366.5 187.5 L366.8 187.0 L367.2 186.1 L367.5 184.7 L367.8 182.6 L368.2 179.9 L368.5 176.5 L368.8 172.8 L369.2 169.1 L369.5 166.1 L369.8 164.1 L370.2 163.6 L370.5 164.5 L370.8 166.6 L371.2 169.1 L371.5 171.4 L371.8 172.9 L372.2 173.4 L372.5 173.3 L372.8 173.1 L373.2 173.4 L373.5 174.5 L373.8 176.3 L374.2 178.4 L374.5 180.7 L374.8 182.8 L375.2 184.6 L375.5 185.9 L375.8 186.8 L376.2 187.4 L376.5 187.7 L376.8 187.9 L377.2 187.9 L377.5 188.0 L377.8 188.0 L378.2 188.0 L378.5 188.0 L378.9 188.0 L379.2 188.0 L379.5 188.0 L379.9 188.0 L380.2 188.0 L380.5 188.0 L380.9 188.0 L381.2 188.0 L381.5 188.0 L381.9 188.0 L382.2 188.0 L382.5 188.0 L382.9 188.0 L383.2 188.0 L383.5 188.0 L383.9 188.0 L384.2 188.0 L384.5 188.0 L384.9 188.0 L385.2 188.0 L385.5 188.0 L385.9 188.0 L386.2 188.0 L386.5 188.0 L386.9 188.0 L387.2 188.0 L387.5 188.0 L387.9 188.0 L388.2 188.0 L388.5 188.0 L388.9 188.0 L389.2 188.0 L389.5 188.0 L389.9 188.0 L390.2 188.0 L390.5 188.0 L390.9 188.0 L391.2 188.0 L391.5 188.0 L391.9 188.0 L392.2 188.0 L392.5 188.0 L392.9 188.0 L393.2 188.0 L393.5 188.0 L393.9 188.0 L394.2 188.0 L394.5 188.0 L394.9 188.0 L395.2 188.0 L395.5 188.0 L395.9 188.0 L396.2 188.0 L396.5 188.0 L396.9 188.0 L397.2 188.0 L397.5 188.0 L397.9 188.0 L398.2 188.0 L398.2 188.0 Z" fill="#a4a4a4" stroke="#1a1a1a" stroke-width="0.95"/>
<path d="M359.5 188.0 L359.5 188.0 L359.8 188.0 L360.2 188.0 L360.5 188.0 L360.8 188.0 L361.2 188.0 L361.5 187.9 L361.8 187.8 L362.2 187.7 L362.5 187.4 L362.8 187.0 L363.2 186.3 L363.5 185.3 L363.8 183.8 L364.2 181.7 L364.5 179.2 L364.8 176.0 L365.2 172.5 L365.5 168.7 L365.8 165.1 L366.2 161.9 L366.5 159.5 L366.8 158.3 L367.2 158.3 L367.5 159.6 L367.8 162.0 L368.2 165.2 L368.5 168.9 L368.8 172.6 L369.2 176.2 L369.5 179.3 L369.8 181.8 L370.2 183.8 L370.5 185.3 L370.8 186.3 L371.2 187.0 L371.5 187.4 L371.8 187.7 L372.2 187.8 L372.5 187.9 L372.8 188.0 L373.2 188.0 L373.5 188.0 L373.8 188.0 L374.2 188.0 L374.5 188.0 L374.8 188.0 L375.2 188.0 L375.5 188.0 L375.8 188.0 L376.2 188.0 L376.5 188.0 L376.8 188.0 L377.2 188.0 L377.5 188.0 L377.8 188.0 L378.2 188.0 L378.5 188.0 L378.9 188.0 L379.2 188.0 L379.5 188.0 L379.9 188.0 L380.2 188.0 L380.5 188.0 L380.9 188.0 L381.2 188.0 L381.5 188.0 L381.9 188.0 L382.2 188.0 L382.5 188.0 L382.9 188.0 L383.2 188.0 L383.5 188.0 L383.9 188.0 L384.2 188.0 L384.5 188.0 L384.9 188.0 L385.2 188.0 L385.5 188.0 L385.9 188.0 L386.2 188.0 L386.5 188.0 L386.9 188.0 L387.2 188.0 L387.5 188.0 L387.9 188.0 L388.2 188.0 L388.5 188.0 L388.9 188.0 L389.2 188.0 L389.5 188.0 L389.9 188.0 L390.2 188.0 L390.5 188.0 L390.9 188.0 L391.2 188.0 L391.5 188.0 L391.9 188.0 L392.2 188.0 L392.5 188.0 L392.9 188.0 L393.2 188.0 L393.5 188.0 L393.9 188.0 L394.2 188.0 L394.5 188.0 L394.9 188.0 L395.2 188.0 L395.5 188.0 L395.9 188.0 L396.2 188.0 L396.5 188.0 L396.9 188.0 L397.2 188.0 L397.5 188.0 L397.9 188.0 L398.2 188.0" fill="none" stroke="#111" stroke-width="1.05"/>
<rect x="359.50" y="148.20" width="38.70" height="39.80" fill="none" stroke="#333" stroke-width="1.0"/>
<line x1="359.50" y1="187.70" x2="398.20" y2="187.70" stroke="#0a0a0a" stroke-width="1.6"/>
<line x1="359.70" y1="148.20" x2="359.70" y2="188.00" stroke="#1a1a1a" stroke-width="1.4"/>
<line x1="358.10" y1="188.00" x2="359.50" y2="188.00" stroke="#333" stroke-width="0.6"/>
<line x1="358.10" y1="180.04" x2="359.50" y2="180.04" stroke="#333" stroke-width="0.6"/>
<line x1="358.10" y1="172.08" x2="359.50" y2="172.08" stroke="#333" stroke-width="0.6"/>
<line x1="358.10" y1="164.12" x2="359.50" y2="164.12" stroke="#333" stroke-width="0.6"/>
<line x1="358.10" y1="156.16" x2="359.50" y2="156.16" stroke="#333" stroke-width="0.6"/>
<line x1="358.10" y1="148.20" x2="359.50" y2="148.20" stroke="#333" stroke-width="0.6"/>
<text class="s" transform="translate(356.50 148.20) rotate(-90)" text-anchor="middle" font-size="4.5">70</text>
<text class="s" transform="translate(356.50 188.00) rotate(-90)" text-anchor="middle" font-size="4.5">0</text>
<text class="s" transform="translate(351.50 169.30) rotate(-90)" text-anchor="middle" font-size="4.5">Counts</text>
<text class="s" x="359.70" y="195.50" text-anchor="middle" font-size="4.5">10<tspan font-size="3.8" dy="-1.9">0</tspan></text>
<text class="s" x="369.38" y="195.50" text-anchor="middle" font-size="4.5">10<tspan font-size="3.8" dy="-1.9">1</tspan></text>
<text class="s" x="379.05" y="195.50" text-anchor="middle" font-size="4.5">10<tspan font-size="3.8" dy="-1.9">2</tspan></text>
<text class="s" x="388.72" y="195.50" text-anchor="middle" font-size="4.5">10<tspan font-size="3.8" dy="-1.9">3</tspan></text>
<text class="s" x="398.40" y="195.50" text-anchor="middle" font-size="4.5">10<tspan font-size="3.8" dy="-1.9">4</tspan></text>
<text class="s" x="378.85" y="200.30" text-anchor="middle" font-size="4.5">FL2-Height</text>
<path d="M418.9 188.0 L418.9 188.0 L419.2 188.0 L419.6 187.9 L419.9 187.9 L420.2 187.8 L420.6 187.8 L420.9 187.6 L421.2 187.5 L421.6 187.2 L421.9 186.9 L422.3 186.4 L422.6 185.7 L422.9 184.9 L423.3 183.7 L423.6 182.2 L423.9 180.3 L424.3 178.0 L424.6 175.3 L424.9 172.1 L425.3 168.6 L425.6 164.9 L425.9 161.3 L426.3 158.4 L426.6 157.7 L427.0 160.1 L427.3 163.2 L427.6 166.7 L428.0 170.0 L428.3 173.2 L428.6 176.1 L429.0 178.5 L429.3 180.6 L429.6 182.3 L430.0 183.6 L430.3 184.7 L430.6 185.5 L431.0 186.1 L431.3 186.4 L431.7 186.6 L432.0 186.6 L432.3 186.6 L432.7 186.4 L433.0 186.2 L433.3 185.9 L433.7 185.7 L434.0 185.6 L434.3 185.6 L434.7 185.7 L435.0 185.9 L435.3 186.1 L435.7 186.4 L436.0 186.8 L436.4 187.1 L436.7 187.3 L437.0 187.5 L437.4 187.7 L437.7 187.8 L438.0 187.9 L438.4 187.9 L438.7 188.0 L439.0 188.0 L439.4 188.0 L439.7 188.0 L440.1 188.0 L440.4 188.0 L440.7 188.0 L441.1 188.0 L441.4 188.0 L441.7 188.0 L442.1 188.0 L442.4 188.0 L442.7 188.0 L443.1 188.0 L443.4 188.0 L443.7 188.0 L444.1 188.0 L444.4 188.0 L444.8 188.0 L445.1 188.0 L445.4 188.0 L445.8 188.0 L446.1 188.0 L446.4 188.0 L446.8 188.0 L447.1 188.0 L447.4 188.0 L447.8 188.0 L448.1 188.0 L448.4 188.0 L448.8 188.0 L449.1 188.0 L449.4 188.0 L449.8 188.0 L450.1 188.0 L450.5 188.0 L450.8 188.0 L451.1 188.0 L451.5 188.0 L451.8 188.0 L452.1 188.0 L452.5 188.0 L452.8 188.0 L453.1 188.0 L453.5 188.0 L453.8 188.0 L454.1 188.0 L454.5 188.0 L454.8 188.0 L455.2 188.0 L455.5 188.0 L455.8 188.0 L456.2 188.0 L456.5 188.0 L456.5 188.0 Z" fill="#a4a4a4" stroke="#1a1a1a" stroke-width="0.95"/>
<path d="M418.9 188.0 L418.9 188.0 L419.2 188.0 L419.6 187.9 L419.9 187.9 L420.2 187.8 L420.6 187.8 L420.9 187.6 L421.2 187.5 L421.6 187.2 L421.9 186.9 L422.3 186.4 L422.6 185.7 L422.9 184.9 L423.3 183.7 L423.6 182.2 L423.9 180.3 L424.3 178.0 L424.6 175.3 L424.9 172.1 L425.3 168.6 L425.6 164.9 L425.9 161.3 L426.3 158.4 L426.6 157.7 L427.0 160.1 L427.3 163.2 L427.6 166.7 L428.0 170.0 L428.3 173.2 L428.6 176.1 L429.0 178.5 L429.3 180.6 L429.6 182.3 L430.0 183.6 L430.3 184.7 L430.6 185.5 L431.0 186.1 L431.3 186.4 L431.7 186.6 L432.0 186.6 L432.3 186.6 L432.7 186.4 L433.0 186.2 L433.3 185.9 L433.7 185.7 L434.0 185.6 L434.3 185.6 L434.7 185.7 L435.0 185.9 L435.3 186.1 L435.7 186.4 L436.0 186.8 L436.4 187.1 L436.7 187.3 L437.0 187.5 L437.4 187.7 L437.7 187.8 L438.0 187.9 L438.4 187.9 L438.7 188.0 L439.0 188.0 L439.4 188.0 L439.7 188.0 L440.1 188.0 L440.4 188.0 L440.7 188.0 L441.1 188.0 L441.4 188.0 L441.7 188.0 L442.1 188.0 L442.4 188.0 L442.7 188.0 L443.1 188.0 L443.4 188.0 L443.7 188.0 L444.1 188.0 L444.4 188.0 L444.8 188.0 L445.1 188.0 L445.4 188.0 L445.8 188.0 L446.1 188.0 L446.4 188.0 L446.8 188.0 L447.1 188.0 L447.4 188.0 L447.8 188.0 L448.1 188.0 L448.4 188.0 L448.8 188.0 L449.1 188.0 L449.4 188.0 L449.8 188.0 L450.1 188.0 L450.5 188.0 L450.8 188.0 L451.1 188.0 L451.5 188.0 L451.8 188.0 L452.1 188.0 L452.5 188.0 L452.8 188.0 L453.1 188.0 L453.5 188.0 L453.8 188.0 L454.1 188.0 L454.5 188.0 L454.8 188.0 L455.2 188.0 L455.5 188.0 L455.8 188.0 L456.2 188.0 L456.5 188.0" fill="none" stroke="#111" stroke-width="1.05"/>
<rect x="418.90" y="148.20" width="37.60" height="39.80" fill="none" stroke="#333" stroke-width="1.0"/>
<line x1="418.90" y1="187.70" x2="456.50" y2="187.70" stroke="#0a0a0a" stroke-width="1.6"/>
<line x1="419.10" y1="148.20" x2="419.10" y2="188.00" stroke="#1a1a1a" stroke-width="1.4"/>
<line x1="417.50" y1="188.00" x2="418.90" y2="188.00" stroke="#333" stroke-width="0.6"/>
<line x1="417.50" y1="180.04" x2="418.90" y2="180.04" stroke="#333" stroke-width="0.6"/>
<line x1="417.50" y1="172.08" x2="418.90" y2="172.08" stroke="#333" stroke-width="0.6"/>
<line x1="417.50" y1="164.12" x2="418.90" y2="164.12" stroke="#333" stroke-width="0.6"/>
<line x1="417.50" y1="156.16" x2="418.90" y2="156.16" stroke="#333" stroke-width="0.6"/>
<line x1="417.50" y1="148.20" x2="418.90" y2="148.20" stroke="#333" stroke-width="0.6"/>
<text class="s" transform="translate(415.90 148.20) rotate(-90)" text-anchor="middle" font-size="4.5">20</text>
<text class="s" transform="translate(415.90 188.00) rotate(-90)" text-anchor="middle" font-size="4.5">0</text>
<text class="s" transform="translate(410.90 169.30) rotate(-90)" text-anchor="middle" font-size="4.5">Counts</text>
<text class="s" x="419.10" y="195.50" text-anchor="middle" font-size="4.5">10<tspan font-size="3.8" dy="-1.9">0</tspan></text>
<text class="s" x="428.50" y="195.50" text-anchor="middle" font-size="4.5">10<tspan font-size="3.8" dy="-1.9">1</tspan></text>
<text class="s" x="437.90" y="195.50" text-anchor="middle" font-size="4.5">10<tspan font-size="3.8" dy="-1.9">2</tspan></text>
<text class="s" x="447.30" y="195.50" text-anchor="middle" font-size="4.5">10<tspan font-size="3.8" dy="-1.9">3</tspan></text>
<text class="s" x="456.70" y="195.50" text-anchor="middle" font-size="4.5">10<tspan font-size="3.8" dy="-1.9">4</tspan></text>
<text class="s" x="437.70" y="200.30" text-anchor="middle" font-size="4.5">FL2-Height</text>
<path d="M475.2 188.0 L475.2 188.0 L475.5 188.0 L475.9 188.0 L476.2 188.0 L476.5 188.0 L476.9 188.0 L477.2 188.0 L477.5 187.9 L477.9 187.8 L478.2 187.7 L478.5 187.5 L478.9 187.1 L479.2 186.6 L479.6 185.8 L479.9 184.8 L480.2 183.3 L480.6 181.5 L480.9 179.3 L481.2 176.7 L481.6 173.8 L481.9 170.7 L482.2 167.7 L482.6 165.1 L482.9 162.9 L483.2 161.5 L483.6 160.9 L483.9 161.3 L484.2 162.4 L484.6 164.3 L484.9 166.7 L485.2 169.4 L485.6 172.3 L485.9 175.1 L486.2 177.8 L486.6 180.1 L486.9 182.1 L487.3 183.7 L487.6 185.0 L487.9 186.0 L488.3 186.7 L488.6 187.1 L488.9 187.5 L489.3 187.7 L489.6 187.8 L489.9 187.9 L490.3 187.9 L490.6 188.0 L490.9 188.0 L491.3 188.0 L491.6 188.0 L491.9 188.0 L492.3 188.0 L492.6 188.0 L492.9 188.0 L493.3 188.0 L493.6 188.0 L493.9 188.0 L494.3 188.0 L494.6 188.0 L495.0 188.0 L495.3 188.0 L495.6 188.0 L496.0 188.0 L496.3 188.0 L496.6 188.0 L497.0 188.0 L497.3 188.0 L497.6 188.0 L498.0 188.0 L498.3 188.0 L498.6 188.0 L499.0 188.0 L499.3 188.0 L499.6 188.0 L500.0 188.0 L500.3 188.0 L500.6 188.0 L501.0 188.0 L501.3 188.0 L501.6 188.0 L502.0 188.0 L502.3 188.0 L502.7 188.0 L503.0 188.0 L503.3 188.0 L503.7 188.0 L504.0 188.0 L504.3 188.0 L504.7 188.0 L505.0 188.0 L505.3 188.0 L505.7 188.0 L506.0 188.0 L506.3 188.0 L506.7 188.0 L507.0 188.0 L507.3 188.0 L507.7 188.0 L508.0 188.0 L508.3 188.0 L508.7 188.0 L509.0 188.0 L509.3 188.0 L509.7 188.0 L510.0 188.0 L510.4 188.0 L510.7 188.0 L511.0 188.0 L511.4 188.0 L511.7 188.0 L512.0 188.0 L512.4 188.0 L512.7 188.0 L513.0 188.0 L513.4 188.0 L513.7 188.0 L513.7 188.0 Z" fill="#a4a4a4" stroke="#1a1a1a" stroke-width="0.95"/>
<path d="M475.2 188.0 L475.2 188.0 L475.5 188.0 L475.9 188.0 L476.2 188.0 L476.5 188.0 L476.9 188.0 L477.2 188.0 L477.5 188.0 L477.9 188.0 L478.2 188.0 L478.5 187.9 L478.9 187.8 L479.2 187.4 L479.6 186.7 L479.9 185.4 L480.2 183.2 L480.6 179.8 L480.9 175.3 L481.2 169.9 L481.6 164.5 L481.9 159.8 L482.2 156.6 L482.6 155.0 L482.9 154.6 L483.2 154.8 L483.6 154.8 L483.9 154.6 L484.2 154.8 L484.6 156.0 L484.9 158.4 L485.2 161.8 L485.6 166.1 L485.9 170.7 L486.2 175.1 L486.6 179.0 L486.9 182.1 L487.3 184.4 L487.6 186.0 L487.9 186.9 L488.3 187.5 L488.6 187.7 L488.9 187.9 L489.3 188.0 L489.6 188.0 L489.9 188.0 L490.3 188.0 L490.6 188.0 L490.9 188.0 L491.3 188.0 L491.6 188.0 L491.9 188.0 L492.3 188.0 L492.6 188.0 L492.9 188.0 L493.3 188.0 L493.6 188.0 L493.9 188.0 L494.3 188.0 L494.6 188.0 L495.0 188.0 L495.3 188.0 L495.6 188.0 L496.0 188.0 L496.3 188.0 L496.6 188.0 L497.0 188.0 L497.3 188.0 L497.6 188.0 L498.0 188.0 L498.3 188.0 L498.6 188.0 L499.0 188.0 L499.3 188.0 L499.6 188.0 L500.0 188.0 L500.3 188.0 L500.6 188.0 L501.0 188.0 L501.3 188.0 L501.6 188.0 L502.0 188.0 L502.3 188.0 L502.7 188.0 L503.0 188.0 L503.3 188.0 L503.7 188.0 L504.0 188.0 L504.3 188.0 L504.7 188.0 L505.0 188.0 L505.3 188.0 L505.7 188.0 L506.0 188.0 L506.3 188.0 L506.7 188.0 L507.0 188.0 L507.3 188.0 L507.7 188.0 L508.0 188.0 L508.3 188.0 L508.7 188.0 L509.0 188.0 L509.3 188.0 L509.7 188.0 L510.0 188.0 L510.4 188.0 L510.7 188.0 L511.0 188.0 L511.4 188.0 L511.7 188.0 L512.0 188.0 L512.4 188.0 L512.7 188.0 L513.0 188.0 L513.4 188.0 L513.7 188.0" fill="none" stroke="#111" stroke-width="1.05"/>
<rect x="475.20" y="148.20" width="38.50" height="39.80" fill="none" stroke="#333" stroke-width="1.0"/>
<line x1="475.20" y1="187.70" x2="513.70" y2="187.70" stroke="#0a0a0a" stroke-width="1.6"/>
<line x1="475.40" y1="148.20" x2="475.40" y2="188.00" stroke="#1a1a1a" stroke-width="1.4"/>
<line x1="473.80" y1="188.00" x2="475.20" y2="188.00" stroke="#333" stroke-width="0.6"/>
<line x1="473.80" y1="180.04" x2="475.20" y2="180.04" stroke="#333" stroke-width="0.6"/>
<line x1="473.80" y1="172.08" x2="475.20" y2="172.08" stroke="#333" stroke-width="0.6"/>
<line x1="473.80" y1="164.12" x2="475.20" y2="164.12" stroke="#333" stroke-width="0.6"/>
<line x1="473.80" y1="156.16" x2="475.20" y2="156.16" stroke="#333" stroke-width="0.6"/>
<line x1="473.80" y1="148.20" x2="475.20" y2="148.20" stroke="#333" stroke-width="0.6"/>
<text class="s" transform="translate(472.20 148.20) rotate(-90)" text-anchor="middle" font-size="4.5">20</text>
<text class="s" transform="translate(472.20 188.00) rotate(-90)" text-anchor="middle" font-size="4.5">0</text>
<text class="s" transform="translate(467.20 169.30) rotate(-90)" text-anchor="middle" font-size="4.5">Counts</text>
<text class="s" x="475.40" y="195.50" text-anchor="middle" font-size="4.5">10<tspan font-size="3.8" dy="-1.9">0</tspan></text>
<text class="s" x="485.02" y="195.50" text-anchor="middle" font-size="4.5">10<tspan font-size="3.8" dy="-1.9">1</tspan></text>
<text class="s" x="494.65" y="195.50" text-anchor="middle" font-size="4.5">10<tspan font-size="3.8" dy="-1.9">2</tspan></text>
<text class="s" x="504.28" y="195.50" text-anchor="middle" font-size="4.5">10<tspan font-size="3.8" dy="-1.9">3</tspan></text>
<text class="s" x="513.90" y="195.50" text-anchor="middle" font-size="4.5">10<tspan font-size="3.8" dy="-1.9">4</tspan></text>
<text class="s" x="494.45" y="200.30" text-anchor="middle" font-size="4.5">FL2-Height</text>
<path d="M303.2 290.8 L303.2 290.8 L303.5 290.8 L303.9 290.8 L304.2 290.8 L304.5 290.8 L304.9 290.8 L305.2 290.8 L305.5 290.8 L305.9 290.8 L306.2 290.8 L306.5 290.8 L306.9 290.8 L307.2 290.8 L307.6 290.8 L307.9 290.8 L308.2 290.8 L308.6 290.8 L308.9 290.8 L309.2 290.8 L309.6 290.8 L309.9 290.8 L310.2 290.8 L310.6 290.8 L310.9 290.8 L311.2 290.8 L311.6 290.8 L311.9 290.8 L312.2 290.8 L312.6 290.8 L312.9 290.8 L313.2 290.8 L313.6 290.8 L313.9 290.8 L314.3 290.8 L314.6 290.8 L314.9 290.7 L315.3 290.7 L315.6 290.7 L315.9 290.6 L316.3 290.5 L316.6 290.4 L316.9 290.3 L317.3 290.2 L317.6 290.0 L317.9 289.9 L318.3 289.7 L318.6 289.6 L318.9 289.4 L319.3 289.3 L319.6 289.2 L319.9 289.2 L320.3 289.1 L320.6 289.0 L320.9 288.9 L321.3 288.7 L321.6 288.3 L322.0 287.6 L322.3 286.7 L322.6 285.3 L323.0 283.5 L323.3 281.1 L323.6 278.3 L324.0 275.1 L324.3 271.7 L324.6 268.2 L325.0 265.0 L325.3 262.3 L325.6 260.4 L326.0 259.4 L326.3 259.4 L326.6 260.6 L327.0 262.8 L327.3 265.8 L327.6 269.2 L328.0 272.7 L328.3 276.1 L328.6 279.2 L329.0 281.7 L329.3 283.7 L329.7 285.3 L330.0 286.4 L330.3 287.1 L330.7 287.6 L331.0 288.0 L331.3 288.2 L331.7 288.4 L332.0 288.5 L332.3 288.6 L332.7 288.8 L333.0 288.9 L333.3 289.1 L333.7 289.2 L334.0 289.4 L334.3 289.5 L334.7 289.7 L335.0 289.8 L335.3 290.0 L335.7 290.1 L336.0 290.2 L336.4 290.3 L336.7 290.4 L337.0 290.5 L337.4 290.6 L337.7 290.6 L338.0 290.6 L338.4 290.7 L338.7 290.7 L339.0 290.7 L339.4 290.8 L339.7 290.8 L339.7 290.8 Z" fill="#a4a4a4" stroke="#1a1a1a" stroke-width="0.95"/>
<path d="M303.2 290.8 L303.2 286.7 L303.5 286.0 L303.9 285.2 L304.2 284.3 L304.5 283.4 L304.9 282.4 L305.2 281.3 L305.5 280.3 L305.9 279.1 L306.2 278.0 L306.5 276.9 L306.9 275.8 L307.2 274.8 L307.6 273.9 L307.9 273.0 L308.2 272.3 L308.6 271.7 L308.9 271.3 L309.2 271.0 L309.6 270.9 L309.9 271.0 L310.2 271.3 L310.6 271.9 L310.9 272.7 L311.2 273.6 L311.6 274.7 L311.9 275.9 L312.2 277.2 L312.6 278.5 L312.9 279.7 L313.2 281.0 L313.6 282.1 L313.9 283.2 L314.3 284.2 L314.6 285.0 L314.9 285.8 L315.3 286.4 L315.6 286.9 L315.9 287.3 L316.3 287.6 L316.6 287.8 L316.9 288.0 L317.3 288.2 L317.6 288.3 L317.9 288.4 L318.3 288.6 L318.6 288.7 L318.9 288.8 L319.3 288.9 L319.6 289.0 L319.9 289.2 L320.3 289.3 L320.6 289.4 L320.9 289.6 L321.3 289.7 L321.6 289.9 L322.0 290.0 L322.3 290.1 L322.6 290.2 L323.0 290.3 L323.3 290.4 L323.6 290.5 L324.0 290.5 L324.3 290.6 L324.6 290.6 L325.0 290.7 L325.3 290.7 L325.6 290.7 L326.0 290.7 L326.3 290.8 L326.6 290.8 L327.0 290.8 L327.3 290.8 L327.6 290.8 L328.0 290.8 L328.3 290.8 L328.6 290.8 L329.0 290.8 L329.3 290.8 L329.7 290.8 L330.0 290.8 L330.3 290.8 L330.7 290.8 L331.0 290.8 L331.3 290.8 L331.7 290.8 L332.0 290.8 L332.3 290.8 L332.7 290.8 L333.0 290.8 L333.3 290.8 L333.7 290.8 L334.0 290.8 L334.3 290.8 L334.7 290.8 L335.0 290.8 L335.3 290.8 L335.7 290.8 L336.0 290.8 L336.4 290.8 L336.7 290.8 L337.0 290.8 L337.4 290.8 L337.7 290.8 L338.0 290.8 L338.4 290.8 L338.7 290.8 L339.0 290.8 L339.4 290.8 L339.7 290.8" fill="none" stroke="#111" stroke-width="1.05"/>
<rect x="303.20" y="251.80" width="36.50" height="39.00" fill="none" stroke="#333" stroke-width="1.0"/>
<line x1="303.20" y1="290.50" x2="339.70" y2="290.50" stroke="#0a0a0a" stroke-width="1.6"/>
<line x1="303.40" y1="251.80" x2="303.40" y2="290.80" stroke="#1a1a1a" stroke-width="1.4"/>
<line x1="301.80" y1="290.80" x2="303.20" y2="290.80" stroke="#333" stroke-width="0.6"/>
<line x1="301.80" y1="283.00" x2="303.20" y2="283.00" stroke="#333" stroke-width="0.6"/>
<line x1="301.80" y1="275.20" x2="303.20" y2="275.20" stroke="#333" stroke-width="0.6"/>
<line x1="301.80" y1="267.40" x2="303.20" y2="267.40" stroke="#333" stroke-width="0.6"/>
<line x1="301.80" y1="259.60" x2="303.20" y2="259.60" stroke="#333" stroke-width="0.6"/>
<line x1="301.80" y1="251.80" x2="303.20" y2="251.80" stroke="#333" stroke-width="0.6"/>
<text class="s" transform="translate(300.20 251.80) rotate(-90)" text-anchor="middle" font-size="4.5">120</text>
<text class="s" transform="translate(300.20 290.80) rotate(-90)" text-anchor="middle" font-size="4.5">0</text>
<text class="s" transform="translate(295.20 272.50) rotate(-90)" text-anchor="middle" font-size="4.5">Counts</text>
<text class="s" x="303.40" y="297.60" text-anchor="middle" font-size="4.5">10<tspan font-size="3.8" dy="-1.9">0</tspan></text>
<text class="s" x="312.52" y="297.60" text-anchor="middle" font-size="4.5">10<tspan font-size="3.8" dy="-1.9">1</tspan></text>
<text class="s" x="321.65" y="297.60" text-anchor="middle" font-size="4.5">10<tspan font-size="3.8" dy="-1.9">2</tspan></text>
<text class="s" x="330.77" y="297.60" text-anchor="middle" font-size="4.5">10<tspan font-size="3.8" dy="-1.9">3</tspan></text>
<text class="s" x="339.90" y="297.60" text-anchor="middle" font-size="4.5">10<tspan font-size="3.8" dy="-1.9">4</tspan></text>
<text class="s" x="321.45" y="302.40" text-anchor="middle" font-size="4.5">FL3-Height</text>
<path d="M360.3 290.8 L360.3 283.9 L360.6 283.7 L361.0 283.4 L361.3 283.1 L361.6 282.8 L362.0 282.5 L362.3 282.2 L362.7 282.0 L363.0 281.7 L363.3 281.4 L363.7 281.1 L364.0 280.8 L364.3 280.5 L364.7 280.2 L365.0 279.9 L365.3 279.7 L365.7 279.4 L366.0 279.1 L366.3 278.9 L366.7 278.6 L367.0 278.4 L367.4 278.2 L367.7 278.0 L368.0 277.8 L368.4 277.7 L368.7 277.6 L369.0 277.5 L369.4 277.6 L369.7 277.9 L370.0 278.4 L370.4 279.0 L370.7 279.6 L371.1 280.2 L371.4 280.9 L371.7 281.6 L372.1 282.3 L372.4 282.9 L372.7 283.6 L373.1 284.2 L373.4 284.8 L373.7 285.3 L374.1 285.8 L374.4 286.2 L374.7 286.6 L375.1 287.0 L375.4 287.3 L375.8 287.6 L376.1 287.9 L376.4 288.1 L376.8 288.3 L377.1 288.4 L377.4 288.5 L377.8 288.6 L378.1 288.7 L378.4 288.8 L378.8 288.8 L379.1 288.9 L379.5 288.9 L379.8 288.9 L380.1 288.9 L380.5 288.9 L380.8 288.9 L381.1 288.9 L381.5 288.9 L381.8 288.9 L382.1 288.9 L382.5 288.9 L382.8 288.9 L383.2 288.8 L383.5 288.8 L383.8 288.8 L384.2 288.8 L384.5 288.8 L384.8 288.8 L385.2 288.8 L385.5 288.8 L385.8 288.8 L386.2 288.8 L386.5 288.9 L386.8 288.9 L387.2 288.9 L387.5 288.9 L387.9 288.9 L388.2 289.0 L388.5 289.0 L388.9 289.0 L389.2 289.1 L389.5 289.1 L389.9 289.2 L390.2 289.2 L390.5 289.2 L390.9 289.3 L391.2 289.3 L391.6 289.4 L391.9 289.4 L392.2 289.5 L392.6 289.5 L392.9 289.6 L393.2 289.6 L393.6 289.7 L393.9 289.7 L394.2 289.8 L394.6 289.8 L394.9 289.9 L395.2 289.9 L395.6 290.0 L395.9 290.0 L396.3 290.1 L396.6 290.1 L396.9 290.2 L397.3 290.2 L397.6 290.2 L397.6 290.8 Z" fill="#a4a4a4" stroke="#1a1a1a" stroke-width="0.95"/>
<path d="M360.3 290.8 L360.3 280.4 L360.6 279.9 L361.0 279.3 L361.3 278.8 L361.6 278.2 L362.0 277.7 L362.3 277.2 L362.7 276.6 L363.0 276.1 L363.3 275.5 L363.7 275.0 L364.0 274.5 L364.3 273.9 L364.7 273.5 L365.0 273.0 L365.3 272.6 L365.7 272.1 L366.0 271.8 L366.3 271.5 L366.7 271.2 L367.0 271.0 L367.4 270.9 L367.7 271.3 L368.0 271.9 L368.4 272.7 L368.7 273.6 L369.0 274.6 L369.4 275.6 L369.7 276.7 L370.0 277.7 L370.4 278.8 L370.7 279.8 L371.1 280.8 L371.4 281.7 L371.7 282.6 L372.1 283.4 L372.4 284.2 L372.7 284.9 L373.1 285.5 L373.4 286.1 L373.7 286.6 L374.1 287.0 L374.4 287.4 L374.7 287.8 L375.1 288.1 L375.4 288.3 L375.8 288.6 L376.1 288.7 L376.4 288.9 L376.8 289.0 L377.1 289.1 L377.4 289.2 L377.8 289.3 L378.1 289.3 L378.4 289.3 L378.8 289.4 L379.1 289.4 L379.5 289.4 L379.8 289.4 L380.1 289.4 L380.5 289.4 L380.8 289.3 L381.1 289.3 L381.5 289.3 L381.8 289.3 L382.1 289.3 L382.5 289.3 L382.8 289.3 L383.2 289.2 L383.5 289.2 L383.8 289.2 L384.2 289.2 L384.5 289.2 L384.8 289.2 L385.2 289.2 L385.5 289.2 L385.8 289.2 L386.2 289.2 L386.5 289.2 L386.8 289.3 L387.2 289.3 L387.5 289.3 L387.9 289.3 L388.2 289.3 L388.5 289.4 L388.9 289.4 L389.2 289.4 L389.5 289.5 L389.9 289.5 L390.2 289.5 L390.5 289.6 L390.9 289.6 L391.2 289.6 L391.6 289.7 L391.9 289.7 L392.2 289.7 L392.6 289.8 L392.9 289.8 L393.2 289.9 L393.6 289.9 L393.9 289.9 L394.2 290.0 L394.6 290.0 L394.9 290.1 L395.2 290.1 L395.6 290.1 L395.9 290.2 L396.3 290.2 L396.6 290.2 L396.9 290.3 L397.3 290.3 L397.6 290.3" fill="none" stroke="#111" stroke-width="1.05"/>
<rect x="360.30" y="251.30" width="37.30" height="39.50" fill="none" stroke="#333" stroke-width="1.0"/>
<line x1="360.30" y1="290.50" x2="397.60" y2="290.50" stroke="#0a0a0a" stroke-width="1.6"/>
<line x1="360.50" y1="251.30" x2="360.50" y2="290.80" stroke="#1a1a1a" stroke-width="1.4"/>
<line x1="358.90" y1="290.80" x2="360.30" y2="290.80" stroke="#333" stroke-width="0.6"/>
<line x1="358.90" y1="282.90" x2="360.30" y2="282.90" stroke="#333" stroke-width="0.6"/>
<line x1="358.90" y1="275.00" x2="360.30" y2="275.00" stroke="#333" stroke-width="0.6"/>
<line x1="358.90" y1="267.10" x2="360.30" y2="267.10" stroke="#333" stroke-width="0.6"/>
<line x1="358.90" y1="259.20" x2="360.30" y2="259.20" stroke="#333" stroke-width="0.6"/>
<line x1="358.90" y1="251.30" x2="360.30" y2="251.30" stroke="#333" stroke-width="0.6"/>
<text class="s" transform="translate(357.30 251.30) rotate(-90)" text-anchor="middle" font-size="4.5">120</text>
<text class="s" transform="translate(357.30 290.80) rotate(-90)" text-anchor="middle" font-size="4.5">0</text>
<text class="s" transform="translate(352.30 272.25) rotate(-90)" text-anchor="middle" font-size="4.5">Counts</text>
<text class="s" x="360.50" y="297.60" text-anchor="middle" font-size="4.5">10<tspan font-size="3.8" dy="-1.9">0</tspan></text>
<text class="s" x="369.82" y="297.60" text-anchor="middle" font-size="4.5">10<tspan font-size="3.8" dy="-1.9">1</tspan></text>
<text class="s" x="379.15" y="297.60" text-anchor="middle" font-size="4.5">10<tspan font-size="3.8" dy="-1.9">2</tspan></text>
<text class="s" x="388.48" y="297.60" text-anchor="middle" font-size="4.5">10<tspan font-size="3.8" dy="-1.9">3</tspan></text>
<text class="s" x="397.80" y="297.60" text-anchor="middle" font-size="4.5">10<tspan font-size="3.8" dy="-1.9">4</tspan></text>
<text class="s" x="378.95" y="302.40" text-anchor="middle" font-size="4.5">FL3-Height</text>
<path d="M419.2 290.8 L419.2 290.8 L419.5 290.8 L419.9 290.8 L420.2 290.8 L420.5 290.8 L420.9 290.8 L421.2 290.8 L421.5 290.8 L421.9 290.8 L422.2 290.8 L422.5 290.8 L422.9 290.8 L423.2 290.8 L423.5 290.8 L423.9 290.8 L424.2 290.8 L424.6 290.8 L424.9 290.8 L425.2 290.8 L425.6 290.8 L425.9 290.8 L426.2 290.8 L426.6 290.8 L426.9 290.8 L427.2 290.8 L427.6 290.8 L427.9 290.8 L428.2 290.8 L428.6 290.8 L428.9 290.8 L429.2 290.8 L429.6 290.8 L429.9 290.8 L430.2 290.8 L430.6 290.8 L430.9 290.8 L431.2 290.8 L431.6 290.8 L431.9 290.8 L432.2 290.8 L432.6 290.8 L432.9 290.8 L433.3 290.8 L433.6 290.8 L433.9 290.8 L434.3 290.8 L434.6 290.8 L434.9 290.8 L435.3 290.8 L435.6 290.8 L435.9 290.8 L436.3 290.8 L436.6 290.8 L436.9 290.8 L437.3 290.7 L437.6 290.7 L437.9 290.5 L438.3 290.3 L438.6 289.9 L438.9 289.3 L439.3 288.3 L439.6 286.9 L439.9 285.0 L440.3 282.4 L440.6 279.3 L440.9 275.6 L441.3 271.6 L441.6 267.5 L441.9 263.8 L442.3 260.9 L442.6 259.0 L443.0 258.3 L443.3 258.9 L443.6 260.4 L444.0 262.7 L444.3 265.5 L444.6 268.7 L445.0 271.9 L445.3 274.9 L445.6 277.6 L446.0 279.9 L446.3 281.8 L446.6 283.2 L447.0 284.4 L447.3 285.3 L447.6 286.0 L448.0 286.6 L448.3 287.0 L448.6 287.5 L449.0 287.8 L449.3 288.2 L449.6 288.5 L450.0 288.9 L450.3 289.2 L450.6 289.5 L451.0 289.7 L451.3 289.9 L451.7 290.1 L452.0 290.3 L452.3 290.4 L452.7 290.5 L453.0 290.6 L453.3 290.6 L453.7 290.7 L454.0 290.7 L454.3 290.7 L454.7 290.8 L455.0 290.8 L455.3 290.8 L455.7 290.8 L456.0 290.8 L456.0 290.8 Z" fill="#a4a4a4" stroke="#1a1a1a" stroke-width="0.95"/>
<path d="M419.2 290.8 L419.2 285.7 L419.5 284.9 L419.9 284.0 L420.2 283.1 L420.5 282.2 L420.9 281.1 L421.2 280.1 L421.5 279.0 L421.9 277.9 L422.2 276.9 L422.5 275.8 L422.9 274.8 L423.2 273.9 L423.5 273.0 L423.9 272.3 L424.2 271.6 L424.6 271.1 L424.9 270.7 L425.2 270.5 L425.6 270.5 L425.9 270.6 L426.2 271.1 L426.6 271.8 L426.9 272.7 L427.2 273.9 L427.6 275.1 L427.9 276.5 L428.2 277.9 L428.6 279.3 L428.9 280.7 L429.2 282.0 L429.6 283.2 L429.9 284.3 L430.2 285.3 L430.6 286.1 L430.9 286.8 L431.2 287.4 L431.6 287.8 L431.9 288.2 L432.2 288.4 L432.6 288.6 L432.9 288.7 L433.3 288.8 L433.6 288.9 L433.9 288.9 L434.3 288.9 L434.6 288.9 L434.9 288.8 L435.3 288.8 L435.6 288.8 L435.9 288.8 L436.3 288.8 L436.6 288.9 L436.9 288.9 L437.3 289.0 L437.6 289.1 L437.9 289.2 L438.3 289.3 L438.6 289.5 L438.9 289.6 L439.3 289.7 L439.6 289.9 L439.9 290.0 L440.3 290.1 L440.6 290.2 L440.9 290.3 L441.3 290.4 L441.6 290.5 L441.9 290.5 L442.3 290.6 L442.6 290.6 L443.0 290.7 L443.3 290.7 L443.6 290.7 L444.0 290.7 L444.3 290.8 L444.6 290.8 L445.0 290.8 L445.3 290.8 L445.6 290.8 L446.0 290.8 L446.3 290.8 L446.6 290.8 L447.0 290.8 L447.3 290.8 L447.6 290.8 L448.0 290.8 L448.3 290.8 L448.6 290.8 L449.0 290.8 L449.3 290.8 L449.6 290.8 L450.0 290.8 L450.3 290.8 L450.6 290.8 L451.0 290.8 L451.3 290.8 L451.7 290.8 L452.0 290.8 L452.3 290.8 L452.7 290.8 L453.0 290.8 L453.3 290.8 L453.7 290.8 L454.0 290.8 L454.3 290.8 L454.7 290.8 L455.0 290.8 L455.3 290.8 L455.7 290.8 L456.0 290.8" fill="none" stroke="#111" stroke-width="1.05"/>
<rect x="419.20" y="251.80" width="36.80" height="39.00" fill="none" stroke="#333" stroke-width="1.0"/>
<line x1="419.20" y1="290.50" x2="456.00" y2="290.50" stroke="#0a0a0a" stroke-width="1.6"/>
<line x1="419.40" y1="251.80" x2="419.40" y2="290.80" stroke="#1a1a1a" stroke-width="1.4"/>
<line x1="417.80" y1="290.80" x2="419.20" y2="290.80" stroke="#333" stroke-width="0.6"/>
<line x1="417.80" y1="283.00" x2="419.20" y2="283.00" stroke="#333" stroke-width="0.6"/>
<line x1="417.80" y1="275.20" x2="419.20" y2="275.20" stroke="#333" stroke-width="0.6"/>
<line x1="417.80" y1="267.40" x2="419.20" y2="267.40" stroke="#333" stroke-width="0.6"/>
<line x1="417.80" y1="259.60" x2="419.20" y2="259.60" stroke="#333" stroke-width="0.6"/>
<line x1="417.80" y1="251.80" x2="419.20" y2="251.80" stroke="#333" stroke-width="0.6"/>
<text class="s" transform="translate(416.20 251.80) rotate(-90)" text-anchor="middle" font-size="4.5">120</text>
<text class="s" transform="translate(416.20 290.80) rotate(-90)" text-anchor="middle" font-size="4.5">0</text>
<text class="s" transform="translate(411.20 272.50) rotate(-90)" text-anchor="middle" font-size="4.5">Counts</text>
<text class="s" x="419.40" y="297.60" text-anchor="middle" font-size="4.5">10<tspan font-size="3.8" dy="-1.9">0</tspan></text>
<text class="s" x="428.60" y="297.60" text-anchor="middle" font-size="4.5">10<tspan font-size="3.8" dy="-1.9">1</tspan></text>
<text class="s" x="437.80" y="297.60" text-anchor="middle" font-size="4.5">10<tspan font-size="3.8" dy="-1.9">2</tspan></text>
<text class="s" x="447.00" y="297.60" text-anchor="middle" font-size="4.5">10<tspan font-size="3.8" dy="-1.9">3</tspan></text>
<text class="s" x="456.20" y="297.60" text-anchor="middle" font-size="4.5">10<tspan font-size="3.8" dy="-1.9">4</tspan></text>
<text class="s" x="437.60" y="302.40" text-anchor="middle" font-size="4.5">FL3-Height</text>
<path d="M474.3 290.8 L474.3 290.6 L474.6 290.6 L475.0 290.5 L475.3 290.5 L475.6 290.5 L476.0 290.4 L476.3 290.4 L476.6 290.3 L477.0 290.3 L477.3 290.2 L477.7 290.1 L478.0 290.1 L478.3 290.0 L478.7 289.9 L479.0 289.8 L479.3 289.7 L479.7 289.6 L480.0 289.5 L480.3 289.5 L480.7 289.4 L481.0 289.2 L481.3 289.1 L481.7 289.0 L482.0 288.9 L482.3 288.8 L482.7 288.7 L483.0 288.6 L483.3 288.4 L483.7 288.3 L484.0 288.1 L484.4 288.0 L484.7 287.8 L485.0 287.6 L485.4 287.5 L485.7 287.2 L486.0 287.0 L486.4 286.8 L486.7 286.5 L487.0 286.2 L487.4 285.9 L487.7 285.5 L488.0 285.1 L488.4 284.7 L488.7 284.3 L489.0 283.8 L489.4 283.3 L489.7 282.8 L490.0 282.2 L490.4 281.6 L490.7 281.0 L491.1 280.4 L491.4 279.7 L491.7 279.1 L492.1 278.5 L492.4 277.8 L492.7 277.2 L493.1 276.6 L493.4 276.0 L493.7 275.5 L494.1 275.0 L494.4 274.5 L494.7 274.1 L495.1 273.8 L495.4 273.5 L495.7 273.3 L496.1 273.2 L496.4 273.1 L496.8 273.2 L497.1 273.6 L497.4 274.3 L497.8 275.4 L498.1 276.8 L498.4 278.3 L498.8 279.9 L499.1 281.5 L499.4 283.1 L499.8 284.5 L500.1 285.8 L500.4 286.9 L500.8 287.9 L501.1 288.6 L501.4 289.2 L501.8 289.7 L502.1 290.0 L502.4 290.3 L502.8 290.5 L503.1 290.6 L503.5 290.7 L503.8 290.7 L504.1 290.7 L504.5 290.8 L504.8 290.8 L505.1 290.8 L505.5 290.8 L505.8 290.8 L506.1 290.8 L506.5 290.8 L506.8 290.8 L507.1 290.8 L507.5 290.8 L507.8 290.8 L508.1 290.8 L508.5 290.8 L508.8 290.8 L509.1 290.8 L509.5 290.8 L509.8 290.8 L510.2 290.8 L510.5 290.8 L510.8 290.8 L511.2 290.8 L511.5 290.8 L511.8 290.8 L512.2 290.8 L512.5 290.8 L512.5 290.8 Z" fill="#a4a4a4" stroke="#1a1a1a" stroke-width="0.95"/>
<path d="M474.3 290.8 L474.3 282.5 L474.6 282.0 L475.0 281.4 L475.3 280.8 L475.6 280.2 L476.0 279.5 L476.3 278.9 L476.6 278.2 L477.0 277.5 L477.3 276.9 L477.7 276.2 L478.0 275.5 L478.3 274.9 L478.7 274.2 L479.0 273.6 L479.3 273.0 L479.7 272.5 L480.0 271.9 L480.3 271.5 L480.7 271.1 L481.0 270.8 L481.3 270.6 L481.7 270.7 L482.0 271.2 L482.3 272.1 L482.7 273.2 L483.0 274.4 L483.3 275.6 L483.7 276.9 L484.0 278.2 L484.4 279.4 L484.7 280.7 L485.0 281.8 L485.4 282.9 L485.7 283.9 L486.0 284.8 L486.4 285.6 L486.7 286.3 L487.0 287.0 L487.4 287.6 L487.7 288.1 L488.0 288.5 L488.4 288.9 L488.7 289.2 L489.0 289.5 L489.4 289.7 L489.7 289.9 L490.0 290.1 L490.4 290.2 L490.7 290.3 L491.1 290.4 L491.4 290.5 L491.7 290.6 L492.1 290.6 L492.4 290.7 L492.7 290.7 L493.1 290.7 L493.4 290.7 L493.7 290.7 L494.1 290.8 L494.4 290.8 L494.7 290.8 L495.1 290.8 L495.4 290.8 L495.7 290.8 L496.1 290.8 L496.4 290.8 L496.8 290.8 L497.1 290.8 L497.4 290.8 L497.8 290.8 L498.1 290.8 L498.4 290.8 L498.8 290.8 L499.1 290.8 L499.4 290.8 L499.8 290.8 L500.1 290.8 L500.4 290.8 L500.8 290.8 L501.1 290.8 L501.4 290.8 L501.8 290.8 L502.1 290.8 L502.4 290.8 L502.8 290.8 L503.1 290.8 L503.5 290.8 L503.8 290.8 L504.1 290.8 L504.5 290.8 L504.8 290.8 L505.1 290.8 L505.5 290.8 L505.8 290.8 L506.1 290.8 L506.5 290.8 L506.8 290.8 L507.1 290.8 L507.5 290.8 L507.8 290.8 L508.1 290.8 L508.5 290.8 L508.8 290.8 L509.1 290.8 L509.5 290.8 L509.8 290.8 L510.2 290.8 L510.5 290.8 L510.8 290.8 L511.2 290.8 L511.5 290.8 L511.8 290.8 L512.2 290.8 L512.5 290.8" fill="none" stroke="#111" stroke-width="1.05"/>
<rect x="474.30" y="251.80" width="38.20" height="39.00" fill="none" stroke="#333" stroke-width="1.0"/>
<line x1="474.30" y1="290.50" x2="512.50" y2="290.50" stroke="#0a0a0a" stroke-width="1.6"/>
<line x1="474.50" y1="251.80" x2="474.50" y2="290.80" stroke="#1a1a1a" stroke-width="1.4"/>
<line x1="472.90" y1="290.80" x2="474.30" y2="290.80" stroke="#333" stroke-width="0.6"/>
<line x1="472.90" y1="283.00" x2="474.30" y2="283.00" stroke="#333" stroke-width="0.6"/>
<line x1="472.90" y1="275.20" x2="474.30" y2="275.20" stroke="#333" stroke-width="0.6"/>
<line x1="472.90" y1="267.40" x2="474.30" y2="267.40" stroke="#333" stroke-width="0.6"/>
<line x1="472.90" y1="259.60" x2="474.30" y2="259.60" stroke="#333" stroke-width="0.6"/>
<line x1="472.90" y1="251.80" x2="474.30" y2="251.80" stroke="#333" stroke-width="0.6"/>
<text class="s" transform="translate(471.30 251.80) rotate(-90)" text-anchor="middle" font-size="4.5">120</text>
<text class="s" transform="translate(471.30 290.80) rotate(-90)" text-anchor="middle" font-size="4.5">0</text>
<text class="s" transform="translate(466.30 272.50) rotate(-90)" text-anchor="middle" font-size="4.5">Counts</text>
<text class="s" x="474.50" y="297.60" text-anchor="middle" font-size="4.5">10<tspan font-size="3.8" dy="-1.9">0</tspan></text>
<text class="s" x="484.05" y="297.60" text-anchor="middle" font-size="4.5">10<tspan font-size="3.8" dy="-1.9">1</tspan></text>
<text class="s" x="493.60" y="297.60" text-anchor="middle" font-size="4.5">10<tspan font-size="3.8" dy="-1.9">2</tspan></text>
<text class="s" x="503.15" y="297.60" text-anchor="middle" font-size="4.5">10<tspan font-size="3.8" dy="-1.9">3</tspan></text>
<text class="s" x="512.70" y="297.60" text-anchor="middle" font-size="4.5">10<tspan font-size="3.8" dy="-1.9">4</tspan></text>
<text class="s" x="493.40" y="302.40" text-anchor="middle" font-size="4.5">FL3-Height</text>
<text x="1.5" y="13.8" font-weight="bold" font-size="17.7">A</text>
<text x="271.0" y="14.0" font-weight="bold" font-size="17.2">B</text>
<text x="278.9" y="238.0" font-weight="bold" font-size="16.8">C</text>
<text x="63.20" y="7.80" font-weight="bold" font-size="8.2" text-anchor="middle">BLyS</text>
<text x="63.80" y="17.50" font-weight="bold" font-size="8.2" text-anchor="middle">Binding</text>
<text x="120.80" y="18.10" font-weight="bold" font-size="8.2" text-anchor="middle">BCMA</text>
<text x="178.40" y="18.10" font-weight="bold" font-size="8.2" text-anchor="middle">BAFF-R</text>
<text x="232.90" y="18.10" font-weight="bold" font-size="8.2" text-anchor="middle">TACI</text>
<text x="317.80" y="9.60" font-weight="bold" font-size="8.2" text-anchor="middle">BLyS</text>
<text x="319.70" y="19.50" font-weight="bold" font-size="8.2" text-anchor="middle">Binding</text>
<text x="377.30" y="19.70" font-weight="bold" font-size="8.2" text-anchor="middle">BCMA</text>
<text x="436.60" y="19.70" font-weight="bold" font-size="8.2" text-anchor="middle">BAFF-R</text>
<text x="490.90" y="19.70" font-weight="bold" font-size="8.2" text-anchor="middle">TACI</text>
<text x="318.00" y="232.00" font-weight="bold" font-size="8.2" text-anchor="middle">BLyS</text>
<text x="319.60" y="241.70" font-weight="bold" font-size="8.2" text-anchor="middle">Binding</text>
<text x="376.10" y="242.00" font-weight="bold" font-size="8.2" text-anchor="middle">BCMA</text>
<text x="436.90" y="242.10" font-weight="bold" font-size="8.2" text-anchor="middle">BAFF-R</text>
<text x="490.60" y="242.10" font-weight="bold" font-size="8.2" text-anchor="middle">TACI</text>
<text x="32.0" y="49.10" font-weight="bold" font-size="8.2" text-anchor="end">ANBL-6</text>
<text x="32.0" y="106.90" font-weight="bold" font-size="8.2" text-anchor="end">DP-6</text>
<text x="32.0" y="160.90" font-weight="bold" font-size="8.2" text-anchor="end">KAS-6/1</text>
<text x="32.0" y="216.40" font-weight="bold" font-size="8.2" text-anchor="end">KP-6</text>
<text x="32.0" y="271.90" font-weight="bold" font-size="8.2" text-anchor="end">JMW</text>
<text transform="translate(279.5 105.6) rotate(-90)" font-weight="bold" font-size="8.4" text-anchor="middle">Multiple Myeloma Cells</text>
</svg>
</body></html>
